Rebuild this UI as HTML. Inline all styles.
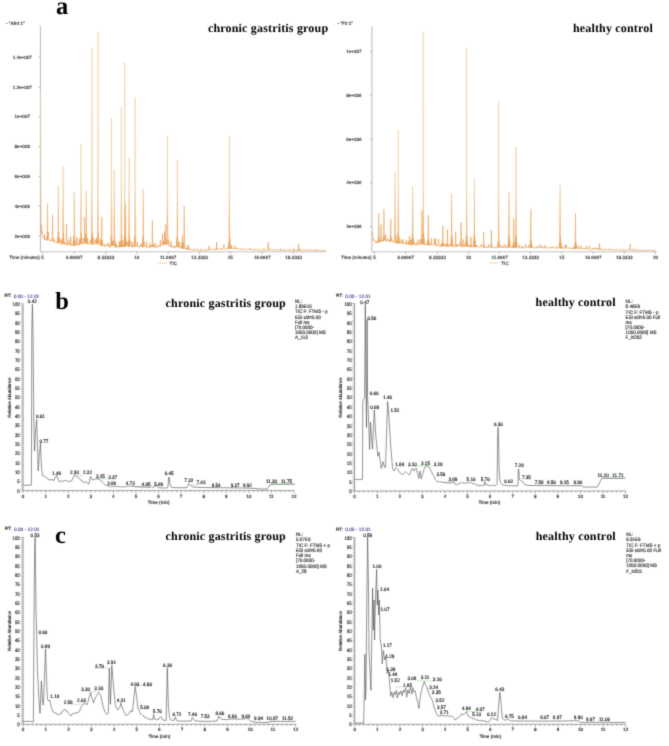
<!DOCTYPE html>
<html><head><meta charset="utf-8"><style>
html,body{margin:0;padding:0;background:#fff;}
svg{display:block;will-change:transform;} text{text-rendering:geometricPrecision;}
</style></head><body>
<svg width="669" height="746" viewBox="0 0 669 746">
<defs><linearGradient id="ga" gradientUnits="userSpaceOnUse" x1="0" y1="26" x2="0" y2="252"><stop offset="0" stop-color="#efd4ae"/><stop offset="0.72" stop-color="#efcfa2"/><stop offset="0.88" stop-color="#eca862"/><stop offset="1" stop-color="#e99c4e"/></linearGradient></defs>
<filter id="bl" filterUnits="userSpaceOnUse" x="-10" y="-10" width="689" height="766" color-interpolation-filters="sRGB"><feConvolveMatrix order="3" kernelMatrix="0.01917 0.10012 0.01917 0.10012 0.52283 0.10012 0.01917 0.10012 0.01917" preserveAlpha="true" edgeMode="duplicate"/></filter>
<rect width="669" height="746" fill="#fff"/>
<g filter="url(#bl)">
<rect x="-10" y="-10" width="689" height="766" fill="#fff"/>
<text x="56.00" y="13.80" font-size="24.5" text-anchor="start" fill="#000" font-family="&quot;Liberation Serif&quot;, serif" font-weight="bold" >a</text>
<text x="55.20" y="309.40" font-size="24.5" text-anchor="start" fill="#000" font-family="&quot;Liberation Serif&quot;, serif" font-weight="bold" >b</text>
<text x="54.90" y="542.90" font-size="24.5" text-anchor="start" fill="#000" font-family="&quot;Liberation Serif&quot;, serif" font-weight="bold" >c</text>
<text x="207.90" y="31.60" font-size="12.0" text-anchor="start" fill="#000" font-family="&quot;Liberation Serif&quot;, serif" font-weight="bold" letter-spacing="0.18">chronic gastritis group</text>
<text x="572.90" y="31.60" font-size="12.0" text-anchor="start" fill="#000" font-family="&quot;Liberation Serif&quot;, serif" font-weight="bold" letter-spacing="0.18">healthy control</text>
<text x="165.60" y="306.50" font-size="12.0" text-anchor="start" fill="#000" font-family="&quot;Liberation Serif&quot;, serif" font-weight="bold" letter-spacing="0.18">chronic gastritis group</text>
<text x="535.60" y="306.40" font-size="12.0" text-anchor="start" fill="#000" font-family="&quot;Liberation Serif&quot;, serif" font-weight="bold" letter-spacing="0.18">healthy control</text>
<text x="165.60" y="539.80" font-size="12.0" text-anchor="start" fill="#000" font-family="&quot;Liberation Serif&quot;, serif" font-weight="bold" letter-spacing="0.18">chronic gastritis group</text>
<text x="535.70" y="539.80" font-size="12.0" text-anchor="start" fill="#000" font-family="&quot;Liberation Serif&quot;, serif" font-weight="bold" letter-spacing="0.18">healthy control</text>
<line x1="40.40" y1="25.70" x2="40.40" y2="251.80" stroke="#999" stroke-width="0.7"/>
<line x1="40.40" y1="251.80" x2="326.50" y2="251.80" stroke="#aaa" stroke-width="0.7"/>
<line x1="38.40" y1="235.90" x2="40.40" y2="235.90" stroke="#888" stroke-width="0.6"/>
<text x="22.30" y="237.56" font-size="4.6" text-anchor="middle" fill="#444" font-family="&quot;Liberation Sans&quot;, sans-serif" font-weight="normal" stroke="#444" stroke-width="0.18" >2e+006</text>
<line x1="38.40" y1="206.10" x2="40.40" y2="206.10" stroke="#888" stroke-width="0.6"/>
<text x="22.30" y="207.76" font-size="4.6" text-anchor="middle" fill="#444" font-family="&quot;Liberation Sans&quot;, sans-serif" font-weight="normal" stroke="#444" stroke-width="0.18" >4e+006</text>
<line x1="38.40" y1="176.40" x2="40.40" y2="176.40" stroke="#888" stroke-width="0.6"/>
<text x="22.30" y="178.06" font-size="4.6" text-anchor="middle" fill="#444" font-family="&quot;Liberation Sans&quot;, sans-serif" font-weight="normal" stroke="#444" stroke-width="0.18" >6e+006</text>
<line x1="38.40" y1="146.60" x2="40.40" y2="146.60" stroke="#888" stroke-width="0.6"/>
<text x="22.30" y="148.26" font-size="4.6" text-anchor="middle" fill="#444" font-family="&quot;Liberation Sans&quot;, sans-serif" font-weight="normal" stroke="#444" stroke-width="0.18" >8e+006</text>
<line x1="38.40" y1="116.80" x2="40.40" y2="116.80" stroke="#888" stroke-width="0.6"/>
<text x="22.30" y="118.46" font-size="4.6" text-anchor="middle" fill="#444" font-family="&quot;Liberation Sans&quot;, sans-serif" font-weight="normal" stroke="#444" stroke-width="0.18" >1e+007</text>
<line x1="38.40" y1="87.10" x2="40.40" y2="87.10" stroke="#888" stroke-width="0.6"/>
<text x="22.30" y="88.76" font-size="4.6" text-anchor="middle" fill="#444" font-family="&quot;Liberation Sans&quot;, sans-serif" font-weight="normal" stroke="#444" stroke-width="0.18" >1.2e+007</text>
<line x1="38.40" y1="57.30" x2="40.40" y2="57.30" stroke="#888" stroke-width="0.6"/>
<text x="22.30" y="58.96" font-size="4.6" text-anchor="middle" fill="#444" font-family="&quot;Liberation Sans&quot;, sans-serif" font-weight="normal" stroke="#444" stroke-width="0.18" >1.4e+007</text>
<text x="6.00" y="24.66" font-size="4.6" text-anchor="start" fill="#444" font-family="&quot;Liberation Sans&quot;, sans-serif" font-weight="normal" stroke="#444" stroke-width="0.18" >- "AB4:1"</text>
<line x1="42.60" y1="251.80" x2="42.60" y2="253.80" stroke="#888" stroke-width="0.6"/>
<text x="42.60" y="259.36" font-size="4.6" text-anchor="middle" fill="#444" font-family="&quot;Liberation Sans&quot;, sans-serif" font-weight="normal" stroke="#444" stroke-width="0.18" ></text>
<line x1="74.30" y1="251.80" x2="74.30" y2="253.80" stroke="#888" stroke-width="0.6"/>
<text x="74.30" y="259.36" font-size="4.6" text-anchor="middle" fill="#444" font-family="&quot;Liberation Sans&quot;, sans-serif" font-weight="normal" stroke="#444" stroke-width="0.18" >6.66667</text>
<line x1="105.90" y1="251.80" x2="105.90" y2="253.80" stroke="#888" stroke-width="0.6"/>
<text x="105.90" y="259.36" font-size="4.6" text-anchor="middle" fill="#444" font-family="&quot;Liberation Sans&quot;, sans-serif" font-weight="normal" stroke="#444" stroke-width="0.18" >8.33333</text>
<line x1="136.80" y1="251.80" x2="136.80" y2="253.80" stroke="#888" stroke-width="0.6"/>
<text x="136.80" y="259.36" font-size="4.6" text-anchor="middle" fill="#444" font-family="&quot;Liberation Sans&quot;, sans-serif" font-weight="normal" stroke="#444" stroke-width="0.18" >10</text>
<line x1="168.20" y1="251.80" x2="168.20" y2="253.80" stroke="#888" stroke-width="0.6"/>
<text x="168.20" y="259.36" font-size="4.6" text-anchor="middle" fill="#444" font-family="&quot;Liberation Sans&quot;, sans-serif" font-weight="normal" stroke="#444" stroke-width="0.18" >11.6667</text>
<line x1="199.60" y1="251.80" x2="199.60" y2="253.80" stroke="#888" stroke-width="0.6"/>
<text x="199.60" y="259.36" font-size="4.6" text-anchor="middle" fill="#444" font-family="&quot;Liberation Sans&quot;, sans-serif" font-weight="normal" stroke="#444" stroke-width="0.18" >13.3333</text>
<line x1="230.20" y1="251.80" x2="230.20" y2="253.80" stroke="#888" stroke-width="0.6"/>
<text x="230.20" y="259.36" font-size="4.6" text-anchor="middle" fill="#444" font-family="&quot;Liberation Sans&quot;, sans-serif" font-weight="normal" stroke="#444" stroke-width="0.18" >15</text>
<line x1="262.20" y1="251.80" x2="262.20" y2="253.80" stroke="#888" stroke-width="0.6"/>
<text x="262.20" y="259.36" font-size="4.6" text-anchor="middle" fill="#444" font-family="&quot;Liberation Sans&quot;, sans-serif" font-weight="normal" stroke="#444" stroke-width="0.18" >16.6667</text>
<line x1="293.50" y1="251.80" x2="293.50" y2="253.80" stroke="#888" stroke-width="0.6"/>
<text x="293.50" y="259.36" font-size="4.6" text-anchor="middle" fill="#444" font-family="&quot;Liberation Sans&quot;, sans-serif" font-weight="normal" stroke="#444" stroke-width="0.18" >18.3333</text>
<text x="9.30" y="259.26" font-size="4.6" text-anchor="start" fill="#444" font-family="&quot;Liberation Sans&quot;, sans-serif" font-weight="normal" stroke="#444" stroke-width="0.18" >Time (minutes)</text>
<line x1="158.30" y1="263.00" x2="167.30" y2="263.00" stroke="#f0c08a" stroke-width="0.7"/>
<text x="169.60" y="264.66" font-size="4.6" text-anchor="start" fill="#444" font-family="&quot;Liberation Sans&quot;, sans-serif" font-weight="normal" stroke="#444" stroke-width="0.18" >TIC</text>
<path d="M40.60,93.00 L41.10,229.42 L41.16,231.35 L41.56,224.82 L41.70,234.17 L41.96,230.92 L42.30,235.50 L42.90,237.63 L43.50,237.25 L44.09,238.31 L44.10,238.39 L44.49,234.03 L44.70,239.86 L44.89,238.02 L45.30,238.92 L45.90,240.19 L46.40,239.34 L46.50,239.38 L46.89,238.56 L47.00,236.65 L47.10,240.40 L47.29,232.41 L47.35,233.50 L47.60,203.30 L47.69,238.15 L47.70,240.49 L47.90,233.06 L47.96,238.71 L48.30,236.20 L48.36,232.26 L48.76,238.28 L48.90,239.11 L49.50,240.83 L50.10,240.73 L50.70,239.91 L51.14,241.23 L51.30,240.94 L51.54,240.10 L51.90,238.98 L51.94,241.16 L52.25,236.68 L52.50,214.60 L52.80,236.35 L53.10,239.78 L53.20,238.65 L53.41,241.50 L53.70,242.21 L53.80,240.78 L53.81,238.91 L54.21,241.33 L54.30,240.46 L54.90,242.02 L55.50,242.57 L56.10,242.83 L56.67,242.99 L56.70,242.57 L57.07,241.67 L57.20,241.75 L57.30,241.55 L57.47,242.90 L57.80,237.55 L57.90,243.27 L57.95,241.46 L58.15,232.66 L58.35,234.35 L58.40,185.60 L58.50,242.47 L58.70,231.96 L58.75,240.99 L59.10,236.86 L59.70,241.40 L59.79,242.97 L60.19,239.16 L60.30,242.96 L60.59,242.72 L60.90,244.25 L61.50,244.40 L61.52,243.33 L61.92,239.41 L62.00,242.82 L62.10,244.18 L62.32,243.07 L62.60,238.62 L62.70,243.17 L62.95,233.72 L63.20,166.40 L63.30,243.92 L63.50,233.02 L63.90,237.92 L63.93,244.31 L64.33,241.71 L64.50,242.47 L64.73,244.13 L65.10,244.24 L65.40,244.76 L65.70,244.69 L66.00,243.22 L66.20,244.54 L66.30,243.58 L66.35,241.43 L66.60,224.20 L66.90,241.18 L67.00,244.34 L67.30,242.97 L67.50,245.06 L67.90,244.63 L68.10,244.35 L68.36,244.26 L68.70,244.55 L68.76,239.59 L69.16,243.95 L69.30,243.79 L69.90,244.22 L70.18,243.58 L70.50,245.36 L70.58,236.13 L70.98,243.08 L71.10,243.78 L71.70,245.92 L72.30,245.22 L72.90,244.42 L73.00,244.32 L73.02,245.17 L73.42,241.93 L73.50,245.89 L73.60,240.41 L73.82,244.96 L73.95,235.86 L74.10,245.10 L74.20,192.00 L74.50,235.20 L74.70,246.20 L74.90,239.76 L75.30,244.71 L75.50,244.00 L75.90,244.49 L76.45,243.99 L76.50,244.97 L76.85,236.89 L77.10,244.26 L77.25,243.52 L77.70,245.63 L78.30,244.73 L78.88,244.19 L78.90,244.74 L79.28,238.80 L79.50,244.50 L79.68,243.83 L79.90,243.08 L80.10,244.52 L80.50,238.88 L80.70,243.32 L80.71,242.93 L80.85,233.98 L81.10,144.30 L81.11,236.18 L81.30,242.88 L81.40,233.28 L81.51,242.48 L81.80,238.18 L81.90,243.90 L82.40,242.73 L82.50,243.34 L83.10,244.69 L83.40,243.58 L83.51,243.06 L83.70,243.04 L83.91,238.18 L84.00,241.59 L84.30,243.07 L84.31,242.74 L84.35,239.28 L84.60,217.00 L84.90,238.95 L84.92,242.43 L85.00,242.56 L85.30,241.26 L85.32,236.22 L85.50,242.53 L85.60,238.67 L85.72,242.02 L85.90,243.41 L85.95,234.13 L86.10,243.82 L86.20,190.50 L86.50,233.48 L86.70,243.57 L86.90,238.02 L87.11,242.96 L87.30,242.90 L87.50,242.23 L87.51,238.34 L87.90,244.45 L87.91,242.65 L88.50,243.39 L89.10,244.11 L89.70,244.28 L90.30,244.48 L90.41,243.49 L90.70,242.66 L90.81,239.98 L90.90,242.83 L91.21,243.26 L91.30,238.46 L91.50,244.42 L91.65,233.56 L91.90,48.10 L92.10,244.19 L92.20,232.86 L92.52,242.83 L92.60,237.76 L92.70,243.90 L92.92,236.74 L93.20,242.31 L93.30,242.80 L93.32,242.42 L93.90,244.75 L94.50,243.92 L94.81,243.67 L95.10,243.75 L95.21,239.42 L95.61,243.39 L95.70,243.03 L96.12,243.38 L96.30,243.25 L96.52,237.77 L96.80,243.33 L96.90,243.22 L96.92,243.00 L97.40,239.13 L97.50,244.70 L97.75,234.23 L98.00,31.30 L98.10,244.44 L98.30,233.53 L98.70,238.43 L99.30,242.98 L99.90,243.49 L100.15,244.26 L100.50,245.62 L100.55,239.25 L100.60,245.16 L100.95,243.93 L101.01,244.63 L101.10,245.71 L101.20,243.06 L101.41,240.12 L101.55,240.61 L101.70,245.73 L101.80,217.00 L101.81,244.33 L102.10,240.26 L102.30,245.86 L102.50,242.71 L102.90,245.49 L103.10,244.99 L103.50,245.42 L104.10,246.21 L104.68,246.24 L104.70,246.86 L105.08,244.10 L105.30,246.16 L105.48,246.10 L105.90,246.32 L106.50,245.99 L107.10,245.28 L107.37,246.14 L107.70,245.87 L107.77,242.77 L108.17,245.91 L108.30,246.28 L108.90,246.14 L109.23,246.61 L109.50,246.09 L109.63,244.09 L110.03,246.44 L110.10,247.39 L110.30,245.55 L110.70,245.77 L110.90,241.35 L111.25,236.45 L111.30,246.07 L111.50,118.00 L111.80,235.75 L111.90,245.94 L112.20,240.65 L112.50,246.07 L112.80,245.20 L112.85,245.95 L113.10,245.46 L113.25,240.93 L113.65,245.62 L113.70,241.26 L114.05,236.36 L114.30,169.60 L114.60,235.66 L114.86,246.86 L114.90,246.26 L115.00,240.56 L115.26,244.90 L115.50,247.37 L115.60,245.11 L115.66,246.73 L116.10,247.32 L116.23,246.48 L116.63,243.64 L116.70,247.01 L117.03,246.29 L117.30,247.06 L117.90,246.67 L118.50,247.21 L118.97,245.69 L119.10,247.29 L119.37,240.92 L119.70,246.96 L119.77,245.37 L120.20,245.08 L120.30,247.03 L120.80,240.88 L120.90,246.48 L121.15,235.98 L121.40,106.80 L121.50,247.13 L121.70,235.28 L121.83,246.54 L122.10,240.18 L122.23,244.73 L122.63,246.42 L122.70,244.73 L123.30,246.80 L123.41,246.62 L123.50,244.94 L123.81,245.26 L123.90,246.57 L124.10,240.74 L124.21,246.53 L124.40,245.46 L124.45,235.84 L124.50,246.35 L124.70,62.30 L125.00,242.36 L125.10,246.29 L125.35,238.75 L125.40,240.04 L125.60,204.00 L125.70,246.76 L125.90,238.23 L126.00,244.59 L126.30,241.84 L126.83,245.82 L126.90,245.20 L127.23,242.04 L127.50,246.16 L127.63,245.57 L128.00,245.08 L128.10,246.16 L128.60,240.88 L128.70,246.98 L128.81,245.73 L128.95,235.98 L129.20,157.50 L129.21,241.40 L129.30,246.98 L129.50,235.28 L129.61,245.44 L129.90,240.18 L130.50,244.73 L131.10,245.61 L131.70,246.98 L131.79,245.93 L132.19,241.75 L132.30,247.28 L132.59,245.65 L132.90,245.46 L133.50,246.33 L133.80,245.36 L134.10,247.12 L134.18,245.72 L134.40,241.16 L134.58,240.55 L134.70,246.36 L134.75,236.26 L134.98,245.37 L135.00,97.20 L135.30,235.56 L135.70,240.46 L135.90,246.45 L136.30,245.01 L136.50,245.57 L137.10,245.83 L137.27,246.21 L137.67,242.06 L137.70,246.20 L138.07,245.93 L138.30,247.10 L138.90,246.91 L139.50,247.34 L140.10,246.16 L140.56,246.67 L140.70,246.65 L140.96,243.54 L141.30,246.17 L141.36,246.46 L141.90,247.08 L142.00,245.66 L142.50,247.30 L142.60,241.46 L142.95,236.56 L143.10,246.14 L143.20,188.90 L143.50,235.86 L143.70,246.78 L143.90,240.76 L144.10,243.78 L144.30,246.08 L144.50,245.31 L144.90,246.19 L145.50,246.17 L146.10,246.34 L146.14,246.26 L146.54,241.53 L146.70,247.38 L146.94,245.94 L147.30,246.81 L147.90,247.15 L148.50,247.81 L149.10,247.83 L149.49,246.80 L149.70,247.34 L149.89,243.49 L150.29,246.58 L150.30,247.39 L150.90,246.53 L151.20,246.96 L151.50,246.02 L151.80,244.99 L152.10,247.05 L152.15,242.70 L152.40,220.60 L152.70,242.37 L153.06,246.99 L153.10,244.67 L153.30,245.99 L153.46,244.05 L153.70,246.80 L153.86,246.79 L153.90,246.07 L154.50,247.26 L154.75,246.68 L155.10,247.54 L155.15,242.78 L155.55,246.42 L155.70,247.43 L156.30,247.40 L156.90,247.29 L157.50,246.35 L157.52,246.88 L157.92,244.92 L158.10,245.70 L158.32,246.75 L158.70,245.73 L159.30,246.35 L159.90,245.91 L160.05,245.26 L160.45,240.20 L160.50,245.32 L160.85,244.92 L161.10,246.41 L161.30,245.36 L161.70,244.92 L161.90,244.50 L162.25,243.50 L162.30,244.08 L162.50,233.90 L162.80,243.36 L162.90,243.99 L163.20,244.36 L163.30,244.66 L163.50,243.88 L163.60,241.25 L163.80,245.28 L163.90,243.68 L164.00,244.13 L164.10,244.29 L164.25,242.53 L164.50,231.50 L164.60,244.10 L164.70,244.75 L164.80,242.37 L165.20,242.62 L165.30,243.39 L165.55,240.88 L165.80,224.20 L165.90,244.16 L166.10,240.63 L166.14,244.41 L166.20,243.54 L166.50,242.37 L166.54,242.25 L166.80,239.34 L166.94,244.26 L167.10,243.98 L167.15,234.44 L167.40,136.20 L167.70,233.74 L168.10,238.64 L168.19,244.62 L168.30,245.33 L168.59,239.66 L168.70,243.19 L168.90,244.51 L168.99,244.29 L169.50,245.23 L170.10,246.60 L170.46,245.81 L170.70,246.96 L170.86,241.37 L171.26,245.51 L171.30,247.18 L171.90,245.95 L172.50,246.24 L173.10,247.63 L173.70,246.34 L174.30,246.10 L174.41,247.58 L174.81,245.97 L174.90,246.81 L175.21,247.47 L175.50,247.49 L176.10,246.30 L176.38,247.11 L176.70,242.10 L176.78,243.42 L177.05,237.20 L177.18,246.86 L177.30,160.00 L177.60,236.50 L177.90,246.52 L178.00,241.40 L178.50,247.23 L178.60,245.95 L178.82,247.05 L179.10,247.55 L179.22,242.36 L179.62,246.74 L179.70,246.80 L180.30,247.87 L180.90,247.07 L181.16,247.37 L181.30,248.53 L181.50,247.24 L181.56,242.78 L181.90,247.56 L181.96,247.06 L182.10,248.55 L182.25,246.43 L182.50,235.50 L182.70,248.54 L182.80,246.26 L182.99,247.57 L183.00,247.67 L183.20,247.40 L183.30,248.54 L183.39,242.85 L183.60,244.54 L183.79,247.25 L183.80,248.45 L183.90,248.72 L183.95,240.88 L184.20,205.70 L184.50,240.36 L184.90,244.02 L185.10,248.84 L185.50,247.41 L185.70,248.59 L186.08,249.24 L186.30,249.25 L186.48,248.34 L186.88,249.18 L186.90,247.77 L187.40,249.64 L187.50,248.94 L187.81,248.46 L188.00,249.41 L188.10,248.79 L188.21,244.68 L188.35,249.13 L188.60,246.50 L188.61,248.21 L188.70,248.60 L188.90,249.09 L189.29,249.59 L189.30,249.37 L189.69,248.75 L189.90,249.62 L190.09,249.53 L190.50,249.12 L191.10,249.56 L191.70,249.59 L192.30,249.66 L192.90,250.17 L193.50,249.85 L193.87,250.02 L194.10,250.15 L194.27,249.09 L194.67,249.96 L194.70,250.37 L195.30,249.69 L195.90,250.26 L196.49,250.05 L196.50,250.00 L196.89,248.88 L197.10,249.79 L197.29,249.97 L197.70,249.95 L198.30,250.17 L198.90,250.01 L199.50,249.99 L200.10,249.80 L200.61,250.07 L200.70,250.42 L201.01,248.73 L201.30,250.02 L201.41,249.98 L201.90,250.31 L202.50,250.30 L203.10,249.87 L203.70,250.12 L204.30,250.08 L204.90,249.91 L205.50,249.74 L205.75,250.25 L206.10,250.11 L206.15,249.49 L206.55,250.20 L206.70,249.91 L207.30,249.96 L207.80,250.13 L207.90,249.91 L208.40,249.82 L208.50,249.70 L208.75,249.46 L209.00,246.00 L209.10,249.86 L209.30,249.41 L209.70,249.77 L209.80,249.87 L210.20,248.93 L210.30,250.10 L210.60,249.81 L210.90,249.29 L211.50,249.46 L212.10,249.25 L212.70,249.15 L213.30,249.72 L213.90,249.40 L214.50,249.01 L215.10,249.06 L215.40,249.43 L215.70,249.65 L215.74,249.39 L216.00,248.87 L216.14,248.33 L216.30,249.62 L216.35,248.23 L216.54,249.32 L216.60,242.00 L216.90,248.13 L217.30,248.78 L217.50,249.57 L217.90,249.38 L218.10,249.38 L218.70,249.51 L219.30,248.96 L219.90,248.84 L220.15,249.16 L220.50,248.72 L220.55,248.09 L220.95,249.09 L221.10,249.37 L221.70,248.84 L222.30,248.88 L222.80,249.24 L222.90,249.32 L223.40,248.87 L223.50,248.64 L223.75,248.44 L224.00,244.30 L224.10,248.55 L224.30,248.38 L224.70,248.81 L225.19,249.29 L225.30,249.20 L225.59,249.03 L225.90,249.00 L225.99,249.27 L226.50,248.91 L227.10,248.44 L227.70,248.56 L228.20,247.03 L228.30,249.12 L228.80,242.82 L228.90,248.80 L229.15,237.93 L229.40,136.30 L229.50,248.65 L229.70,237.22 L230.10,242.12 L230.30,248.72 L230.70,246.68 L230.88,248.55 L230.90,248.45 L231.25,248.12 L231.28,247.51 L231.30,248.60 L231.50,245.00 L231.68,248.48 L231.80,248.07 L231.90,248.16 L232.20,248.40 L232.50,248.83 L232.80,248.70 L233.10,248.40 L233.50,248.91 L233.70,248.55 L234.10,248.65 L234.30,248.98 L234.45,248.36 L234.70,245.50 L234.90,248.76 L235.00,248.31 L235.40,248.61 L235.50,248.54 L236.00,248.89 L236.10,248.70 L236.69,248.83 L236.70,249.15 L237.09,247.56 L237.30,248.38 L237.49,248.74 L237.90,248.61 L238.50,248.49 L239.10,249.33 L239.70,249.23 L240.30,249.47 L240.90,248.83 L241.01,249.31 L241.41,248.58 L241.50,249.31 L241.81,249.26 L242.10,249.46 L242.70,249.21 L243.30,248.80 L243.90,248.90 L244.50,249.42 L245.10,249.54 L245.70,248.87 L246.30,249.21 L246.78,249.64 L246.90,249.11 L247.18,249.31 L247.50,249.68 L247.58,249.62 L248.10,249.73 L248.70,249.19 L249.30,249.44 L249.50,249.41 L249.90,248.10 L250.30,249.32 L250.50,249.02 L251.10,249.32 L251.70,249.19 L252.30,249.86 L252.90,249.18 L253.50,249.91 L254.10,249.22 L254.32,249.83 L254.70,249.61 L254.72,249.26 L255.12,249.79 L255.30,249.73 L255.90,249.56 L256.50,249.24 L257.10,249.86 L257.70,250.00 L258.30,249.67 L258.55,249.96 L258.90,249.95 L258.95,249.34 L259.35,249.92 L259.50,250.08 L260.10,250.06 L260.70,250.16 L261.30,250.03 L261.90,249.94 L262.50,249.95 L263.10,249.55 L263.52,249.83 L263.70,249.98 L263.92,248.58 L264.30,249.79 L264.32,249.74 L264.90,250.09 L265.50,249.94 L266.10,250.24 L266.70,250.04 L267.00,249.98 L267.30,250.26 L267.60,249.39 L267.90,249.62 L267.95,248.69 L268.20,242.00 L268.50,248.59 L268.90,249.29 L268.93,249.90 L269.10,250.12 L269.33,248.71 L269.50,249.93 L269.70,249.87 L269.73,249.82 L270.30,249.46 L270.90,250.21 L271.50,249.58 L272.10,249.93 L272.70,249.88 L273.30,249.58 L273.90,249.99 L274.44,250.21 L274.50,249.89 L274.84,249.80 L275.10,249.73 L275.24,250.19 L275.70,249.47 L276.30,250.05 L276.90,249.62 L277.50,249.74 L278.10,249.81 L278.70,250.02 L279.30,250.08 L279.90,250.35 L280.27,249.99 L280.50,250.29 L280.67,248.75 L281.07,249.91 L281.10,250.34 L281.70,249.74 L282.30,250.18 L282.90,250.27 L283.50,250.34 L284.10,249.66 L284.65,250.27 L284.70,249.64 L285.05,249.81 L285.30,249.82 L285.45,250.24 L285.90,250.18 L286.50,250.21 L287.10,250.17 L287.70,250.02 L288.30,250.30 L288.90,250.04 L289.50,250.21 L289.88,250.27 L290.10,249.58 L290.28,249.72 L290.68,250.23 L290.70,249.58 L291.30,249.96 L291.90,250.24 L292.50,249.59 L293.10,250.19 L293.54,250.02 L293.70,250.15 L293.94,248.68 L294.30,250.47 L294.34,249.93 L294.90,250.13 L295.50,250.05 L296.10,250.03 L296.70,250.30 L296.86,250.26 L297.26,249.57 L297.30,250.03 L297.40,250.25 L297.66,250.21 L297.90,250.49 L298.00,249.77 L298.35,249.21 L298.50,250.25 L298.60,243.80 L298.90,249.13 L299.10,250.41 L299.30,249.69 L299.70,250.14 L299.81,250.14 L299.90,250.21 L300.21,249.05 L300.30,250.47 L300.61,250.07 L300.90,250.49 L301.50,250.25 L302.10,250.32 L302.70,250.01 L303.30,250.07 L303.90,249.88 L304.50,249.98 L305.02,250.28 L305.10,249.93 L305.42,249.36 L305.70,249.80 L305.82,250.22 L306.30,250.25 L306.90,250.31 L307.50,249.73 L308.10,250.49 L308.70,249.98 L309.10,250.45 L309.30,250.06 L309.50,249.85 L309.90,250.41 L310.50,249.91 L311.10,249.87 L311.70,250.12 L312.30,250.03 L312.90,249.97 L313.50,250.58 L314.10,250.25 L314.70,250.27 L314.94,250.47 L315.30,249.98 L315.34,249.68 L315.74,250.42 L315.90,250.02 L316.50,250.01 L317.10,250.24 L317.70,249.97 L318.30,250.17 L318.90,250.17 L319.50,250.59 L319.98,250.71 L320.10,250.78 L320.38,250.40 L320.70,250.70 L320.78,250.69 L321.30,250.50 L321.90,250.74 L322.50,250.09 L323.10,250.35 L323.70,250.30 L324.30,250.31 L324.42,250.73 L324.82,250.29 L324.90,250.27 L325.22,250.70 L325.50,250.45" fill="none" stroke="url(#ga)" stroke-width="0.7" stroke-linejoin="round" />
<text x="42.60" y="259.36" font-size="4.6" text-anchor="middle" fill="#444" font-family="&quot;Liberation Sans&quot;, sans-serif" font-weight="normal" stroke="#444" stroke-width="0.18" >5</text>
<line x1="371.90" y1="26.00" x2="371.90" y2="251.80" stroke="#999" stroke-width="0.7"/>
<line x1="371.90" y1="251.80" x2="656.50" y2="251.80" stroke="#aaa" stroke-width="0.7"/>
<line x1="369.90" y1="226.60" x2="371.90" y2="226.60" stroke="#888" stroke-width="0.6"/>
<text x="353.90" y="228.26" font-size="4.6" text-anchor="middle" fill="#444" font-family="&quot;Liberation Sans&quot;, sans-serif" font-weight="normal" stroke="#444" stroke-width="0.18" >2e+006</text>
<line x1="369.90" y1="182.80" x2="371.90" y2="182.80" stroke="#888" stroke-width="0.6"/>
<text x="353.90" y="184.46" font-size="4.6" text-anchor="middle" fill="#444" font-family="&quot;Liberation Sans&quot;, sans-serif" font-weight="normal" stroke="#444" stroke-width="0.18" >4e+006</text>
<line x1="369.90" y1="139.00" x2="371.90" y2="139.00" stroke="#888" stroke-width="0.6"/>
<text x="353.90" y="140.66" font-size="4.6" text-anchor="middle" fill="#444" font-family="&quot;Liberation Sans&quot;, sans-serif" font-weight="normal" stroke="#444" stroke-width="0.18" >6e+006</text>
<line x1="369.90" y1="95.10" x2="371.90" y2="95.10" stroke="#888" stroke-width="0.6"/>
<text x="353.90" y="96.76" font-size="4.6" text-anchor="middle" fill="#444" font-family="&quot;Liberation Sans&quot;, sans-serif" font-weight="normal" stroke="#444" stroke-width="0.18" >8e+006</text>
<line x1="369.90" y1="51.30" x2="371.90" y2="51.30" stroke="#888" stroke-width="0.6"/>
<text x="353.90" y="52.96" font-size="4.6" text-anchor="middle" fill="#444" font-family="&quot;Liberation Sans&quot;, sans-serif" font-weight="normal" stroke="#444" stroke-width="0.18" >1e+007</text>
<text x="337.60" y="25.26" font-size="4.6" text-anchor="start" fill="#444" font-family="&quot;Liberation Sans&quot;, sans-serif" font-weight="normal" stroke="#444" stroke-width="0.18" >- "F2:1"</text>
<line x1="374.60" y1="251.80" x2="374.60" y2="253.80" stroke="#888" stroke-width="0.6"/>
<text x="374.60" y="259.36" font-size="4.6" text-anchor="middle" fill="#444" font-family="&quot;Liberation Sans&quot;, sans-serif" font-weight="normal" stroke="#444" stroke-width="0.18" ></text>
<line x1="405.70" y1="251.80" x2="405.70" y2="253.80" stroke="#888" stroke-width="0.6"/>
<text x="405.70" y="259.36" font-size="4.6" text-anchor="middle" fill="#444" font-family="&quot;Liberation Sans&quot;, sans-serif" font-weight="normal" stroke="#444" stroke-width="0.18" >6.66667</text>
<line x1="437.40" y1="251.80" x2="437.40" y2="253.80" stroke="#888" stroke-width="0.6"/>
<text x="437.40" y="259.36" font-size="4.6" text-anchor="middle" fill="#444" font-family="&quot;Liberation Sans&quot;, sans-serif" font-weight="normal" stroke="#444" stroke-width="0.18" >8.33333</text>
<line x1="468.50" y1="251.80" x2="468.50" y2="253.80" stroke="#888" stroke-width="0.6"/>
<text x="468.50" y="259.36" font-size="4.6" text-anchor="middle" fill="#444" font-family="&quot;Liberation Sans&quot;, sans-serif" font-weight="normal" stroke="#444" stroke-width="0.18" >10</text>
<line x1="499.60" y1="251.80" x2="499.60" y2="253.80" stroke="#888" stroke-width="0.6"/>
<text x="499.60" y="259.36" font-size="4.6" text-anchor="middle" fill="#444" font-family="&quot;Liberation Sans&quot;, sans-serif" font-weight="normal" stroke="#444" stroke-width="0.18" >11.6667</text>
<line x1="530.60" y1="251.80" x2="530.60" y2="253.80" stroke="#888" stroke-width="0.6"/>
<text x="530.60" y="259.36" font-size="4.6" text-anchor="middle" fill="#444" font-family="&quot;Liberation Sans&quot;, sans-serif" font-weight="normal" stroke="#444" stroke-width="0.18" >13.3333</text>
<line x1="561.90" y1="251.80" x2="561.90" y2="253.80" stroke="#888" stroke-width="0.6"/>
<text x="561.90" y="259.36" font-size="4.6" text-anchor="middle" fill="#444" font-family="&quot;Liberation Sans&quot;, sans-serif" font-weight="normal" stroke="#444" stroke-width="0.18" >15</text>
<line x1="593.30" y1="251.80" x2="593.30" y2="253.80" stroke="#888" stroke-width="0.6"/>
<text x="593.30" y="259.36" font-size="4.6" text-anchor="middle" fill="#444" font-family="&quot;Liberation Sans&quot;, sans-serif" font-weight="normal" stroke="#444" stroke-width="0.18" >16.6667</text>
<line x1="624.20" y1="251.80" x2="624.20" y2="253.80" stroke="#888" stroke-width="0.6"/>
<text x="624.20" y="259.36" font-size="4.6" text-anchor="middle" fill="#444" font-family="&quot;Liberation Sans&quot;, sans-serif" font-weight="normal" stroke="#444" stroke-width="0.18" >18.3333</text>
<line x1="655.50" y1="251.80" x2="655.50" y2="253.80" stroke="#888" stroke-width="0.6"/>
<text x="655.50" y="259.36" font-size="4.6" text-anchor="middle" fill="#444" font-family="&quot;Liberation Sans&quot;, sans-serif" font-weight="normal" stroke="#444" stroke-width="0.18" >20</text>
<text x="341.00" y="259.26" font-size="4.6" text-anchor="start" fill="#444" font-family="&quot;Liberation Sans&quot;, sans-serif" font-weight="normal" stroke="#444" stroke-width="0.18" >Time (minutes)</text>
<line x1="489.30" y1="262.90" x2="499.00" y2="262.90" stroke="#f0c08a" stroke-width="0.7"/>
<text x="501.30" y="264.56" font-size="4.6" text-anchor="start" fill="#444" font-family="&quot;Liberation Sans&quot;, sans-serif" font-weight="normal" stroke="#444" stroke-width="0.18" >TIC</text>
<path d="M372.40,232.00 L372.90,237.73 L373.28,240.65 L373.50,238.58 L373.68,239.23 L374.08,240.56 L374.10,240.87 L374.70,241.52 L375.30,241.55 L375.44,242.41 L375.84,241.17 L375.90,241.38 L376.24,242.33 L376.50,242.79 L377.10,241.42 L377.50,241.93 L377.70,242.59 L378.10,239.77 L378.30,242.95 L378.45,237.26 L378.61,241.26 L378.70,213.10 L378.90,242.36 L379.00,236.90 L379.01,236.27 L379.40,239.42 L379.41,240.92 L379.50,241.18 L379.80,241.72 L380.00,241.75 L380.10,242.16 L380.40,240.44 L380.56,241.16 L380.70,240.82 L380.75,238.95 L380.96,237.52 L381.00,224.60 L381.30,238.74 L381.36,240.92 L381.70,240.23 L381.90,241.02 L382.30,241.61 L382.50,241.10 L382.58,241.33 L382.70,240.53 L382.98,239.88 L383.10,240.74 L383.30,238.18 L383.38,241.23 L383.65,235.43 L383.70,240.23 L383.90,209.00 L384.20,235.04 L384.30,239.98 L384.60,237.78 L384.90,240.25 L385.20,240.34 L385.47,239.80 L385.50,240.14 L385.87,234.68 L386.10,241.32 L386.27,239.46 L386.70,241.11 L387.30,240.81 L387.90,239.67 L388.16,240.81 L388.50,240.76 L388.56,238.92 L388.96,240.69 L389.10,240.33 L389.60,241.19 L389.70,241.70 L390.08,240.38 L390.20,239.56 L390.30,241.74 L390.48,235.74 L390.55,237.66 L390.80,219.40 L390.88,240.07 L390.90,241.43 L391.10,237.39 L391.50,239.29 L392.10,241.05 L392.70,241.02 L393.29,242.36 L393.30,242.05 L393.69,241.02 L393.90,241.13 L394.09,242.27 L394.50,236.93 L394.85,232.03 L395.10,171.80 L395.40,231.33 L395.59,242.34 L395.70,243.15 L395.80,236.23 L395.99,238.86 L396.30,241.62 L396.39,242.11 L396.40,240.78 L396.90,243.33 L397.10,241.83 L397.29,243.42 L397.50,241.70 L397.69,242.06 L397.70,237.63 L398.05,232.73 L398.09,243.33 L398.10,241.85 L398.30,130.60 L398.60,232.03 L398.70,243.93 L399.00,236.93 L399.30,243.02 L399.60,241.48 L399.90,242.29 L400.50,242.02 L400.79,242.99 L401.10,243.22 L401.19,239.29 L401.59,242.74 L401.70,243.68 L402.30,243.87 L402.90,242.32 L402.95,243.18 L403.35,239.36 L403.50,244.01 L403.75,242.92 L404.10,243.26 L404.70,244.29 L405.30,243.52 L405.83,243.61 L405.90,242.64 L406.23,240.12 L406.50,244.51 L406.63,243.38 L407.10,243.07 L407.70,243.82 L407.81,243.97 L408.20,244.80 L408.21,240.87 L408.30,243.06 L408.61,243.76 L408.80,244.15 L408.90,243.53 L409.15,243.38 L409.37,243.49 L409.40,236.00 L409.50,244.63 L409.70,243.27 L409.77,238.45 L410.10,244.04 L410.17,243.16 L410.70,244.75 L410.80,243.84 L411.20,239.74 L411.30,245.15 L411.40,243.10 L411.60,243.56 L411.90,245.19 L412.00,238.90 L412.35,234.00 L412.50,244.12 L412.60,186.40 L412.90,233.30 L413.10,244.21 L413.30,238.20 L413.47,244.10 L413.70,244.54 L413.87,240.80 L413.90,242.75 L414.27,243.88 L414.30,244.89 L414.90,244.44 L415.50,244.50 L416.10,243.35 L416.20,244.57 L416.60,242.67 L416.70,245.20 L417.00,244.44 L417.30,243.55 L417.52,243.82 L417.90,243.35 L417.92,239.70 L418.32,243.55 L418.50,244.94 L419.10,243.16 L419.70,243.63 L419.78,243.64 L420.18,238.93 L420.30,243.23 L420.58,243.33 L420.70,244.04 L420.90,244.62 L421.30,241.50 L421.50,244.47 L421.65,238.53 L421.90,210.00 L422.10,243.30 L422.17,243.52 L422.20,238.11 L422.57,238.00 L422.60,241.08 L422.70,239.10 L422.97,243.15 L423.05,234.20 L423.20,243.83 L423.30,31.70 L423.39,244.74 L423.60,233.50 L423.79,242.67 L423.90,244.64 L424.00,238.40 L424.19,244.60 L424.50,244.53 L424.60,242.95 L425.10,244.90 L425.70,245.44 L426.30,245.35 L426.84,244.93 L426.90,243.78 L427.10,244.60 L427.24,242.82 L427.50,245.02 L427.64,244.79 L427.70,242.40 L428.05,239.84 L428.10,243.63 L428.30,215.20 L428.47,244.65 L428.60,239.48 L428.70,245.17 L428.87,241.41 L429.00,242.04 L429.27,244.44 L429.30,245.17 L429.60,244.42 L429.90,244.67 L430.50,245.43 L430.84,244.10 L431.10,245.09 L431.24,238.63 L431.64,243.74 L431.70,243.87 L432.30,244.08 L432.90,244.30 L433.50,244.76 L433.94,244.30 L434.10,244.20 L434.34,238.51 L434.70,244.20 L434.74,243.92 L435.11,244.41 L435.30,245.12 L435.51,238.58 L435.90,244.81 L435.91,244.02 L436.50,246.34 L437.10,244.90 L437.70,245.58 L438.05,244.74 L438.30,244.97 L438.45,239.03 L438.85,244.36 L438.90,245.27 L439.50,246.12 L440.10,246.69 L440.70,244.78 L441.11,246.03 L441.30,246.55 L441.51,243.64 L441.60,246.09 L441.90,245.80 L441.91,245.87 L442.20,244.56 L442.50,246.09 L442.55,242.77 L442.62,246.33 L442.80,225.60 L443.02,244.73 L443.10,242.52 L443.42,246.22 L443.50,244.31 L443.70,245.25 L444.10,245.96 L444.30,244.74 L444.90,246.33 L445.47,246.05 L445.50,245.47 L445.87,243.46 L446.06,246.34 L446.10,246.26 L446.20,246.33 L446.27,245.88 L446.46,244.58 L446.70,245.71 L446.80,245.09 L446.86,246.22 L447.15,243.64 L447.30,246.08 L447.40,229.70 L447.70,243.43 L447.90,246.59 L448.10,244.88 L448.50,246.61 L448.70,246.22 L449.10,246.52 L449.25,246.20 L449.65,243.82 L449.70,245.00 L450.05,246.04 L450.30,245.91 L450.40,245.10 L450.90,246.53 L451.00,241.24 L451.35,236.73 L451.50,245.04 L451.60,193.40 L451.82,246.02 L451.90,236.09 L452.10,244.85 L452.22,242.96 L452.30,240.60 L452.62,245.82 L452.69,246.67 L452.70,246.06 L452.90,244.78 L453.09,245.49 L453.30,246.76 L453.49,246.59 L453.90,246.65 L454.50,246.56 L455.10,245.46 L455.35,246.56 L455.45,244.17 L455.70,231.80 L455.75,244.90 L456.00,243.99 L456.15,246.45 L456.30,246.60 L456.40,245.28 L456.87,246.42 L456.90,246.57 L457.00,246.47 L457.27,244.25 L457.50,245.90 L457.67,246.28 L458.10,245.21 L458.70,245.52 L459.30,246.28 L459.54,246.00 L459.90,246.33 L459.94,242.40 L460.34,245.76 L460.50,244.55 L460.85,242.48 L461.10,222.50 L461.40,242.18 L461.70,246.49 L461.80,244.26 L462.30,247.11 L462.40,246.18 L462.68,245.28 L462.90,246.65 L463.08,239.35 L463.48,244.89 L463.50,245.14 L464.10,247.01 L464.70,246.19 L464.85,246.31 L465.25,243.31 L465.30,245.92 L465.40,245.23 L465.65,246.11 L465.90,245.42 L466.00,241.03 L466.35,236.13 L466.50,246.85 L466.60,48.40 L466.80,246.62 L466.90,235.43 L467.10,246.75 L467.20,244.45 L467.30,240.33 L467.60,246.48 L467.70,246.81 L467.90,244.88 L468.30,246.49 L468.90,246.40 L469.50,245.29 L469.70,247.04 L469.75,246.62 L470.10,246.21 L470.15,244.28 L470.30,246.29 L470.55,246.47 L470.65,245.42 L470.70,246.19 L470.90,237.00 L471.20,245.29 L471.30,247.40 L471.60,246.17 L471.90,247.39 L472.20,246.98 L472.50,246.46 L473.10,246.21 L473.20,245.39 L473.66,246.70 L473.70,246.81 L473.80,241.19 L474.06,244.37 L474.15,236.29 L474.30,246.66 L474.40,178.80 L474.46,246.55 L474.70,235.59 L474.90,247.50 L475.10,240.49 L475.50,246.96 L475.70,245.04 L476.10,246.22 L476.33,246.99 L476.70,246.38 L476.73,245.35 L477.13,246.88 L477.30,246.35 L477.90,246.20 L478.50,247.22 L479.10,247.43 L479.70,247.38 L480.30,246.88 L480.87,246.73 L480.90,246.68 L481.27,243.99 L481.50,246.34 L481.67,246.55 L482.10,246.67 L482.50,247.19 L482.70,246.80 L482.96,247.37 L483.10,246.08 L483.30,246.66 L483.36,246.30 L483.45,244.78 L483.70,232.30 L483.76,247.30 L483.90,247.12 L484.00,244.60 L484.40,245.89 L484.50,247.01 L485.00,247.10 L485.10,247.75 L485.70,246.73 L486.16,247.70 L486.30,247.53 L486.56,247.22 L486.90,246.59 L486.96,247.67 L487.50,247.00 L488.10,247.50 L488.30,247.02 L488.70,244.23 L489.10,246.83 L489.30,247.62 L489.90,247.11 L490.20,247.35 L490.50,247.02 L490.80,246.06 L491.10,247.84 L491.15,244.54 L491.40,230.00 L491.63,247.17 L491.70,244.33 L492.03,244.69 L492.10,245.84 L492.30,247.27 L492.43,247.01 L492.70,247.24 L492.90,247.18 L493.50,247.46 L494.10,247.69 L494.53,247.74 L494.70,247.16 L494.93,246.97 L495.30,247.99 L495.33,247.69 L495.90,247.58 L496.50,247.36 L496.94,247.67 L497.10,246.66 L497.34,246.69 L497.40,245.90 L497.70,247.10 L497.74,247.61 L498.00,241.70 L498.30,246.76 L498.35,236.80 L498.60,101.10 L498.90,236.10 L499.30,241.00 L499.50,247.67 L499.56,247.11 L499.90,245.55 L499.96,244.43 L500.10,247.66 L500.36,246.93 L500.70,246.66 L501.30,247.03 L501.90,247.59 L502.16,247.42 L502.50,247.99 L502.56,245.59 L502.96,247.30 L503.10,247.33 L503.70,247.09 L504.30,247.45 L504.57,247.10 L504.90,247.69 L504.97,244.25 L505.37,246.91 L505.50,247.12 L506.10,246.77 L506.70,247.75 L507.30,248.03 L507.80,246.07 L507.90,247.61 L508.40,242.03 L508.50,247.50 L508.75,237.32 L508.83,247.18 L509.00,192.00 L509.10,247.14 L509.23,244.45 L509.30,236.65 L509.63,247.00 L509.70,241.36 L510.30,245.73 L510.74,247.83 L510.90,247.08 L511.14,246.96 L511.50,247.42 L511.54,247.77 L512.10,247.85 L512.50,247.10 L512.70,246.80 L512.74,247.76 L513.10,244.95 L513.14,246.54 L513.30,247.73 L513.45,242.44 L513.54,247.68 L513.70,218.30 L513.90,247.03 L514.00,242.08 L514.40,244.59 L514.50,247.87 L514.80,246.12 L515.00,246.92 L515.10,247.89 L515.40,241.92 L515.70,247.15 L515.75,237.02 L515.86,247.50 L516.00,146.90 L516.26,245.32 L516.30,236.32 L516.66,247.35 L516.70,241.22 L516.90,246.91 L517.30,245.77 L517.50,247.56 L518.10,248.00 L518.70,247.96 L518.93,247.44 L519.30,247.70 L519.33,244.90 L519.73,247.27 L519.90,247.37 L520.50,246.96 L521.10,248.07 L521.70,247.72 L521.90,247.69 L522.30,246.02 L522.70,247.58 L522.90,246.88 L523.50,248.03 L524.10,248.15 L524.70,248.12 L524.96,247.21 L525.30,247.64 L525.36,244.28 L525.76,247.02 L525.90,246.92 L526.50,246.93 L527.10,247.13 L527.70,246.75 L527.93,247.27 L528.30,246.83 L528.33,244.66 L528.73,247.09 L528.90,247.66 L529.50,247.85 L529.70,246.69 L530.10,246.79 L530.11,247.64 L530.30,243.86 L530.51,246.25 L530.65,240.55 L530.70,247.06 L530.90,208.80 L530.91,247.55 L531.20,240.08 L531.30,248.06 L531.60,243.38 L531.90,247.17 L532.20,246.45 L532.32,247.91 L532.50,247.57 L532.72,247.34 L533.10,247.58 L533.12,247.87 L533.70,247.64 L534.30,247.86 L534.90,248.10 L535.50,247.71 L535.88,247.78 L536.10,247.61 L536.28,246.83 L536.68,247.72 L536.70,246.76 L537.30,247.93 L537.90,246.75 L538.50,247.81 L539.10,247.60 L539.31,247.15 L539.70,246.95 L539.71,244.30 L540.11,246.96 L540.30,246.96 L540.90,247.52 L541.34,247.56 L541.50,248.08 L541.74,245.77 L542.10,247.50 L542.14,247.44 L542.70,247.66 L543.30,246.91 L543.90,247.95 L544.50,247.73 L544.54,247.46 L544.94,245.10 L545.10,247.00 L545.34,247.30 L545.70,248.23 L546.30,247.71 L546.90,247.17 L547.50,247.25 L548.10,248.29 L548.70,248.31 L548.98,248.20 L549.30,248.29 L549.38,247.66 L549.78,248.16 L549.90,247.11 L550.50,248.05 L551.10,247.38 L551.70,247.18 L551.86,248.01 L552.26,246.69 L552.30,247.97 L552.66,247.92 L552.90,248.08 L553.50,247.13 L554.10,247.62 L554.70,248.13 L555.30,247.50 L555.90,248.07 L556.05,248.09 L556.45,246.77 L556.50,248.14 L556.85,248.00 L557.10,248.54 L557.70,247.50 L558.30,247.28 L558.90,246.50 L559.36,248.18 L559.50,242.30 L559.76,246.93 L559.85,237.40 L560.10,185.10 L560.16,248.10 L560.40,236.70 L560.70,248.30 L560.80,241.60 L561.30,247.99 L561.40,246.15 L561.59,248.46 L561.90,247.34 L561.99,247.81 L562.39,248.42 L562.50,247.36 L563.10,248.18 L563.70,248.40 L564.30,248.17 L564.58,247.80 L564.90,248.11 L564.98,244.81 L565.38,247.60 L565.50,247.52 L566.10,248.59 L566.20,247.88 L566.60,244.91 L566.70,247.74 L567.00,247.68 L567.30,247.86 L567.90,247.76 L568.50,247.86 L569.10,248.11 L569.69,248.65 L569.70,248.53 L570.09,247.60 L570.30,248.56 L570.49,248.58 L570.90,248.52 L571.50,247.95 L572.10,248.95 L572.70,248.80 L573.30,248.04 L573.36,248.58 L573.76,246.96 L573.90,248.77 L574.16,248.47 L574.30,247.87 L574.50,249.04 L574.90,245.28 L575.10,249.11 L575.25,242.26 L575.29,248.24 L575.50,213.20 L575.69,245.46 L575.70,248.40 L575.80,241.83 L576.09,248.06 L576.20,244.85 L576.30,248.73 L576.80,247.65 L576.90,247.83 L577.50,247.99 L577.98,248.39 L578.10,247.86 L578.38,245.80 L578.70,248.89 L578.78,248.22 L579.30,249.16 L579.90,249.16 L580.50,248.62 L580.60,248.38 L581.00,245.51 L581.10,248.35 L581.40,248.19 L581.70,248.74 L582.30,249.06 L582.90,248.83 L583.50,248.57 L583.90,249.23 L584.10,248.52 L584.30,248.51 L584.70,249.18 L585.30,248.33 L585.90,248.61 L586.02,248.69 L586.42,246.08 L586.50,249.39 L586.82,248.52 L587.10,248.41 L587.70,249.20 L588.30,248.84 L588.90,249.13 L589.01,248.68 L589.41,245.68 L589.50,248.65 L589.81,248.48 L590.10,249.42 L590.70,249.36 L591.30,249.37 L591.90,249.50 L592.50,248.49 L593.10,248.92 L593.27,249.20 L593.67,247.59 L593.70,249.28 L594.07,249.09 L594.30,249.19 L594.90,248.36 L595.50,249.04 L595.96,249.21 L596.10,249.44 L596.36,247.53 L596.70,248.64 L596.76,249.09 L597.30,248.86 L597.90,248.39 L598.19,249.51 L598.20,249.57 L598.50,249.64 L598.59,248.69 L598.80,249.11 L598.99,249.46 L599.10,249.13 L599.15,248.59 L599.40,243.50 L599.70,248.51 L599.95,249.49 L600.10,249.04 L600.30,249.13 L600.35,248.52 L600.70,249.53 L600.75,249.42 L600.90,249.09 L601.50,249.80 L602.10,249.61 L602.70,249.76 L603.30,249.71 L603.77,249.81 L603.90,249.10 L604.17,249.58 L604.50,249.42 L604.57,249.79 L605.10,249.16 L605.70,249.62 L606.30,249.23 L606.90,249.58 L607.50,249.74 L608.10,249.34 L608.70,249.22 L608.96,249.68 L609.30,249.90 L609.36,248.78 L609.76,249.62 L609.90,249.52 L610.50,249.51 L611.10,249.85 L611.70,249.74 L612.30,249.93 L612.90,249.89 L613.48,249.92 L613.50,249.87 L613.88,249.45 L614.10,249.60 L614.28,249.89 L614.70,249.57 L615.30,249.94 L615.90,250.11 L616.50,249.87 L617.10,249.60 L617.70,250.01 L618.30,249.92 L618.75,249.98 L618.90,250.02 L619.15,249.39 L619.50,249.55 L619.55,249.94 L620.10,249.76 L620.70,250.16 L621.30,250.14 L621.90,249.91 L622.50,249.80 L623.10,249.74 L623.29,250.12 L623.69,249.72 L623.70,250.18 L624.09,250.10 L624.30,250.13 L624.90,249.72 L625.50,249.95 L626.10,250.06 L626.70,250.05 L627.30,249.55 L627.90,250.07 L628.09,250.17 L628.49,249.71 L628.50,249.87 L628.89,250.14 L629.00,250.14 L629.10,250.05 L629.60,249.70 L629.70,250.01 L629.95,249.19 L630.20,244.30 L630.30,249.66 L630.50,249.12 L630.90,249.63 L631.50,250.10 L632.10,250.22 L632.70,249.81 L633.26,250.08 L633.30,250.24 L633.66,249.09 L633.90,250.40 L634.06,250.01 L634.50,249.70 L635.10,250.09 L635.70,249.78 L636.30,250.12 L636.61,250.14 L636.90,249.75 L637.01,249.19 L637.41,250.08 L637.50,250.09 L638.10,250.34 L638.70,250.47 L639.30,250.05 L639.90,249.99 L640.50,249.79 L641.10,250.46 L641.70,250.06 L642.30,250.28 L642.35,250.48 L642.75,250.17 L642.90,250.19 L643.15,250.46 L643.50,250.49 L644.10,250.40 L644.70,250.23 L645.30,249.93 L645.90,250.60 L646.26,250.55 L646.50,250.31 L646.66,250.06 L647.06,250.51 L647.10,250.08 L647.70,249.97 L648.30,250.60 L648.90,250.68 L649.50,250.04 L650.10,250.04 L650.70,250.45 L651.30,250.81 L651.90,250.13 L651.93,250.75 L652.33,250.34 L652.50,250.58 L652.73,250.72 L653.10,250.19 L653.70,250.43 L654.30,250.29 L654.90,250.84 L655.50,250.36" fill="none" stroke="url(#ga)" stroke-width="0.7" stroke-linejoin="round" />
<text x="374.60" y="259.36" font-size="4.6" text-anchor="middle" fill="#444" font-family="&quot;Liberation Sans&quot;, sans-serif" font-weight="normal" stroke="#444" stroke-width="0.18" >5</text>
<line x1="23.10" y1="303.30" x2="23.10" y2="490.60" stroke="#666" stroke-width="0.6"/>
<line x1="20.50" y1="490.60" x2="23.10" y2="490.60" stroke="#555" stroke-width="0.42"/>
<text transform="translate(19.80,492.79) scale(0.86,1)" font-size="5.1" text-anchor="end" fill="#333" font-family="&quot;Liberation Sans&quot;, sans-serif" font-weight="normal" stroke="#333" stroke-width="0.18">0</text>
<line x1="21.20" y1="488.73" x2="23.10" y2="488.73" stroke="#555" stroke-width="0.42"/>
<line x1="21.20" y1="486.86" x2="23.10" y2="486.86" stroke="#555" stroke-width="0.42"/>
<line x1="21.20" y1="485.00" x2="23.10" y2="485.00" stroke="#555" stroke-width="0.42"/>
<line x1="21.20" y1="483.13" x2="23.10" y2="483.13" stroke="#555" stroke-width="0.42"/>
<line x1="20.50" y1="481.26" x2="23.10" y2="481.26" stroke="#555" stroke-width="0.42"/>
<text transform="translate(19.80,483.45) scale(0.86,1)" font-size="5.1" text-anchor="end" fill="#333" font-family="&quot;Liberation Sans&quot;, sans-serif" font-weight="normal" stroke="#333" stroke-width="0.18">5</text>
<line x1="21.20" y1="479.39" x2="23.10" y2="479.39" stroke="#555" stroke-width="0.42"/>
<line x1="21.20" y1="477.52" x2="23.10" y2="477.52" stroke="#555" stroke-width="0.42"/>
<line x1="21.20" y1="475.66" x2="23.10" y2="475.66" stroke="#555" stroke-width="0.42"/>
<line x1="21.20" y1="473.79" x2="23.10" y2="473.79" stroke="#555" stroke-width="0.42"/>
<line x1="20.50" y1="471.92" x2="23.10" y2="471.92" stroke="#555" stroke-width="0.42"/>
<text transform="translate(19.80,474.11) scale(0.86,1)" font-size="5.1" text-anchor="end" fill="#333" font-family="&quot;Liberation Sans&quot;, sans-serif" font-weight="normal" stroke="#333" stroke-width="0.18">10</text>
<line x1="21.20" y1="470.05" x2="23.10" y2="470.05" stroke="#555" stroke-width="0.42"/>
<line x1="21.20" y1="468.18" x2="23.10" y2="468.18" stroke="#555" stroke-width="0.42"/>
<line x1="21.20" y1="466.32" x2="23.10" y2="466.32" stroke="#555" stroke-width="0.42"/>
<line x1="21.20" y1="464.45" x2="23.10" y2="464.45" stroke="#555" stroke-width="0.42"/>
<line x1="20.50" y1="462.58" x2="23.10" y2="462.58" stroke="#555" stroke-width="0.42"/>
<text transform="translate(19.80,464.77) scale(0.86,1)" font-size="5.1" text-anchor="end" fill="#333" font-family="&quot;Liberation Sans&quot;, sans-serif" font-weight="normal" stroke="#333" stroke-width="0.18">15</text>
<line x1="21.20" y1="460.71" x2="23.10" y2="460.71" stroke="#555" stroke-width="0.42"/>
<line x1="21.20" y1="458.84" x2="23.10" y2="458.84" stroke="#555" stroke-width="0.42"/>
<line x1="21.20" y1="456.98" x2="23.10" y2="456.98" stroke="#555" stroke-width="0.42"/>
<line x1="21.20" y1="455.11" x2="23.10" y2="455.11" stroke="#555" stroke-width="0.42"/>
<line x1="20.50" y1="453.24" x2="23.10" y2="453.24" stroke="#555" stroke-width="0.42"/>
<text transform="translate(19.80,455.43) scale(0.86,1)" font-size="5.1" text-anchor="end" fill="#333" font-family="&quot;Liberation Sans&quot;, sans-serif" font-weight="normal" stroke="#333" stroke-width="0.18">20</text>
<line x1="21.20" y1="451.37" x2="23.10" y2="451.37" stroke="#555" stroke-width="0.42"/>
<line x1="21.20" y1="449.50" x2="23.10" y2="449.50" stroke="#555" stroke-width="0.42"/>
<line x1="21.20" y1="447.64" x2="23.10" y2="447.64" stroke="#555" stroke-width="0.42"/>
<line x1="21.20" y1="445.77" x2="23.10" y2="445.77" stroke="#555" stroke-width="0.42"/>
<line x1="20.50" y1="443.90" x2="23.10" y2="443.90" stroke="#555" stroke-width="0.42"/>
<text transform="translate(19.80,446.09) scale(0.86,1)" font-size="5.1" text-anchor="end" fill="#333" font-family="&quot;Liberation Sans&quot;, sans-serif" font-weight="normal" stroke="#333" stroke-width="0.18">25</text>
<line x1="21.20" y1="442.03" x2="23.10" y2="442.03" stroke="#555" stroke-width="0.42"/>
<line x1="21.20" y1="440.16" x2="23.10" y2="440.16" stroke="#555" stroke-width="0.42"/>
<line x1="21.20" y1="438.30" x2="23.10" y2="438.30" stroke="#555" stroke-width="0.42"/>
<line x1="21.20" y1="436.43" x2="23.10" y2="436.43" stroke="#555" stroke-width="0.42"/>
<line x1="20.50" y1="434.56" x2="23.10" y2="434.56" stroke="#555" stroke-width="0.42"/>
<text transform="translate(19.80,436.75) scale(0.86,1)" font-size="5.1" text-anchor="end" fill="#333" font-family="&quot;Liberation Sans&quot;, sans-serif" font-weight="normal" stroke="#333" stroke-width="0.18">30</text>
<line x1="21.20" y1="432.69" x2="23.10" y2="432.69" stroke="#555" stroke-width="0.42"/>
<line x1="21.20" y1="430.82" x2="23.10" y2="430.82" stroke="#555" stroke-width="0.42"/>
<line x1="21.20" y1="428.96" x2="23.10" y2="428.96" stroke="#555" stroke-width="0.42"/>
<line x1="21.20" y1="427.09" x2="23.10" y2="427.09" stroke="#555" stroke-width="0.42"/>
<line x1="20.50" y1="425.22" x2="23.10" y2="425.22" stroke="#555" stroke-width="0.42"/>
<text transform="translate(19.80,427.41) scale(0.86,1)" font-size="5.1" text-anchor="end" fill="#333" font-family="&quot;Liberation Sans&quot;, sans-serif" font-weight="normal" stroke="#333" stroke-width="0.18">35</text>
<line x1="21.20" y1="423.35" x2="23.10" y2="423.35" stroke="#555" stroke-width="0.42"/>
<line x1="21.20" y1="421.48" x2="23.10" y2="421.48" stroke="#555" stroke-width="0.42"/>
<line x1="21.20" y1="419.62" x2="23.10" y2="419.62" stroke="#555" stroke-width="0.42"/>
<line x1="21.20" y1="417.75" x2="23.10" y2="417.75" stroke="#555" stroke-width="0.42"/>
<line x1="20.50" y1="415.88" x2="23.10" y2="415.88" stroke="#555" stroke-width="0.42"/>
<text transform="translate(19.80,418.07) scale(0.86,1)" font-size="5.1" text-anchor="end" fill="#333" font-family="&quot;Liberation Sans&quot;, sans-serif" font-weight="normal" stroke="#333" stroke-width="0.18">40</text>
<line x1="21.20" y1="414.01" x2="23.10" y2="414.01" stroke="#555" stroke-width="0.42"/>
<line x1="21.20" y1="412.14" x2="23.10" y2="412.14" stroke="#555" stroke-width="0.42"/>
<line x1="21.20" y1="410.28" x2="23.10" y2="410.28" stroke="#555" stroke-width="0.42"/>
<line x1="21.20" y1="408.41" x2="23.10" y2="408.41" stroke="#555" stroke-width="0.42"/>
<line x1="20.50" y1="406.54" x2="23.10" y2="406.54" stroke="#555" stroke-width="0.42"/>
<text transform="translate(19.80,408.73) scale(0.86,1)" font-size="5.1" text-anchor="end" fill="#333" font-family="&quot;Liberation Sans&quot;, sans-serif" font-weight="normal" stroke="#333" stroke-width="0.18">45</text>
<line x1="21.20" y1="404.67" x2="23.10" y2="404.67" stroke="#555" stroke-width="0.42"/>
<line x1="21.20" y1="402.80" x2="23.10" y2="402.80" stroke="#555" stroke-width="0.42"/>
<line x1="21.20" y1="400.94" x2="23.10" y2="400.94" stroke="#555" stroke-width="0.42"/>
<line x1="21.20" y1="399.07" x2="23.10" y2="399.07" stroke="#555" stroke-width="0.42"/>
<line x1="20.50" y1="397.20" x2="23.10" y2="397.20" stroke="#555" stroke-width="0.42"/>
<text transform="translate(19.80,399.39) scale(0.86,1)" font-size="5.1" text-anchor="end" fill="#333" font-family="&quot;Liberation Sans&quot;, sans-serif" font-weight="normal" stroke="#333" stroke-width="0.18">50</text>
<line x1="21.20" y1="395.33" x2="23.10" y2="395.33" stroke="#555" stroke-width="0.42"/>
<line x1="21.20" y1="393.46" x2="23.10" y2="393.46" stroke="#555" stroke-width="0.42"/>
<line x1="21.20" y1="391.60" x2="23.10" y2="391.60" stroke="#555" stroke-width="0.42"/>
<line x1="21.20" y1="389.73" x2="23.10" y2="389.73" stroke="#555" stroke-width="0.42"/>
<line x1="20.50" y1="387.86" x2="23.10" y2="387.86" stroke="#555" stroke-width="0.42"/>
<text transform="translate(19.80,390.05) scale(0.86,1)" font-size="5.1" text-anchor="end" fill="#333" font-family="&quot;Liberation Sans&quot;, sans-serif" font-weight="normal" stroke="#333" stroke-width="0.18">55</text>
<line x1="21.20" y1="385.99" x2="23.10" y2="385.99" stroke="#555" stroke-width="0.42"/>
<line x1="21.20" y1="384.12" x2="23.10" y2="384.12" stroke="#555" stroke-width="0.42"/>
<line x1="21.20" y1="382.26" x2="23.10" y2="382.26" stroke="#555" stroke-width="0.42"/>
<line x1="21.20" y1="380.39" x2="23.10" y2="380.39" stroke="#555" stroke-width="0.42"/>
<line x1="20.50" y1="378.52" x2="23.10" y2="378.52" stroke="#555" stroke-width="0.42"/>
<text transform="translate(19.80,380.71) scale(0.86,1)" font-size="5.1" text-anchor="end" fill="#333" font-family="&quot;Liberation Sans&quot;, sans-serif" font-weight="normal" stroke="#333" stroke-width="0.18">60</text>
<line x1="21.20" y1="376.65" x2="23.10" y2="376.65" stroke="#555" stroke-width="0.42"/>
<line x1="21.20" y1="374.78" x2="23.10" y2="374.78" stroke="#555" stroke-width="0.42"/>
<line x1="21.20" y1="372.92" x2="23.10" y2="372.92" stroke="#555" stroke-width="0.42"/>
<line x1="21.20" y1="371.05" x2="23.10" y2="371.05" stroke="#555" stroke-width="0.42"/>
<line x1="20.50" y1="369.18" x2="23.10" y2="369.18" stroke="#555" stroke-width="0.42"/>
<text transform="translate(19.80,371.37) scale(0.86,1)" font-size="5.1" text-anchor="end" fill="#333" font-family="&quot;Liberation Sans&quot;, sans-serif" font-weight="normal" stroke="#333" stroke-width="0.18">65</text>
<line x1="21.20" y1="367.31" x2="23.10" y2="367.31" stroke="#555" stroke-width="0.42"/>
<line x1="21.20" y1="365.44" x2="23.10" y2="365.44" stroke="#555" stroke-width="0.42"/>
<line x1="21.20" y1="363.58" x2="23.10" y2="363.58" stroke="#555" stroke-width="0.42"/>
<line x1="21.20" y1="361.71" x2="23.10" y2="361.71" stroke="#555" stroke-width="0.42"/>
<line x1="20.50" y1="359.84" x2="23.10" y2="359.84" stroke="#555" stroke-width="0.42"/>
<text transform="translate(19.80,362.03) scale(0.86,1)" font-size="5.1" text-anchor="end" fill="#333" font-family="&quot;Liberation Sans&quot;, sans-serif" font-weight="normal" stroke="#333" stroke-width="0.18">70</text>
<line x1="21.20" y1="357.97" x2="23.10" y2="357.97" stroke="#555" stroke-width="0.42"/>
<line x1="21.20" y1="356.10" x2="23.10" y2="356.10" stroke="#555" stroke-width="0.42"/>
<line x1="21.20" y1="354.24" x2="23.10" y2="354.24" stroke="#555" stroke-width="0.42"/>
<line x1="21.20" y1="352.37" x2="23.10" y2="352.37" stroke="#555" stroke-width="0.42"/>
<line x1="20.50" y1="350.50" x2="23.10" y2="350.50" stroke="#555" stroke-width="0.42"/>
<text transform="translate(19.80,352.69) scale(0.86,1)" font-size="5.1" text-anchor="end" fill="#333" font-family="&quot;Liberation Sans&quot;, sans-serif" font-weight="normal" stroke="#333" stroke-width="0.18">75</text>
<line x1="21.20" y1="348.63" x2="23.10" y2="348.63" stroke="#555" stroke-width="0.42"/>
<line x1="21.20" y1="346.76" x2="23.10" y2="346.76" stroke="#555" stroke-width="0.42"/>
<line x1="21.20" y1="344.90" x2="23.10" y2="344.90" stroke="#555" stroke-width="0.42"/>
<line x1="21.20" y1="343.03" x2="23.10" y2="343.03" stroke="#555" stroke-width="0.42"/>
<line x1="20.50" y1="341.16" x2="23.10" y2="341.16" stroke="#555" stroke-width="0.42"/>
<text transform="translate(19.80,343.35) scale(0.86,1)" font-size="5.1" text-anchor="end" fill="#333" font-family="&quot;Liberation Sans&quot;, sans-serif" font-weight="normal" stroke="#333" stroke-width="0.18">80</text>
<line x1="21.20" y1="339.29" x2="23.10" y2="339.29" stroke="#555" stroke-width="0.42"/>
<line x1="21.20" y1="337.42" x2="23.10" y2="337.42" stroke="#555" stroke-width="0.42"/>
<line x1="21.20" y1="335.56" x2="23.10" y2="335.56" stroke="#555" stroke-width="0.42"/>
<line x1="21.20" y1="333.69" x2="23.10" y2="333.69" stroke="#555" stroke-width="0.42"/>
<line x1="20.50" y1="331.82" x2="23.10" y2="331.82" stroke="#555" stroke-width="0.42"/>
<text transform="translate(19.80,334.01) scale(0.86,1)" font-size="5.1" text-anchor="end" fill="#333" font-family="&quot;Liberation Sans&quot;, sans-serif" font-weight="normal" stroke="#333" stroke-width="0.18">85</text>
<line x1="21.20" y1="329.95" x2="23.10" y2="329.95" stroke="#555" stroke-width="0.42"/>
<line x1="21.20" y1="328.08" x2="23.10" y2="328.08" stroke="#555" stroke-width="0.42"/>
<line x1="21.20" y1="326.22" x2="23.10" y2="326.22" stroke="#555" stroke-width="0.42"/>
<line x1="21.20" y1="324.35" x2="23.10" y2="324.35" stroke="#555" stroke-width="0.42"/>
<line x1="20.50" y1="322.48" x2="23.10" y2="322.48" stroke="#555" stroke-width="0.42"/>
<text transform="translate(19.80,324.67) scale(0.86,1)" font-size="5.1" text-anchor="end" fill="#333" font-family="&quot;Liberation Sans&quot;, sans-serif" font-weight="normal" stroke="#333" stroke-width="0.18">90</text>
<line x1="21.20" y1="320.61" x2="23.10" y2="320.61" stroke="#555" stroke-width="0.42"/>
<line x1="21.20" y1="318.74" x2="23.10" y2="318.74" stroke="#555" stroke-width="0.42"/>
<line x1="21.20" y1="316.88" x2="23.10" y2="316.88" stroke="#555" stroke-width="0.42"/>
<line x1="21.20" y1="315.01" x2="23.10" y2="315.01" stroke="#555" stroke-width="0.42"/>
<line x1="20.50" y1="313.14" x2="23.10" y2="313.14" stroke="#555" stroke-width="0.42"/>
<text transform="translate(19.80,315.33) scale(0.86,1)" font-size="5.1" text-anchor="end" fill="#333" font-family="&quot;Liberation Sans&quot;, sans-serif" font-weight="normal" stroke="#333" stroke-width="0.18">95</text>
<line x1="21.20" y1="311.27" x2="23.10" y2="311.27" stroke="#555" stroke-width="0.42"/>
<line x1="21.20" y1="309.40" x2="23.10" y2="309.40" stroke="#555" stroke-width="0.42"/>
<line x1="21.20" y1="307.54" x2="23.10" y2="307.54" stroke="#555" stroke-width="0.42"/>
<line x1="21.20" y1="305.67" x2="23.10" y2="305.67" stroke="#555" stroke-width="0.42"/>
<line x1="20.50" y1="303.80" x2="23.10" y2="303.80" stroke="#555" stroke-width="0.42"/>
<text transform="translate(19.80,305.99) scale(0.86,1)" font-size="5.1" text-anchor="end" fill="#333" font-family="&quot;Liberation Sans&quot;, sans-serif" font-weight="normal" stroke="#333" stroke-width="0.18">100</text>
<line x1="23.10" y1="490.60" x2="294.50" y2="490.60" stroke="#666" stroke-width="0.6"/>
<line x1="23.10" y1="490.60" x2="23.10" y2="493.20" stroke="#555" stroke-width="0.45"/>
<text x="23.10" y="497.66" font-size="4.6" text-anchor="middle" fill="#333" font-family="&quot;Liberation Sans&quot;, sans-serif" font-weight="normal" stroke="#333" stroke-width="0.18" >0</text>
<line x1="27.62" y1="490.60" x2="27.62" y2="492.20" stroke="#555" stroke-width="0.45"/>
<line x1="32.13" y1="490.60" x2="32.13" y2="492.20" stroke="#555" stroke-width="0.45"/>
<line x1="36.64" y1="490.60" x2="36.64" y2="492.20" stroke="#555" stroke-width="0.45"/>
<line x1="41.16" y1="490.60" x2="41.16" y2="492.20" stroke="#555" stroke-width="0.45"/>
<line x1="45.67" y1="490.60" x2="45.67" y2="493.20" stroke="#555" stroke-width="0.45"/>
<text x="45.67" y="497.66" font-size="4.6" text-anchor="middle" fill="#333" font-family="&quot;Liberation Sans&quot;, sans-serif" font-weight="normal" stroke="#333" stroke-width="0.18" >1</text>
<line x1="50.19" y1="490.60" x2="50.19" y2="492.20" stroke="#555" stroke-width="0.45"/>
<line x1="54.70" y1="490.60" x2="54.70" y2="492.20" stroke="#555" stroke-width="0.45"/>
<line x1="59.22" y1="490.60" x2="59.22" y2="492.20" stroke="#555" stroke-width="0.45"/>
<line x1="63.73" y1="490.60" x2="63.73" y2="492.20" stroke="#555" stroke-width="0.45"/>
<line x1="68.25" y1="490.60" x2="68.25" y2="493.20" stroke="#555" stroke-width="0.45"/>
<text x="68.25" y="497.66" font-size="4.6" text-anchor="middle" fill="#333" font-family="&quot;Liberation Sans&quot;, sans-serif" font-weight="normal" stroke="#333" stroke-width="0.18" >2</text>
<line x1="72.77" y1="490.60" x2="72.77" y2="492.20" stroke="#555" stroke-width="0.45"/>
<line x1="77.28" y1="490.60" x2="77.28" y2="492.20" stroke="#555" stroke-width="0.45"/>
<line x1="81.79" y1="490.60" x2="81.79" y2="492.20" stroke="#555" stroke-width="0.45"/>
<line x1="86.31" y1="490.60" x2="86.31" y2="492.20" stroke="#555" stroke-width="0.45"/>
<line x1="90.82" y1="490.60" x2="90.82" y2="493.20" stroke="#555" stroke-width="0.45"/>
<text x="90.82" y="497.66" font-size="4.6" text-anchor="middle" fill="#333" font-family="&quot;Liberation Sans&quot;, sans-serif" font-weight="normal" stroke="#333" stroke-width="0.18" >3</text>
<line x1="95.34" y1="490.60" x2="95.34" y2="492.20" stroke="#555" stroke-width="0.45"/>
<line x1="99.85" y1="490.60" x2="99.85" y2="492.20" stroke="#555" stroke-width="0.45"/>
<line x1="104.37" y1="490.60" x2="104.37" y2="492.20" stroke="#555" stroke-width="0.45"/>
<line x1="108.88" y1="490.60" x2="108.88" y2="492.20" stroke="#555" stroke-width="0.45"/>
<line x1="113.40" y1="490.60" x2="113.40" y2="493.20" stroke="#555" stroke-width="0.45"/>
<text x="113.40" y="497.66" font-size="4.6" text-anchor="middle" fill="#333" font-family="&quot;Liberation Sans&quot;, sans-serif" font-weight="normal" stroke="#333" stroke-width="0.18" >4</text>
<line x1="117.91" y1="490.60" x2="117.91" y2="492.20" stroke="#555" stroke-width="0.45"/>
<line x1="122.43" y1="490.60" x2="122.43" y2="492.20" stroke="#555" stroke-width="0.45"/>
<line x1="126.94" y1="490.60" x2="126.94" y2="492.20" stroke="#555" stroke-width="0.45"/>
<line x1="131.46" y1="490.60" x2="131.46" y2="492.20" stroke="#555" stroke-width="0.45"/>
<line x1="135.97" y1="490.60" x2="135.97" y2="493.20" stroke="#555" stroke-width="0.45"/>
<text x="135.97" y="497.66" font-size="4.6" text-anchor="middle" fill="#333" font-family="&quot;Liberation Sans&quot;, sans-serif" font-weight="normal" stroke="#333" stroke-width="0.18" >5</text>
<line x1="140.49" y1="490.60" x2="140.49" y2="492.20" stroke="#555" stroke-width="0.45"/>
<line x1="145.00" y1="490.60" x2="145.00" y2="492.20" stroke="#555" stroke-width="0.45"/>
<line x1="149.52" y1="490.60" x2="149.52" y2="492.20" stroke="#555" stroke-width="0.45"/>
<line x1="154.03" y1="490.60" x2="154.03" y2="492.20" stroke="#555" stroke-width="0.45"/>
<line x1="158.55" y1="490.60" x2="158.55" y2="493.20" stroke="#555" stroke-width="0.45"/>
<text x="158.55" y="497.66" font-size="4.6" text-anchor="middle" fill="#333" font-family="&quot;Liberation Sans&quot;, sans-serif" font-weight="normal" stroke="#333" stroke-width="0.18" >6</text>
<line x1="163.06" y1="490.60" x2="163.06" y2="492.20" stroke="#555" stroke-width="0.45"/>
<line x1="167.58" y1="490.60" x2="167.58" y2="492.20" stroke="#555" stroke-width="0.45"/>
<line x1="172.09" y1="490.60" x2="172.09" y2="492.20" stroke="#555" stroke-width="0.45"/>
<line x1="176.61" y1="490.60" x2="176.61" y2="492.20" stroke="#555" stroke-width="0.45"/>
<line x1="181.12" y1="490.60" x2="181.12" y2="493.20" stroke="#555" stroke-width="0.45"/>
<text x="181.12" y="497.66" font-size="4.6" text-anchor="middle" fill="#333" font-family="&quot;Liberation Sans&quot;, sans-serif" font-weight="normal" stroke="#333" stroke-width="0.18" >7</text>
<line x1="185.64" y1="490.60" x2="185.64" y2="492.20" stroke="#555" stroke-width="0.45"/>
<line x1="190.16" y1="490.60" x2="190.16" y2="492.20" stroke="#555" stroke-width="0.45"/>
<line x1="194.67" y1="490.60" x2="194.67" y2="492.20" stroke="#555" stroke-width="0.45"/>
<line x1="199.18" y1="490.60" x2="199.18" y2="492.20" stroke="#555" stroke-width="0.45"/>
<line x1="203.70" y1="490.60" x2="203.70" y2="493.20" stroke="#555" stroke-width="0.45"/>
<text x="203.70" y="497.66" font-size="4.6" text-anchor="middle" fill="#333" font-family="&quot;Liberation Sans&quot;, sans-serif" font-weight="normal" stroke="#333" stroke-width="0.18" >8</text>
<line x1="208.21" y1="490.60" x2="208.21" y2="492.20" stroke="#555" stroke-width="0.45"/>
<line x1="212.73" y1="490.60" x2="212.73" y2="492.20" stroke="#555" stroke-width="0.45"/>
<line x1="217.25" y1="490.60" x2="217.25" y2="492.20" stroke="#555" stroke-width="0.45"/>
<line x1="221.76" y1="490.60" x2="221.76" y2="492.20" stroke="#555" stroke-width="0.45"/>
<line x1="226.28" y1="490.60" x2="226.28" y2="493.20" stroke="#555" stroke-width="0.45"/>
<text x="226.28" y="497.66" font-size="4.6" text-anchor="middle" fill="#333" font-family="&quot;Liberation Sans&quot;, sans-serif" font-weight="normal" stroke="#333" stroke-width="0.18" >9</text>
<line x1="230.79" y1="490.60" x2="230.79" y2="492.20" stroke="#555" stroke-width="0.45"/>
<line x1="235.30" y1="490.60" x2="235.30" y2="492.20" stroke="#555" stroke-width="0.45"/>
<line x1="239.82" y1="490.60" x2="239.82" y2="492.20" stroke="#555" stroke-width="0.45"/>
<line x1="244.33" y1="490.60" x2="244.33" y2="492.20" stroke="#555" stroke-width="0.45"/>
<line x1="248.85" y1="490.60" x2="248.85" y2="493.20" stroke="#555" stroke-width="0.45"/>
<text x="248.85" y="497.66" font-size="4.6" text-anchor="middle" fill="#333" font-family="&quot;Liberation Sans&quot;, sans-serif" font-weight="normal" stroke="#333" stroke-width="0.18" >10</text>
<line x1="253.37" y1="490.60" x2="253.37" y2="492.20" stroke="#555" stroke-width="0.45"/>
<line x1="257.88" y1="490.60" x2="257.88" y2="492.20" stroke="#555" stroke-width="0.45"/>
<line x1="262.39" y1="490.60" x2="262.39" y2="492.20" stroke="#555" stroke-width="0.45"/>
<line x1="266.91" y1="490.60" x2="266.91" y2="492.20" stroke="#555" stroke-width="0.45"/>
<line x1="271.43" y1="490.60" x2="271.43" y2="493.20" stroke="#555" stroke-width="0.45"/>
<text x="271.43" y="497.66" font-size="4.6" text-anchor="middle" fill="#333" font-family="&quot;Liberation Sans&quot;, sans-serif" font-weight="normal" stroke="#333" stroke-width="0.18" >11</text>
<line x1="275.94" y1="490.60" x2="275.94" y2="492.20" stroke="#555" stroke-width="0.45"/>
<line x1="280.45" y1="490.60" x2="280.45" y2="492.20" stroke="#555" stroke-width="0.45"/>
<line x1="284.97" y1="490.60" x2="284.97" y2="492.20" stroke="#555" stroke-width="0.45"/>
<line x1="289.49" y1="490.60" x2="289.49" y2="492.20" stroke="#555" stroke-width="0.45"/>
<line x1="294.00" y1="490.60" x2="294.00" y2="493.20" stroke="#555" stroke-width="0.45"/>
<text x="294.00" y="497.66" font-size="4.6" text-anchor="middle" fill="#333" font-family="&quot;Liberation Sans&quot;, sans-serif" font-weight="normal" stroke="#333" stroke-width="0.18" >12</text>
<text x="147.80" y="503.96" font-size="4.6" text-anchor="start" fill="#333" font-family="&quot;Liberation Sans&quot;, sans-serif" font-weight="normal" stroke="#333" stroke-width="0.18" >Time (min)</text>
<text x="4.50" y="297.46" font-size="4.6" text-anchor="start" fill="#333" font-family="&quot;Liberation Sans&quot;, sans-serif" font-weight="normal" stroke="#333" stroke-width="0.18" >RT:</text>
<text x="13.70" y="297.53" font-size="4.8" text-anchor="start" fill="#5a5aa8" font-family="&quot;Liberation Sans&quot;, sans-serif" font-weight="normal" stroke="#5a5aa8" stroke-width="0.18" >0.00 - 12.01</text>
<text x="0.00" y="0.00" font-size="4.5" text-anchor="middle" fill="#333" font-family="&quot;Liberation Sans&quot;, sans-serif" font-weight="normal" stroke="#333" stroke-width="0.18" transform="translate(10.70,397.50) rotate(-90)">Relative Abundance</text>
<text transform="translate(294.90,302.96) scale(0.93,1)" font-size="4.9" text-anchor="start" fill="#383838" font-family="&quot;Liberation Sans&quot;, sans-serif" font-weight="normal" stroke="#383838" stroke-width="0.18">NL:</text>
<text transform="translate(294.90,308.16) scale(0.93,1)" font-size="4.9" text-anchor="start" fill="#383838" font-family="&quot;Liberation Sans&quot;, sans-serif" font-weight="normal" stroke="#383838" stroke-width="0.18">1.89E10</text>
<text transform="translate(294.90,313.36) scale(0.93,1)" font-size="4.9" text-anchor="start" fill="#383838" font-family="&quot;Liberation Sans&quot;, sans-serif" font-weight="normal" stroke="#383838" stroke-width="0.18">TIC F: FTMS - p</text>
<text transform="translate(294.90,318.56) scale(0.93,1)" font-size="4.9" text-anchor="start" fill="#383838" font-family="&quot;Liberation Sans&quot;, sans-serif" font-weight="normal" stroke="#383838" stroke-width="0.18">ESI sid=5.00</text>
<text transform="translate(294.90,323.76) scale(0.93,1)" font-size="4.9" text-anchor="start" fill="#383838" font-family="&quot;Liberation Sans&quot;, sans-serif" font-weight="normal" stroke="#383838" stroke-width="0.18">Full ms</text>
<text transform="translate(294.90,328.96) scale(0.93,1)" font-size="4.9" text-anchor="start" fill="#383838" font-family="&quot;Liberation Sans&quot;, sans-serif" font-weight="normal" stroke="#383838" stroke-width="0.18">[70.0000-</text>
<text transform="translate(294.90,334.16) scale(0.93,1)" font-size="4.9" text-anchor="start" fill="#383838" font-family="&quot;Liberation Sans&quot;, sans-serif" font-weight="normal" stroke="#383838" stroke-width="0.18">1050.0000]  MS</text>
<text transform="translate(294.90,339.36) scale(0.93,1)" font-size="4.9" text-anchor="start" fill="#383838" font-family="&quot;Liberation Sans&quot;, sans-serif" font-weight="normal" stroke="#383838" stroke-width="0.18">A_113</text>
<line x1="76.00" y1="475.30" x2="82.70" y2="475.30" stroke="#8fcf8f" stroke-width="0.5"/>
<line x1="97.00" y1="478.90" x2="107.80" y2="478.90" stroke="#8fcf8f" stroke-width="0.5"/>
<line x1="135.00" y1="486.50" x2="149.40" y2="486.50" stroke="#8fcf8f" stroke-width="0.5"/>
<line x1="191.20" y1="484.70" x2="202.00" y2="484.70" stroke="#8fcf8f" stroke-width="0.5"/>
<line x1="270.00" y1="484.00" x2="294.80" y2="484.00" stroke="#8fcf8f" stroke-width="0.5"/>
<path d="M23.50,485.20 L31.40,485.20 L31.80,330.00 L32.40,304.30 L33.00,330.00 L33.90,430.00 L34.60,451.00 L35.50,430.00 L36.70,419.50 L37.30,440.00 L38.20,471.00 L39.30,455.00 L40.50,443.50 L41.30,465.00 L42.40,475.60 L43.55,476.00 L44.70,476.50 L45.85,477.31 L47.00,478.00 L48.00,479.19 L49.00,479.50 L50.00,480.30 L51.00,479.66 L52.00,479.00 L53.50,481.00 L55.00,478.00 L55.80,476.74 L56.60,475.30 L58.00,479.00 L59.30,481.80 L60.20,481.22 L61.10,481.28 L62.00,481.00 L62.93,481.03 L63.87,481.09 L64.80,480.70 L65.60,480.44 L66.40,480.80 L67.20,480.74 L68.00,481.30 L68.85,481.61 L69.70,481.49 L70.55,480.84 L71.40,481.30 L72.37,479.65 L73.33,477.50 L74.30,474.90 L75.15,475.60 L76.00,476.00 L77.03,476.88 L78.07,477.19 L79.10,478.30 L80.05,478.92 L81.00,480.50 L81.97,481.20 L82.93,481.39 L83.90,482.50 L84.95,481.94 L86.00,482.00 L86.90,482.48 L87.80,483.00 L88.70,484.20 L90.50,476.50 L91.40,478.21 L92.30,480.00 L93.20,479.67 L94.10,479.79 L95.00,479.19 L95.90,478.90 L96.95,478.94 L98.00,478.70 L98.83,479.20 L99.65,479.86 L100.47,480.16 L101.30,480.70 L102.12,481.30 L102.94,482.84 L103.76,483.66 L104.58,484.32 L105.40,484.80 L106.30,485.46 L107.20,485.52 L108.10,485.88 L109.00,486.60 L109.83,486.36 L110.67,486.10 L111.50,486.77 L112.33,486.37 L113.17,486.78 L114.00,486.40 L114.83,486.36 L115.66,486.73 L116.49,486.69 L117.31,486.21 L118.14,486.37 L118.97,486.82 L119.80,486.60 L120.64,486.66 L121.48,487.05 L122.32,486.78 L123.16,486.66 L124.00,487.00 L124.90,486.91 L125.80,486.83 L126.70,486.36 L127.60,486.09 L128.50,486.07 L129.40,486.00 L130.33,486.41 L131.27,486.42 L132.20,486.17 L133.13,486.38 L134.07,486.43 L135.00,486.80 L135.83,486.57 L136.67,487.04 L137.50,486.71 L138.33,486.97 L139.17,486.94 L140.00,487.00 L140.83,486.85 L141.67,487.21 L142.50,486.88 L143.33,487.22 L144.17,486.94 L145.00,487.20 L145.88,487.21 L146.76,487.15 L147.64,487.24 L148.52,487.72 L149.40,487.50 L150.45,487.18 L151.50,486.50 L153.00,487.50 L153.88,486.83 L154.75,486.63 L155.62,485.68 L156.50,485.30 L158.00,487.50 L158.83,487.52 L159.67,487.88 L160.50,487.84 L161.33,487.59 L162.17,488.21 L163.00,488.00 L163.86,487.83 L164.72,487.85 L165.58,488.16 L166.44,487.90 L167.30,488.00 L168.10,486.00 L168.70,477.00 L169.20,477.30 L169.90,483.00 L170.80,486.50 L172.00,487.60 L180.00,487.70 L187.00,487.70 L188.80,483.50 L190.50,485.50 L193.00,487.00 L200.00,487.50 L210.00,487.60 L230.00,487.80 L250.00,488.20 L261.00,489.00 L267.20,489.00 L269.90,484.90 L272.00,484.20 L294.80,484.20" fill="none" stroke="#4a4a4a" stroke-width="0.6" stroke-linejoin="round" />
<text transform="translate(32.30,303.20) scale(0.92,1)" font-size="5.0" text-anchor="middle" fill="#222" font-family="&quot;Liberation Sans&quot;, sans-serif" font-weight="normal" stroke="#222" stroke-width="0.18">0.42</text>
<text transform="translate(40.45,418.00) scale(0.92,1)" font-size="5.0" text-anchor="middle" fill="#222" font-family="&quot;Liberation Sans&quot;, sans-serif" font-weight="normal" stroke="#222" stroke-width="0.18">0.61</text>
<text transform="translate(43.90,443.20) scale(0.92,1)" font-size="5.0" text-anchor="middle" fill="#222" font-family="&quot;Liberation Sans&quot;, sans-serif" font-weight="normal" stroke="#222" stroke-width="0.18">0.77</text>
<text transform="translate(56.65,474.80) scale(0.92,1)" font-size="5.0" text-anchor="middle" fill="#222" font-family="&quot;Liberation Sans&quot;, sans-serif" font-weight="normal" stroke="#222" stroke-width="0.18">1.48</text>
<text transform="translate(74.50,473.50) scale(0.92,1)" font-size="5.0" text-anchor="middle" fill="#222" font-family="&quot;Liberation Sans&quot;, sans-serif" font-weight="normal" stroke="#222" stroke-width="0.18">2.30</text>
<text transform="translate(87.50,474.40) scale(0.92,1)" font-size="5.0" text-anchor="middle" fill="#222" font-family="&quot;Liberation Sans&quot;, sans-serif" font-weight="normal" stroke="#222" stroke-width="0.18">2.32</text>
<text transform="translate(100.35,478.00) scale(0.92,1)" font-size="5.0" text-anchor="middle" fill="#222" font-family="&quot;Liberation Sans&quot;, sans-serif" font-weight="normal" stroke="#222" stroke-width="0.18">3.25</text>
<text transform="translate(112.60,479.10) scale(0.92,1)" font-size="5.0" text-anchor="middle" fill="#222" font-family="&quot;Liberation Sans&quot;, sans-serif" font-weight="normal" stroke="#222" stroke-width="0.18">3.37</text>
<text transform="translate(111.70,484.50) scale(0.92,1)" font-size="5.0" text-anchor="middle" fill="#222" font-family="&quot;Liberation Sans&quot;, sans-serif" font-weight="normal" stroke="#222" stroke-width="0.18">3.88</text>
<text transform="translate(130.25,484.50) scale(0.92,1)" font-size="5.0" text-anchor="middle" fill="#222" font-family="&quot;Liberation Sans&quot;, sans-serif" font-weight="normal" stroke="#222" stroke-width="0.18">4.73</text>
<text transform="translate(146.05,485.70) scale(0.92,1)" font-size="5.0" text-anchor="middle" fill="#222" font-family="&quot;Liberation Sans&quot;, sans-serif" font-weight="normal" stroke="#222" stroke-width="0.18">4.85</text>
<text transform="translate(158.60,485.70) scale(0.92,1)" font-size="5.0" text-anchor="middle" fill="#222" font-family="&quot;Liberation Sans&quot;, sans-serif" font-weight="normal" stroke="#222" stroke-width="0.18">5.89</text>
<text transform="translate(169.10,475.20) scale(0.92,1)" font-size="5.0" text-anchor="middle" fill="#222" font-family="&quot;Liberation Sans&quot;, sans-serif" font-weight="normal" stroke="#222" stroke-width="0.18">6.45</text>
<text transform="translate(188.80,481.90) scale(0.92,1)" font-size="5.0" text-anchor="middle" fill="#222" font-family="&quot;Liberation Sans&quot;, sans-serif" font-weight="normal" stroke="#222" stroke-width="0.18">7.32</text>
<text transform="translate(201.00,484.30) scale(0.92,1)" font-size="5.0" text-anchor="middle" fill="#222" font-family="&quot;Liberation Sans&quot;, sans-serif" font-weight="normal" stroke="#222" stroke-width="0.18">7.43</text>
<text transform="translate(216.10,486.80) scale(0.92,1)" font-size="5.0" text-anchor="middle" fill="#222" font-family="&quot;Liberation Sans&quot;, sans-serif" font-weight="normal" stroke="#222" stroke-width="0.18">8.54</text>
<text transform="translate(235.20,486.80) scale(0.92,1)" font-size="5.0" text-anchor="middle" fill="#222" font-family="&quot;Liberation Sans&quot;, sans-serif" font-weight="normal" stroke="#222" stroke-width="0.18">9.37</text>
<text transform="translate(247.45,486.80) scale(0.92,1)" font-size="5.0" text-anchor="middle" fill="#222" font-family="&quot;Liberation Sans&quot;, sans-serif" font-weight="normal" stroke="#222" stroke-width="0.18">9.92</text>
<text transform="translate(271.55,483.40) scale(0.92,1)" font-size="5.0" text-anchor="middle" fill="#222" font-family="&quot;Liberation Sans&quot;, sans-serif" font-weight="normal" stroke="#222" stroke-width="0.18">11.30</text>
<text transform="translate(286.55,483.40) scale(0.92,1)" font-size="5.0" text-anchor="middle" fill="#222" font-family="&quot;Liberation Sans&quot;, sans-serif" font-weight="normal" stroke="#222" stroke-width="0.18">11.75</text>
<line x1="354.60" y1="303.10" x2="354.60" y2="491.00" stroke="#666" stroke-width="0.6"/>
<line x1="352.00" y1="491.00" x2="354.60" y2="491.00" stroke="#555" stroke-width="0.42"/>
<text transform="translate(351.70,493.19) scale(0.86,1)" font-size="5.1" text-anchor="end" fill="#333" font-family="&quot;Liberation Sans&quot;, sans-serif" font-weight="normal" stroke="#333" stroke-width="0.18">0</text>
<line x1="352.70" y1="489.13" x2="354.60" y2="489.13" stroke="#555" stroke-width="0.42"/>
<line x1="352.70" y1="487.25" x2="354.60" y2="487.25" stroke="#555" stroke-width="0.42"/>
<line x1="352.70" y1="485.38" x2="354.60" y2="485.38" stroke="#555" stroke-width="0.42"/>
<line x1="352.70" y1="483.50" x2="354.60" y2="483.50" stroke="#555" stroke-width="0.42"/>
<line x1="352.00" y1="481.63" x2="354.60" y2="481.63" stroke="#555" stroke-width="0.42"/>
<text transform="translate(351.70,483.82) scale(0.86,1)" font-size="5.1" text-anchor="end" fill="#333" font-family="&quot;Liberation Sans&quot;, sans-serif" font-weight="normal" stroke="#333" stroke-width="0.18">5</text>
<line x1="352.70" y1="479.76" x2="354.60" y2="479.76" stroke="#555" stroke-width="0.42"/>
<line x1="352.70" y1="477.88" x2="354.60" y2="477.88" stroke="#555" stroke-width="0.42"/>
<line x1="352.70" y1="476.01" x2="354.60" y2="476.01" stroke="#555" stroke-width="0.42"/>
<line x1="352.70" y1="474.13" x2="354.60" y2="474.13" stroke="#555" stroke-width="0.42"/>
<line x1="352.00" y1="472.26" x2="354.60" y2="472.26" stroke="#555" stroke-width="0.42"/>
<text transform="translate(351.70,474.45) scale(0.86,1)" font-size="5.1" text-anchor="end" fill="#333" font-family="&quot;Liberation Sans&quot;, sans-serif" font-weight="normal" stroke="#333" stroke-width="0.18">10</text>
<line x1="352.70" y1="470.39" x2="354.60" y2="470.39" stroke="#555" stroke-width="0.42"/>
<line x1="352.70" y1="468.51" x2="354.60" y2="468.51" stroke="#555" stroke-width="0.42"/>
<line x1="352.70" y1="466.64" x2="354.60" y2="466.64" stroke="#555" stroke-width="0.42"/>
<line x1="352.70" y1="464.76" x2="354.60" y2="464.76" stroke="#555" stroke-width="0.42"/>
<line x1="352.00" y1="462.89" x2="354.60" y2="462.89" stroke="#555" stroke-width="0.42"/>
<text transform="translate(351.70,465.08) scale(0.86,1)" font-size="5.1" text-anchor="end" fill="#333" font-family="&quot;Liberation Sans&quot;, sans-serif" font-weight="normal" stroke="#333" stroke-width="0.18">15</text>
<line x1="352.70" y1="461.02" x2="354.60" y2="461.02" stroke="#555" stroke-width="0.42"/>
<line x1="352.70" y1="459.14" x2="354.60" y2="459.14" stroke="#555" stroke-width="0.42"/>
<line x1="352.70" y1="457.27" x2="354.60" y2="457.27" stroke="#555" stroke-width="0.42"/>
<line x1="352.70" y1="455.39" x2="354.60" y2="455.39" stroke="#555" stroke-width="0.42"/>
<line x1="352.00" y1="453.52" x2="354.60" y2="453.52" stroke="#555" stroke-width="0.42"/>
<text transform="translate(351.70,455.71) scale(0.86,1)" font-size="5.1" text-anchor="end" fill="#333" font-family="&quot;Liberation Sans&quot;, sans-serif" font-weight="normal" stroke="#333" stroke-width="0.18">20</text>
<line x1="352.70" y1="451.65" x2="354.60" y2="451.65" stroke="#555" stroke-width="0.42"/>
<line x1="352.70" y1="449.77" x2="354.60" y2="449.77" stroke="#555" stroke-width="0.42"/>
<line x1="352.70" y1="447.90" x2="354.60" y2="447.90" stroke="#555" stroke-width="0.42"/>
<line x1="352.70" y1="446.02" x2="354.60" y2="446.02" stroke="#555" stroke-width="0.42"/>
<line x1="352.00" y1="444.15" x2="354.60" y2="444.15" stroke="#555" stroke-width="0.42"/>
<text transform="translate(351.70,446.34) scale(0.86,1)" font-size="5.1" text-anchor="end" fill="#333" font-family="&quot;Liberation Sans&quot;, sans-serif" font-weight="normal" stroke="#333" stroke-width="0.18">25</text>
<line x1="352.70" y1="442.28" x2="354.60" y2="442.28" stroke="#555" stroke-width="0.42"/>
<line x1="352.70" y1="440.40" x2="354.60" y2="440.40" stroke="#555" stroke-width="0.42"/>
<line x1="352.70" y1="438.53" x2="354.60" y2="438.53" stroke="#555" stroke-width="0.42"/>
<line x1="352.70" y1="436.65" x2="354.60" y2="436.65" stroke="#555" stroke-width="0.42"/>
<line x1="352.00" y1="434.78" x2="354.60" y2="434.78" stroke="#555" stroke-width="0.42"/>
<text transform="translate(351.70,436.97) scale(0.86,1)" font-size="5.1" text-anchor="end" fill="#333" font-family="&quot;Liberation Sans&quot;, sans-serif" font-weight="normal" stroke="#333" stroke-width="0.18">30</text>
<line x1="352.70" y1="432.91" x2="354.60" y2="432.91" stroke="#555" stroke-width="0.42"/>
<line x1="352.70" y1="431.03" x2="354.60" y2="431.03" stroke="#555" stroke-width="0.42"/>
<line x1="352.70" y1="429.16" x2="354.60" y2="429.16" stroke="#555" stroke-width="0.42"/>
<line x1="352.70" y1="427.28" x2="354.60" y2="427.28" stroke="#555" stroke-width="0.42"/>
<line x1="352.00" y1="425.41" x2="354.60" y2="425.41" stroke="#555" stroke-width="0.42"/>
<text transform="translate(351.70,427.60) scale(0.86,1)" font-size="5.1" text-anchor="end" fill="#333" font-family="&quot;Liberation Sans&quot;, sans-serif" font-weight="normal" stroke="#333" stroke-width="0.18">35</text>
<line x1="352.70" y1="423.54" x2="354.60" y2="423.54" stroke="#555" stroke-width="0.42"/>
<line x1="352.70" y1="421.66" x2="354.60" y2="421.66" stroke="#555" stroke-width="0.42"/>
<line x1="352.70" y1="419.79" x2="354.60" y2="419.79" stroke="#555" stroke-width="0.42"/>
<line x1="352.70" y1="417.91" x2="354.60" y2="417.91" stroke="#555" stroke-width="0.42"/>
<line x1="352.00" y1="416.04" x2="354.60" y2="416.04" stroke="#555" stroke-width="0.42"/>
<text transform="translate(351.70,418.23) scale(0.86,1)" font-size="5.1" text-anchor="end" fill="#333" font-family="&quot;Liberation Sans&quot;, sans-serif" font-weight="normal" stroke="#333" stroke-width="0.18">40</text>
<line x1="352.70" y1="414.17" x2="354.60" y2="414.17" stroke="#555" stroke-width="0.42"/>
<line x1="352.70" y1="412.29" x2="354.60" y2="412.29" stroke="#555" stroke-width="0.42"/>
<line x1="352.70" y1="410.42" x2="354.60" y2="410.42" stroke="#555" stroke-width="0.42"/>
<line x1="352.70" y1="408.54" x2="354.60" y2="408.54" stroke="#555" stroke-width="0.42"/>
<line x1="352.00" y1="406.67" x2="354.60" y2="406.67" stroke="#555" stroke-width="0.42"/>
<text transform="translate(351.70,408.86) scale(0.86,1)" font-size="5.1" text-anchor="end" fill="#333" font-family="&quot;Liberation Sans&quot;, sans-serif" font-weight="normal" stroke="#333" stroke-width="0.18">45</text>
<line x1="352.70" y1="404.80" x2="354.60" y2="404.80" stroke="#555" stroke-width="0.42"/>
<line x1="352.70" y1="402.92" x2="354.60" y2="402.92" stroke="#555" stroke-width="0.42"/>
<line x1="352.70" y1="401.05" x2="354.60" y2="401.05" stroke="#555" stroke-width="0.42"/>
<line x1="352.70" y1="399.17" x2="354.60" y2="399.17" stroke="#555" stroke-width="0.42"/>
<line x1="352.00" y1="397.30" x2="354.60" y2="397.30" stroke="#555" stroke-width="0.42"/>
<text transform="translate(351.70,399.49) scale(0.86,1)" font-size="5.1" text-anchor="end" fill="#333" font-family="&quot;Liberation Sans&quot;, sans-serif" font-weight="normal" stroke="#333" stroke-width="0.18">50</text>
<line x1="352.70" y1="395.43" x2="354.60" y2="395.43" stroke="#555" stroke-width="0.42"/>
<line x1="352.70" y1="393.55" x2="354.60" y2="393.55" stroke="#555" stroke-width="0.42"/>
<line x1="352.70" y1="391.68" x2="354.60" y2="391.68" stroke="#555" stroke-width="0.42"/>
<line x1="352.70" y1="389.80" x2="354.60" y2="389.80" stroke="#555" stroke-width="0.42"/>
<line x1="352.00" y1="387.93" x2="354.60" y2="387.93" stroke="#555" stroke-width="0.42"/>
<text transform="translate(351.70,390.12) scale(0.86,1)" font-size="5.1" text-anchor="end" fill="#333" font-family="&quot;Liberation Sans&quot;, sans-serif" font-weight="normal" stroke="#333" stroke-width="0.18">55</text>
<line x1="352.70" y1="386.06" x2="354.60" y2="386.06" stroke="#555" stroke-width="0.42"/>
<line x1="352.70" y1="384.18" x2="354.60" y2="384.18" stroke="#555" stroke-width="0.42"/>
<line x1="352.70" y1="382.31" x2="354.60" y2="382.31" stroke="#555" stroke-width="0.42"/>
<line x1="352.70" y1="380.43" x2="354.60" y2="380.43" stroke="#555" stroke-width="0.42"/>
<line x1="352.00" y1="378.56" x2="354.60" y2="378.56" stroke="#555" stroke-width="0.42"/>
<text transform="translate(351.70,380.75) scale(0.86,1)" font-size="5.1" text-anchor="end" fill="#333" font-family="&quot;Liberation Sans&quot;, sans-serif" font-weight="normal" stroke="#333" stroke-width="0.18">60</text>
<line x1="352.70" y1="376.69" x2="354.60" y2="376.69" stroke="#555" stroke-width="0.42"/>
<line x1="352.70" y1="374.81" x2="354.60" y2="374.81" stroke="#555" stroke-width="0.42"/>
<line x1="352.70" y1="372.94" x2="354.60" y2="372.94" stroke="#555" stroke-width="0.42"/>
<line x1="352.70" y1="371.06" x2="354.60" y2="371.06" stroke="#555" stroke-width="0.42"/>
<line x1="352.00" y1="369.19" x2="354.60" y2="369.19" stroke="#555" stroke-width="0.42"/>
<text transform="translate(351.70,371.38) scale(0.86,1)" font-size="5.1" text-anchor="end" fill="#333" font-family="&quot;Liberation Sans&quot;, sans-serif" font-weight="normal" stroke="#333" stroke-width="0.18">65</text>
<line x1="352.70" y1="367.32" x2="354.60" y2="367.32" stroke="#555" stroke-width="0.42"/>
<line x1="352.70" y1="365.44" x2="354.60" y2="365.44" stroke="#555" stroke-width="0.42"/>
<line x1="352.70" y1="363.57" x2="354.60" y2="363.57" stroke="#555" stroke-width="0.42"/>
<line x1="352.70" y1="361.69" x2="354.60" y2="361.69" stroke="#555" stroke-width="0.42"/>
<line x1="352.00" y1="359.82" x2="354.60" y2="359.82" stroke="#555" stroke-width="0.42"/>
<text transform="translate(351.70,362.01) scale(0.86,1)" font-size="5.1" text-anchor="end" fill="#333" font-family="&quot;Liberation Sans&quot;, sans-serif" font-weight="normal" stroke="#333" stroke-width="0.18">70</text>
<line x1="352.70" y1="357.95" x2="354.60" y2="357.95" stroke="#555" stroke-width="0.42"/>
<line x1="352.70" y1="356.07" x2="354.60" y2="356.07" stroke="#555" stroke-width="0.42"/>
<line x1="352.70" y1="354.20" x2="354.60" y2="354.20" stroke="#555" stroke-width="0.42"/>
<line x1="352.70" y1="352.32" x2="354.60" y2="352.32" stroke="#555" stroke-width="0.42"/>
<line x1="352.00" y1="350.45" x2="354.60" y2="350.45" stroke="#555" stroke-width="0.42"/>
<text transform="translate(351.70,352.64) scale(0.86,1)" font-size="5.1" text-anchor="end" fill="#333" font-family="&quot;Liberation Sans&quot;, sans-serif" font-weight="normal" stroke="#333" stroke-width="0.18">75</text>
<line x1="352.70" y1="348.58" x2="354.60" y2="348.58" stroke="#555" stroke-width="0.42"/>
<line x1="352.70" y1="346.70" x2="354.60" y2="346.70" stroke="#555" stroke-width="0.42"/>
<line x1="352.70" y1="344.83" x2="354.60" y2="344.83" stroke="#555" stroke-width="0.42"/>
<line x1="352.70" y1="342.95" x2="354.60" y2="342.95" stroke="#555" stroke-width="0.42"/>
<line x1="352.00" y1="341.08" x2="354.60" y2="341.08" stroke="#555" stroke-width="0.42"/>
<text transform="translate(351.70,343.27) scale(0.86,1)" font-size="5.1" text-anchor="end" fill="#333" font-family="&quot;Liberation Sans&quot;, sans-serif" font-weight="normal" stroke="#333" stroke-width="0.18">80</text>
<line x1="352.70" y1="339.21" x2="354.60" y2="339.21" stroke="#555" stroke-width="0.42"/>
<line x1="352.70" y1="337.33" x2="354.60" y2="337.33" stroke="#555" stroke-width="0.42"/>
<line x1="352.70" y1="335.46" x2="354.60" y2="335.46" stroke="#555" stroke-width="0.42"/>
<line x1="352.70" y1="333.58" x2="354.60" y2="333.58" stroke="#555" stroke-width="0.42"/>
<line x1="352.00" y1="331.71" x2="354.60" y2="331.71" stroke="#555" stroke-width="0.42"/>
<text transform="translate(351.70,333.90) scale(0.86,1)" font-size="5.1" text-anchor="end" fill="#333" font-family="&quot;Liberation Sans&quot;, sans-serif" font-weight="normal" stroke="#333" stroke-width="0.18">85</text>
<line x1="352.70" y1="329.84" x2="354.60" y2="329.84" stroke="#555" stroke-width="0.42"/>
<line x1="352.70" y1="327.96" x2="354.60" y2="327.96" stroke="#555" stroke-width="0.42"/>
<line x1="352.70" y1="326.09" x2="354.60" y2="326.09" stroke="#555" stroke-width="0.42"/>
<line x1="352.70" y1="324.21" x2="354.60" y2="324.21" stroke="#555" stroke-width="0.42"/>
<line x1="352.00" y1="322.34" x2="354.60" y2="322.34" stroke="#555" stroke-width="0.42"/>
<text transform="translate(351.70,324.53) scale(0.86,1)" font-size="5.1" text-anchor="end" fill="#333" font-family="&quot;Liberation Sans&quot;, sans-serif" font-weight="normal" stroke="#333" stroke-width="0.18">90</text>
<line x1="352.70" y1="320.47" x2="354.60" y2="320.47" stroke="#555" stroke-width="0.42"/>
<line x1="352.70" y1="318.59" x2="354.60" y2="318.59" stroke="#555" stroke-width="0.42"/>
<line x1="352.70" y1="316.72" x2="354.60" y2="316.72" stroke="#555" stroke-width="0.42"/>
<line x1="352.70" y1="314.84" x2="354.60" y2="314.84" stroke="#555" stroke-width="0.42"/>
<line x1="352.00" y1="312.97" x2="354.60" y2="312.97" stroke="#555" stroke-width="0.42"/>
<text transform="translate(351.70,315.16) scale(0.86,1)" font-size="5.1" text-anchor="end" fill="#333" font-family="&quot;Liberation Sans&quot;, sans-serif" font-weight="normal" stroke="#333" stroke-width="0.18">95</text>
<line x1="352.70" y1="311.10" x2="354.60" y2="311.10" stroke="#555" stroke-width="0.42"/>
<line x1="352.70" y1="309.22" x2="354.60" y2="309.22" stroke="#555" stroke-width="0.42"/>
<line x1="352.70" y1="307.35" x2="354.60" y2="307.35" stroke="#555" stroke-width="0.42"/>
<line x1="352.70" y1="305.47" x2="354.60" y2="305.47" stroke="#555" stroke-width="0.42"/>
<line x1="352.00" y1="303.60" x2="354.60" y2="303.60" stroke="#555" stroke-width="0.42"/>
<text transform="translate(351.70,305.79) scale(0.86,1)" font-size="5.1" text-anchor="end" fill="#333" font-family="&quot;Liberation Sans&quot;, sans-serif" font-weight="normal" stroke="#333" stroke-width="0.18">100</text>
<line x1="354.60" y1="491.00" x2="626.10" y2="491.00" stroke="#666" stroke-width="0.6"/>
<line x1="354.60" y1="491.00" x2="354.60" y2="493.60" stroke="#555" stroke-width="0.45"/>
<text x="354.60" y="498.06" font-size="4.6" text-anchor="middle" fill="#333" font-family="&quot;Liberation Sans&quot;, sans-serif" font-weight="normal" stroke="#333" stroke-width="0.18" >0</text>
<line x1="359.12" y1="491.00" x2="359.12" y2="492.60" stroke="#555" stroke-width="0.45"/>
<line x1="363.63" y1="491.00" x2="363.63" y2="492.60" stroke="#555" stroke-width="0.45"/>
<line x1="368.15" y1="491.00" x2="368.15" y2="492.60" stroke="#555" stroke-width="0.45"/>
<line x1="372.67" y1="491.00" x2="372.67" y2="492.60" stroke="#555" stroke-width="0.45"/>
<line x1="377.18" y1="491.00" x2="377.18" y2="493.60" stroke="#555" stroke-width="0.45"/>
<text x="377.18" y="498.06" font-size="4.6" text-anchor="middle" fill="#333" font-family="&quot;Liberation Sans&quot;, sans-serif" font-weight="normal" stroke="#333" stroke-width="0.18" >1</text>
<line x1="381.70" y1="491.00" x2="381.70" y2="492.60" stroke="#555" stroke-width="0.45"/>
<line x1="386.22" y1="491.00" x2="386.22" y2="492.60" stroke="#555" stroke-width="0.45"/>
<line x1="390.73" y1="491.00" x2="390.73" y2="492.60" stroke="#555" stroke-width="0.45"/>
<line x1="395.25" y1="491.00" x2="395.25" y2="492.60" stroke="#555" stroke-width="0.45"/>
<line x1="399.77" y1="491.00" x2="399.77" y2="493.60" stroke="#555" stroke-width="0.45"/>
<text x="399.77" y="498.06" font-size="4.6" text-anchor="middle" fill="#333" font-family="&quot;Liberation Sans&quot;, sans-serif" font-weight="normal" stroke="#333" stroke-width="0.18" >2</text>
<line x1="404.28" y1="491.00" x2="404.28" y2="492.60" stroke="#555" stroke-width="0.45"/>
<line x1="408.80" y1="491.00" x2="408.80" y2="492.60" stroke="#555" stroke-width="0.45"/>
<line x1="413.32" y1="491.00" x2="413.32" y2="492.60" stroke="#555" stroke-width="0.45"/>
<line x1="417.83" y1="491.00" x2="417.83" y2="492.60" stroke="#555" stroke-width="0.45"/>
<line x1="422.35" y1="491.00" x2="422.35" y2="493.60" stroke="#555" stroke-width="0.45"/>
<text x="422.35" y="498.06" font-size="4.6" text-anchor="middle" fill="#333" font-family="&quot;Liberation Sans&quot;, sans-serif" font-weight="normal" stroke="#333" stroke-width="0.18" >3</text>
<line x1="426.87" y1="491.00" x2="426.87" y2="492.60" stroke="#555" stroke-width="0.45"/>
<line x1="431.38" y1="491.00" x2="431.38" y2="492.60" stroke="#555" stroke-width="0.45"/>
<line x1="435.90" y1="491.00" x2="435.90" y2="492.60" stroke="#555" stroke-width="0.45"/>
<line x1="440.42" y1="491.00" x2="440.42" y2="492.60" stroke="#555" stroke-width="0.45"/>
<line x1="444.93" y1="491.00" x2="444.93" y2="493.60" stroke="#555" stroke-width="0.45"/>
<text x="444.93" y="498.06" font-size="4.6" text-anchor="middle" fill="#333" font-family="&quot;Liberation Sans&quot;, sans-serif" font-weight="normal" stroke="#333" stroke-width="0.18" >4</text>
<line x1="449.45" y1="491.00" x2="449.45" y2="492.60" stroke="#555" stroke-width="0.45"/>
<line x1="453.97" y1="491.00" x2="453.97" y2="492.60" stroke="#555" stroke-width="0.45"/>
<line x1="458.48" y1="491.00" x2="458.48" y2="492.60" stroke="#555" stroke-width="0.45"/>
<line x1="463.00" y1="491.00" x2="463.00" y2="492.60" stroke="#555" stroke-width="0.45"/>
<line x1="467.52" y1="491.00" x2="467.52" y2="493.60" stroke="#555" stroke-width="0.45"/>
<text x="467.52" y="498.06" font-size="4.6" text-anchor="middle" fill="#333" font-family="&quot;Liberation Sans&quot;, sans-serif" font-weight="normal" stroke="#333" stroke-width="0.18" >5</text>
<line x1="472.03" y1="491.00" x2="472.03" y2="492.60" stroke="#555" stroke-width="0.45"/>
<line x1="476.55" y1="491.00" x2="476.55" y2="492.60" stroke="#555" stroke-width="0.45"/>
<line x1="481.07" y1="491.00" x2="481.07" y2="492.60" stroke="#555" stroke-width="0.45"/>
<line x1="485.58" y1="491.00" x2="485.58" y2="492.60" stroke="#555" stroke-width="0.45"/>
<line x1="490.10" y1="491.00" x2="490.10" y2="493.60" stroke="#555" stroke-width="0.45"/>
<text x="490.10" y="498.06" font-size="4.6" text-anchor="middle" fill="#333" font-family="&quot;Liberation Sans&quot;, sans-serif" font-weight="normal" stroke="#333" stroke-width="0.18" >6</text>
<line x1="494.62" y1="491.00" x2="494.62" y2="492.60" stroke="#555" stroke-width="0.45"/>
<line x1="499.13" y1="491.00" x2="499.13" y2="492.60" stroke="#555" stroke-width="0.45"/>
<line x1="503.65" y1="491.00" x2="503.65" y2="492.60" stroke="#555" stroke-width="0.45"/>
<line x1="508.17" y1="491.00" x2="508.17" y2="492.60" stroke="#555" stroke-width="0.45"/>
<line x1="512.68" y1="491.00" x2="512.68" y2="493.60" stroke="#555" stroke-width="0.45"/>
<text x="512.68" y="498.06" font-size="4.6" text-anchor="middle" fill="#333" font-family="&quot;Liberation Sans&quot;, sans-serif" font-weight="normal" stroke="#333" stroke-width="0.18" >7</text>
<line x1="517.20" y1="491.00" x2="517.20" y2="492.60" stroke="#555" stroke-width="0.45"/>
<line x1="521.72" y1="491.00" x2="521.72" y2="492.60" stroke="#555" stroke-width="0.45"/>
<line x1="526.23" y1="491.00" x2="526.23" y2="492.60" stroke="#555" stroke-width="0.45"/>
<line x1="530.75" y1="491.00" x2="530.75" y2="492.60" stroke="#555" stroke-width="0.45"/>
<line x1="535.27" y1="491.00" x2="535.27" y2="493.60" stroke="#555" stroke-width="0.45"/>
<text x="535.27" y="498.06" font-size="4.6" text-anchor="middle" fill="#333" font-family="&quot;Liberation Sans&quot;, sans-serif" font-weight="normal" stroke="#333" stroke-width="0.18" >8</text>
<line x1="539.78" y1="491.00" x2="539.78" y2="492.60" stroke="#555" stroke-width="0.45"/>
<line x1="544.30" y1="491.00" x2="544.30" y2="492.60" stroke="#555" stroke-width="0.45"/>
<line x1="548.82" y1="491.00" x2="548.82" y2="492.60" stroke="#555" stroke-width="0.45"/>
<line x1="553.33" y1="491.00" x2="553.33" y2="492.60" stroke="#555" stroke-width="0.45"/>
<line x1="557.85" y1="491.00" x2="557.85" y2="493.60" stroke="#555" stroke-width="0.45"/>
<text x="557.85" y="498.06" font-size="4.6" text-anchor="middle" fill="#333" font-family="&quot;Liberation Sans&quot;, sans-serif" font-weight="normal" stroke="#333" stroke-width="0.18" >9</text>
<line x1="562.37" y1="491.00" x2="562.37" y2="492.60" stroke="#555" stroke-width="0.45"/>
<line x1="566.88" y1="491.00" x2="566.88" y2="492.60" stroke="#555" stroke-width="0.45"/>
<line x1="571.40" y1="491.00" x2="571.40" y2="492.60" stroke="#555" stroke-width="0.45"/>
<line x1="575.92" y1="491.00" x2="575.92" y2="492.60" stroke="#555" stroke-width="0.45"/>
<line x1="580.43" y1="491.00" x2="580.43" y2="493.60" stroke="#555" stroke-width="0.45"/>
<text x="580.43" y="498.06" font-size="4.6" text-anchor="middle" fill="#333" font-family="&quot;Liberation Sans&quot;, sans-serif" font-weight="normal" stroke="#333" stroke-width="0.18" >10</text>
<line x1="584.95" y1="491.00" x2="584.95" y2="492.60" stroke="#555" stroke-width="0.45"/>
<line x1="589.47" y1="491.00" x2="589.47" y2="492.60" stroke="#555" stroke-width="0.45"/>
<line x1="593.98" y1="491.00" x2="593.98" y2="492.60" stroke="#555" stroke-width="0.45"/>
<line x1="598.50" y1="491.00" x2="598.50" y2="492.60" stroke="#555" stroke-width="0.45"/>
<line x1="603.02" y1="491.00" x2="603.02" y2="493.60" stroke="#555" stroke-width="0.45"/>
<text x="603.02" y="498.06" font-size="4.6" text-anchor="middle" fill="#333" font-family="&quot;Liberation Sans&quot;, sans-serif" font-weight="normal" stroke="#333" stroke-width="0.18" >11</text>
<line x1="607.53" y1="491.00" x2="607.53" y2="492.60" stroke="#555" stroke-width="0.45"/>
<line x1="612.05" y1="491.00" x2="612.05" y2="492.60" stroke="#555" stroke-width="0.45"/>
<line x1="616.57" y1="491.00" x2="616.57" y2="492.60" stroke="#555" stroke-width="0.45"/>
<line x1="621.08" y1="491.00" x2="621.08" y2="492.60" stroke="#555" stroke-width="0.45"/>
<line x1="625.60" y1="491.00" x2="625.60" y2="493.60" stroke="#555" stroke-width="0.45"/>
<text x="625.60" y="498.06" font-size="4.6" text-anchor="middle" fill="#333" font-family="&quot;Liberation Sans&quot;, sans-serif" font-weight="normal" stroke="#333" stroke-width="0.18" >12</text>
<text x="478.50" y="503.96" font-size="4.6" text-anchor="start" fill="#333" font-family="&quot;Liberation Sans&quot;, sans-serif" font-weight="normal" stroke="#333" stroke-width="0.18" >Time (min)</text>
<text x="336.00" y="297.46" font-size="4.6" text-anchor="start" fill="#333" font-family="&quot;Liberation Sans&quot;, sans-serif" font-weight="normal" stroke="#333" stroke-width="0.18" >RT:</text>
<text x="345.20" y="297.53" font-size="4.8" text-anchor="start" fill="#5a5aa8" font-family="&quot;Liberation Sans&quot;, sans-serif" font-weight="normal" stroke="#5a5aa8" stroke-width="0.18" >0.00 - 12.01</text>
<text x="0.00" y="0.00" font-size="4.5" text-anchor="middle" fill="#333" font-family="&quot;Liberation Sans&quot;, sans-serif" font-weight="normal" stroke="#333" stroke-width="0.18" transform="translate(342.10,397.50) rotate(-90)">Relative Abundance</text>
<text transform="translate(625.60,303.16) scale(0.93,1)" font-size="4.9" text-anchor="start" fill="#383838" font-family="&quot;Liberation Sans&quot;, sans-serif" font-weight="normal" stroke="#383838" stroke-width="0.18">NL:</text>
<text transform="translate(625.60,308.34) scale(0.93,1)" font-size="4.9" text-anchor="start" fill="#383838" font-family="&quot;Liberation Sans&quot;, sans-serif" font-weight="normal" stroke="#383838" stroke-width="0.18">8.46E9</text>
<text transform="translate(625.60,313.52) scale(0.93,1)" font-size="4.9" text-anchor="start" fill="#383838" font-family="&quot;Liberation Sans&quot;, sans-serif" font-weight="normal" stroke="#383838" stroke-width="0.18">TIC F: FTMS - p</text>
<text transform="translate(625.60,318.70) scale(0.93,1)" font-size="4.9" text-anchor="start" fill="#383838" font-family="&quot;Liberation Sans&quot;, sans-serif" font-weight="normal" stroke="#383838" stroke-width="0.18">ESI sid=5.00  Full</text>
<text transform="translate(625.60,323.88) scale(0.93,1)" font-size="4.9" text-anchor="start" fill="#383838" font-family="&quot;Liberation Sans&quot;, sans-serif" font-weight="normal" stroke="#383838" stroke-width="0.18">ms</text>
<text transform="translate(625.60,329.06) scale(0.93,1)" font-size="4.9" text-anchor="start" fill="#383838" font-family="&quot;Liberation Sans&quot;, sans-serif" font-weight="normal" stroke="#383838" stroke-width="0.18">[70.0000-</text>
<text transform="translate(625.60,334.24) scale(0.93,1)" font-size="4.9" text-anchor="start" fill="#383838" font-family="&quot;Liberation Sans&quot;, sans-serif" font-weight="normal" stroke="#383838" stroke-width="0.18">1050.0000]  MS</text>
<text transform="translate(625.60,339.42) scale(0.93,1)" font-size="4.9" text-anchor="start" fill="#383838" font-family="&quot;Liberation Sans&quot;, sans-serif" font-weight="normal" stroke="#383838" stroke-width="0.18">F_N202</text>
<line x1="396.70" y1="465.90" x2="404.80" y2="465.90" stroke="#8fcf8f" stroke-width="0.5"/>
<line x1="408.00" y1="466.10" x2="433.70" y2="466.10" stroke="#8fcf8f" stroke-width="0.5"/>
<line x1="443.00" y1="482.00" x2="453.00" y2="482.00" stroke="#8fcf8f" stroke-width="0.5"/>
<line x1="602.00" y1="478.00" x2="625.00" y2="478.00" stroke="#8fcf8f" stroke-width="0.5"/>
<path d="M354.80,479.40 L362.50,479.40 L362.80,402.00 L363.70,399.00 L364.60,398.00 L365.30,304.20 L366.00,390.00 L366.50,427.50 L367.10,319.30 L367.60,398.00 L368.20,408.00 L369.60,449.60 L370.50,422.00 L372.50,449.00 L374.30,410.00 L375.90,437.50 L377.90,456.30 L379.00,452.30 L381.30,468.40 L383.00,461.70 L384.60,467.70 L385.50,467.00 L387.60,401.30 L388.60,412.00 L390.60,444.20 L392.60,468.40 L394.00,470.90 L395.00,469.15 L396.00,467.50 L397.50,469.00 L398.37,470.36 L399.23,472.02 L400.10,472.90 L401.00,473.53 L401.90,474.24 L402.80,474.90 L403.70,473.85 L404.60,472.32 L405.50,471.50 L406.50,472.51 L407.50,473.50 L408.50,474.33 L409.50,474.90 L410.50,472.49 L411.50,469.50 L412.90,468.80 L414.00,471.00 L415.00,469.00 L416.20,468.20 L417.60,473.50 L418.90,478.30 L420.00,471.00 L421.20,478.90 L422.10,475.54 L423.00,473.00 L424.30,468.80 L425.15,466.95 L426.00,465.50 L427.15,465.74 L428.30,466.80 L429.70,468.00 L430.70,470.41 L431.70,472.20 L432.60,474.19 L433.50,475.34 L434.40,477.60 L435.30,479.42 L436.20,480.73 L437.10,481.60 L437.90,481.89 L438.70,482.00 L439.50,481.68 L440.30,481.68 L441.10,482.30 L442.00,482.44 L442.90,482.18 L443.80,482.40 L444.70,482.56 L445.60,482.51 L446.50,483.00 L447.38,482.97 L448.25,482.95 L449.12,483.27 L450.00,483.00 L450.98,482.77 L451.95,482.61 L452.92,482.25 L453.90,482.00 L454.90,483.63 L455.90,485.00 L456.95,484.47 L458.00,484.00 L458.82,483.40 L459.65,483.55 L460.48,483.12 L461.30,482.30 L462.23,482.87 L463.15,483.07 L464.07,483.05 L465.00,483.50 L465.81,483.11 L466.63,482.99 L467.44,482.64 L468.26,483.03 L469.07,482.56 L469.89,482.75 L470.70,482.30 L471.60,482.61 L472.50,483.47 L473.40,483.78 L474.30,483.50 L475.20,484.07 L476.10,484.70 L477.08,485.25 L478.05,485.13 L479.02,485.76 L480.00,485.60 L480.80,485.48 L481.60,485.18 L482.40,485.58 L483.20,485.66 L484.00,485.40 L484.80,481.60 L486.00,485.00 L486.80,484.92 L487.60,484.87 L488.40,485.17 L489.20,485.77 L490.00,485.50 L490.86,485.72 L491.71,485.22 L492.57,485.34 L493.43,485.24 L494.29,485.22 L495.14,485.82 L496.00,485.60 L497.10,484.50 L497.60,440.00 L498.10,427.40 L498.60,440.00 L499.10,470.00 L499.80,478.50 L500.50,482.50 L502.00,484.50 L504.50,485.40 L510.00,485.80 L516.00,485.90 L517.90,485.80 L518.30,469.20 L518.80,469.20 L519.30,479.80 L520.50,480.20 L522.40,481.30 L524.80,484.60 L529.00,485.50 L540.00,485.40 L550.00,485.60 L560.00,485.70 L581.00,485.70 L583.60,487.10 L597.10,487.10 L598.40,485.00 L601.80,478.30 L625.30,478.30" fill="none" stroke="#4a4a4a" stroke-width="0.6" stroke-linejoin="round" />
<text transform="translate(364.80,303.50) scale(0.92,1)" font-size="5.0" text-anchor="middle" fill="#222" font-family="&quot;Liberation Sans&quot;, sans-serif" font-weight="normal" stroke="#222" stroke-width="0.18">0.47</text>
<text transform="translate(371.90,320.10) scale(0.92,1)" font-size="5.0" text-anchor="middle" fill="#222" font-family="&quot;Liberation Sans&quot;, sans-serif" font-weight="normal" stroke="#222" stroke-width="0.18">0.56</text>
<text transform="translate(374.10,395.30) scale(0.92,1)" font-size="5.0" text-anchor="middle" fill="#222" font-family="&quot;Liberation Sans&quot;, sans-serif" font-weight="normal" stroke="#222" stroke-width="0.18">0.60</text>
<text transform="translate(374.65,408.80) scale(0.92,1)" font-size="5.0" text-anchor="middle" fill="#222" font-family="&quot;Liberation Sans&quot;, sans-serif" font-weight="normal" stroke="#222" stroke-width="0.18">0.69</text>
<text transform="translate(387.70,399.40) scale(0.92,1)" font-size="5.0" text-anchor="middle" fill="#222" font-family="&quot;Liberation Sans&quot;, sans-serif" font-weight="normal" stroke="#222" stroke-width="0.18">1.46</text>
<text transform="translate(394.95,412.40) scale(0.92,1)" font-size="5.0" text-anchor="middle" fill="#222" font-family="&quot;Liberation Sans&quot;, sans-serif" font-weight="normal" stroke="#222" stroke-width="0.18">1.52</text>
<text transform="translate(399.75,465.70) scale(0.92,1)" font-size="5.0" text-anchor="middle" fill="#222" font-family="&quot;Liberation Sans&quot;, sans-serif" font-weight="normal" stroke="#222" stroke-width="0.18">1.84</text>
<text transform="translate(412.40,465.70) scale(0.92,1)" font-size="5.0" text-anchor="middle" fill="#222" font-family="&quot;Liberation Sans&quot;, sans-serif" font-weight="normal" stroke="#222" stroke-width="0.18">3.10</text>
<text transform="translate(425.50,464.80) scale(0.92,1)" font-size="5.0" text-anchor="middle" fill="#222" font-family="&quot;Liberation Sans&quot;, sans-serif" font-weight="normal" stroke="#222" stroke-width="0.18">3.15</text>
<text transform="translate(438.20,465.70) scale(0.92,1)" font-size="5.0" text-anchor="middle" fill="#222" font-family="&quot;Liberation Sans&quot;, sans-serif" font-weight="normal" stroke="#222" stroke-width="0.18">3.28</text>
<text transform="translate(440.90,476.00) scale(0.92,1)" font-size="5.0" text-anchor="middle" fill="#222" font-family="&quot;Liberation Sans&quot;, sans-serif" font-weight="normal" stroke="#222" stroke-width="0.18">3.56</text>
<text transform="translate(452.90,480.70) scale(0.92,1)" font-size="5.0" text-anchor="middle" fill="#222" font-family="&quot;Liberation Sans&quot;, sans-serif" font-weight="normal" stroke="#222" stroke-width="0.18">3.89</text>
<text transform="translate(471.05,480.70) scale(0.92,1)" font-size="5.0" text-anchor="middle" fill="#222" font-family="&quot;Liberation Sans&quot;, sans-serif" font-weight="normal" stroke="#222" stroke-width="0.18">5.16</text>
<text transform="translate(485.25,481.00) scale(0.92,1)" font-size="5.0" text-anchor="middle" fill="#222" font-family="&quot;Liberation Sans&quot;, sans-serif" font-weight="normal" stroke="#222" stroke-width="0.18">5.76</text>
<text transform="translate(498.40,425.70) scale(0.92,1)" font-size="5.0" text-anchor="middle" fill="#222" font-family="&quot;Liberation Sans&quot;, sans-serif" font-weight="normal" stroke="#222" stroke-width="0.18">6.36</text>
<text transform="translate(508.70,482.80) scale(0.92,1)" font-size="5.0" text-anchor="middle" fill="#222" font-family="&quot;Liberation Sans&quot;, sans-serif" font-weight="normal" stroke="#222" stroke-width="0.18">6.62</text>
<text transform="translate(519.25,467.30) scale(0.92,1)" font-size="5.0" text-anchor="middle" fill="#222" font-family="&quot;Liberation Sans&quot;, sans-serif" font-weight="normal" stroke="#222" stroke-width="0.18">7.28</text>
<text transform="translate(526.45,478.70) scale(0.92,1)" font-size="5.0" text-anchor="middle" fill="#222" font-family="&quot;Liberation Sans&quot;, sans-serif" font-weight="normal" stroke="#222" stroke-width="0.18">7.35</text>
<text transform="translate(539.10,483.50) scale(0.92,1)" font-size="5.0" text-anchor="middle" fill="#222" font-family="&quot;Liberation Sans&quot;, sans-serif" font-weight="normal" stroke="#222" stroke-width="0.18">7.58</text>
<text transform="translate(551.40,483.50) scale(0.92,1)" font-size="5.0" text-anchor="middle" fill="#222" font-family="&quot;Liberation Sans&quot;, sans-serif" font-weight="normal" stroke="#222" stroke-width="0.18">8.56</text>
<text transform="translate(564.45,484.40) scale(0.92,1)" font-size="5.0" text-anchor="middle" fill="#222" font-family="&quot;Liberation Sans&quot;, sans-serif" font-weight="normal" stroke="#222" stroke-width="0.18">9.15</text>
<text transform="translate(577.85,484.40) scale(0.92,1)" font-size="5.0" text-anchor="middle" fill="#222" font-family="&quot;Liberation Sans&quot;, sans-serif" font-weight="normal" stroke="#222" stroke-width="0.18">9.90</text>
<text transform="translate(603.15,476.50) scale(0.92,1)" font-size="5.0" text-anchor="middle" fill="#222" font-family="&quot;Liberation Sans&quot;, sans-serif" font-weight="normal" stroke="#222" stroke-width="0.18">11.20</text>
<text transform="translate(617.95,476.50) scale(0.92,1)" font-size="5.0" text-anchor="middle" fill="#222" font-family="&quot;Liberation Sans&quot;, sans-serif" font-weight="normal" stroke="#222" stroke-width="0.18">11.71</text>
<line x1="23.10" y1="536.90" x2="23.10" y2="724.30" stroke="#666" stroke-width="0.6"/>
<line x1="20.50" y1="724.30" x2="23.10" y2="724.30" stroke="#555" stroke-width="0.42"/>
<text transform="translate(19.80,726.49) scale(0.86,1)" font-size="5.1" text-anchor="end" fill="#333" font-family="&quot;Liberation Sans&quot;, sans-serif" font-weight="normal" stroke="#333" stroke-width="0.18">0</text>
<line x1="21.20" y1="722.43" x2="23.10" y2="722.43" stroke="#555" stroke-width="0.42"/>
<line x1="21.20" y1="720.56" x2="23.10" y2="720.56" stroke="#555" stroke-width="0.42"/>
<line x1="21.20" y1="718.69" x2="23.10" y2="718.69" stroke="#555" stroke-width="0.42"/>
<line x1="21.20" y1="716.82" x2="23.10" y2="716.82" stroke="#555" stroke-width="0.42"/>
<line x1="20.50" y1="714.95" x2="23.10" y2="714.95" stroke="#555" stroke-width="0.42"/>
<text transform="translate(19.80,717.14) scale(0.86,1)" font-size="5.1" text-anchor="end" fill="#333" font-family="&quot;Liberation Sans&quot;, sans-serif" font-weight="normal" stroke="#333" stroke-width="0.18">5</text>
<line x1="21.20" y1="713.09" x2="23.10" y2="713.09" stroke="#555" stroke-width="0.42"/>
<line x1="21.20" y1="711.22" x2="23.10" y2="711.22" stroke="#555" stroke-width="0.42"/>
<line x1="21.20" y1="709.35" x2="23.10" y2="709.35" stroke="#555" stroke-width="0.42"/>
<line x1="21.20" y1="707.48" x2="23.10" y2="707.48" stroke="#555" stroke-width="0.42"/>
<line x1="20.50" y1="705.61" x2="23.10" y2="705.61" stroke="#555" stroke-width="0.42"/>
<text transform="translate(19.80,707.80) scale(0.86,1)" font-size="5.1" text-anchor="end" fill="#333" font-family="&quot;Liberation Sans&quot;, sans-serif" font-weight="normal" stroke="#333" stroke-width="0.18">10</text>
<line x1="21.20" y1="703.74" x2="23.10" y2="703.74" stroke="#555" stroke-width="0.42"/>
<line x1="21.20" y1="701.87" x2="23.10" y2="701.87" stroke="#555" stroke-width="0.42"/>
<line x1="21.20" y1="700.00" x2="23.10" y2="700.00" stroke="#555" stroke-width="0.42"/>
<line x1="21.20" y1="698.13" x2="23.10" y2="698.13" stroke="#555" stroke-width="0.42"/>
<line x1="20.50" y1="696.26" x2="23.10" y2="696.26" stroke="#555" stroke-width="0.42"/>
<text transform="translate(19.80,698.45) scale(0.86,1)" font-size="5.1" text-anchor="end" fill="#333" font-family="&quot;Liberation Sans&quot;, sans-serif" font-weight="normal" stroke="#333" stroke-width="0.18">15</text>
<line x1="21.20" y1="694.40" x2="23.10" y2="694.40" stroke="#555" stroke-width="0.42"/>
<line x1="21.20" y1="692.53" x2="23.10" y2="692.53" stroke="#555" stroke-width="0.42"/>
<line x1="21.20" y1="690.66" x2="23.10" y2="690.66" stroke="#555" stroke-width="0.42"/>
<line x1="21.20" y1="688.79" x2="23.10" y2="688.79" stroke="#555" stroke-width="0.42"/>
<line x1="20.50" y1="686.92" x2="23.10" y2="686.92" stroke="#555" stroke-width="0.42"/>
<text transform="translate(19.80,689.11) scale(0.86,1)" font-size="5.1" text-anchor="end" fill="#333" font-family="&quot;Liberation Sans&quot;, sans-serif" font-weight="normal" stroke="#333" stroke-width="0.18">20</text>
<line x1="21.20" y1="685.05" x2="23.10" y2="685.05" stroke="#555" stroke-width="0.42"/>
<line x1="21.20" y1="683.18" x2="23.10" y2="683.18" stroke="#555" stroke-width="0.42"/>
<line x1="21.20" y1="681.31" x2="23.10" y2="681.31" stroke="#555" stroke-width="0.42"/>
<line x1="21.20" y1="679.44" x2="23.10" y2="679.44" stroke="#555" stroke-width="0.42"/>
<line x1="20.50" y1="677.57" x2="23.10" y2="677.57" stroke="#555" stroke-width="0.42"/>
<text transform="translate(19.80,679.76) scale(0.86,1)" font-size="5.1" text-anchor="end" fill="#333" font-family="&quot;Liberation Sans&quot;, sans-serif" font-weight="normal" stroke="#333" stroke-width="0.18">25</text>
<line x1="21.20" y1="675.71" x2="23.10" y2="675.71" stroke="#555" stroke-width="0.42"/>
<line x1="21.20" y1="673.84" x2="23.10" y2="673.84" stroke="#555" stroke-width="0.42"/>
<line x1="21.20" y1="671.97" x2="23.10" y2="671.97" stroke="#555" stroke-width="0.42"/>
<line x1="21.20" y1="670.10" x2="23.10" y2="670.10" stroke="#555" stroke-width="0.42"/>
<line x1="20.50" y1="668.23" x2="23.10" y2="668.23" stroke="#555" stroke-width="0.42"/>
<text transform="translate(19.80,670.42) scale(0.86,1)" font-size="5.1" text-anchor="end" fill="#333" font-family="&quot;Liberation Sans&quot;, sans-serif" font-weight="normal" stroke="#333" stroke-width="0.18">30</text>
<line x1="21.20" y1="666.36" x2="23.10" y2="666.36" stroke="#555" stroke-width="0.42"/>
<line x1="21.20" y1="664.49" x2="23.10" y2="664.49" stroke="#555" stroke-width="0.42"/>
<line x1="21.20" y1="662.62" x2="23.10" y2="662.62" stroke="#555" stroke-width="0.42"/>
<line x1="21.20" y1="660.75" x2="23.10" y2="660.75" stroke="#555" stroke-width="0.42"/>
<line x1="20.50" y1="658.88" x2="23.10" y2="658.88" stroke="#555" stroke-width="0.42"/>
<text transform="translate(19.80,661.07) scale(0.86,1)" font-size="5.1" text-anchor="end" fill="#333" font-family="&quot;Liberation Sans&quot;, sans-serif" font-weight="normal" stroke="#333" stroke-width="0.18">35</text>
<line x1="21.20" y1="657.02" x2="23.10" y2="657.02" stroke="#555" stroke-width="0.42"/>
<line x1="21.20" y1="655.15" x2="23.10" y2="655.15" stroke="#555" stroke-width="0.42"/>
<line x1="21.20" y1="653.28" x2="23.10" y2="653.28" stroke="#555" stroke-width="0.42"/>
<line x1="21.20" y1="651.41" x2="23.10" y2="651.41" stroke="#555" stroke-width="0.42"/>
<line x1="20.50" y1="649.54" x2="23.10" y2="649.54" stroke="#555" stroke-width="0.42"/>
<text transform="translate(19.80,651.73) scale(0.86,1)" font-size="5.1" text-anchor="end" fill="#333" font-family="&quot;Liberation Sans&quot;, sans-serif" font-weight="normal" stroke="#333" stroke-width="0.18">40</text>
<line x1="21.20" y1="647.67" x2="23.10" y2="647.67" stroke="#555" stroke-width="0.42"/>
<line x1="21.20" y1="645.80" x2="23.10" y2="645.80" stroke="#555" stroke-width="0.42"/>
<line x1="21.20" y1="643.93" x2="23.10" y2="643.93" stroke="#555" stroke-width="0.42"/>
<line x1="21.20" y1="642.06" x2="23.10" y2="642.06" stroke="#555" stroke-width="0.42"/>
<line x1="20.50" y1="640.19" x2="23.10" y2="640.19" stroke="#555" stroke-width="0.42"/>
<text transform="translate(19.80,642.38) scale(0.86,1)" font-size="5.1" text-anchor="end" fill="#333" font-family="&quot;Liberation Sans&quot;, sans-serif" font-weight="normal" stroke="#333" stroke-width="0.18">45</text>
<line x1="21.20" y1="638.33" x2="23.10" y2="638.33" stroke="#555" stroke-width="0.42"/>
<line x1="21.20" y1="636.46" x2="23.10" y2="636.46" stroke="#555" stroke-width="0.42"/>
<line x1="21.20" y1="634.59" x2="23.10" y2="634.59" stroke="#555" stroke-width="0.42"/>
<line x1="21.20" y1="632.72" x2="23.10" y2="632.72" stroke="#555" stroke-width="0.42"/>
<line x1="20.50" y1="630.85" x2="23.10" y2="630.85" stroke="#555" stroke-width="0.42"/>
<text transform="translate(19.80,633.04) scale(0.86,1)" font-size="5.1" text-anchor="end" fill="#333" font-family="&quot;Liberation Sans&quot;, sans-serif" font-weight="normal" stroke="#333" stroke-width="0.18">50</text>
<line x1="21.20" y1="628.98" x2="23.10" y2="628.98" stroke="#555" stroke-width="0.42"/>
<line x1="21.20" y1="627.11" x2="23.10" y2="627.11" stroke="#555" stroke-width="0.42"/>
<line x1="21.20" y1="625.24" x2="23.10" y2="625.24" stroke="#555" stroke-width="0.42"/>
<line x1="21.20" y1="623.37" x2="23.10" y2="623.37" stroke="#555" stroke-width="0.42"/>
<line x1="20.50" y1="621.50" x2="23.10" y2="621.50" stroke="#555" stroke-width="0.42"/>
<text transform="translate(19.80,623.69) scale(0.86,1)" font-size="5.1" text-anchor="end" fill="#333" font-family="&quot;Liberation Sans&quot;, sans-serif" font-weight="normal" stroke="#333" stroke-width="0.18">55</text>
<line x1="21.20" y1="619.64" x2="23.10" y2="619.64" stroke="#555" stroke-width="0.42"/>
<line x1="21.20" y1="617.77" x2="23.10" y2="617.77" stroke="#555" stroke-width="0.42"/>
<line x1="21.20" y1="615.90" x2="23.10" y2="615.90" stroke="#555" stroke-width="0.42"/>
<line x1="21.20" y1="614.03" x2="23.10" y2="614.03" stroke="#555" stroke-width="0.42"/>
<line x1="20.50" y1="612.16" x2="23.10" y2="612.16" stroke="#555" stroke-width="0.42"/>
<text transform="translate(19.80,614.35) scale(0.86,1)" font-size="5.1" text-anchor="end" fill="#333" font-family="&quot;Liberation Sans&quot;, sans-serif" font-weight="normal" stroke="#333" stroke-width="0.18">60</text>
<line x1="21.20" y1="610.29" x2="23.10" y2="610.29" stroke="#555" stroke-width="0.42"/>
<line x1="21.20" y1="608.42" x2="23.10" y2="608.42" stroke="#555" stroke-width="0.42"/>
<line x1="21.20" y1="606.55" x2="23.10" y2="606.55" stroke="#555" stroke-width="0.42"/>
<line x1="21.20" y1="604.68" x2="23.10" y2="604.68" stroke="#555" stroke-width="0.42"/>
<line x1="20.50" y1="602.81" x2="23.10" y2="602.81" stroke="#555" stroke-width="0.42"/>
<text transform="translate(19.80,605.00) scale(0.86,1)" font-size="5.1" text-anchor="end" fill="#333" font-family="&quot;Liberation Sans&quot;, sans-serif" font-weight="normal" stroke="#333" stroke-width="0.18">65</text>
<line x1="21.20" y1="600.95" x2="23.10" y2="600.95" stroke="#555" stroke-width="0.42"/>
<line x1="21.20" y1="599.08" x2="23.10" y2="599.08" stroke="#555" stroke-width="0.42"/>
<line x1="21.20" y1="597.21" x2="23.10" y2="597.21" stroke="#555" stroke-width="0.42"/>
<line x1="21.20" y1="595.34" x2="23.10" y2="595.34" stroke="#555" stroke-width="0.42"/>
<line x1="20.50" y1="593.47" x2="23.10" y2="593.47" stroke="#555" stroke-width="0.42"/>
<text transform="translate(19.80,595.66) scale(0.86,1)" font-size="5.1" text-anchor="end" fill="#333" font-family="&quot;Liberation Sans&quot;, sans-serif" font-weight="normal" stroke="#333" stroke-width="0.18">70</text>
<line x1="21.20" y1="591.60" x2="23.10" y2="591.60" stroke="#555" stroke-width="0.42"/>
<line x1="21.20" y1="589.73" x2="23.10" y2="589.73" stroke="#555" stroke-width="0.42"/>
<line x1="21.20" y1="587.86" x2="23.10" y2="587.86" stroke="#555" stroke-width="0.42"/>
<line x1="21.20" y1="585.99" x2="23.10" y2="585.99" stroke="#555" stroke-width="0.42"/>
<line x1="20.50" y1="584.12" x2="23.10" y2="584.12" stroke="#555" stroke-width="0.42"/>
<text transform="translate(19.80,586.31) scale(0.86,1)" font-size="5.1" text-anchor="end" fill="#333" font-family="&quot;Liberation Sans&quot;, sans-serif" font-weight="normal" stroke="#333" stroke-width="0.18">75</text>
<line x1="21.20" y1="582.26" x2="23.10" y2="582.26" stroke="#555" stroke-width="0.42"/>
<line x1="21.20" y1="580.39" x2="23.10" y2="580.39" stroke="#555" stroke-width="0.42"/>
<line x1="21.20" y1="578.52" x2="23.10" y2="578.52" stroke="#555" stroke-width="0.42"/>
<line x1="21.20" y1="576.65" x2="23.10" y2="576.65" stroke="#555" stroke-width="0.42"/>
<line x1="20.50" y1="574.78" x2="23.10" y2="574.78" stroke="#555" stroke-width="0.42"/>
<text transform="translate(19.80,576.97) scale(0.86,1)" font-size="5.1" text-anchor="end" fill="#333" font-family="&quot;Liberation Sans&quot;, sans-serif" font-weight="normal" stroke="#333" stroke-width="0.18">80</text>
<line x1="21.20" y1="572.91" x2="23.10" y2="572.91" stroke="#555" stroke-width="0.42"/>
<line x1="21.20" y1="571.04" x2="23.10" y2="571.04" stroke="#555" stroke-width="0.42"/>
<line x1="21.20" y1="569.17" x2="23.10" y2="569.17" stroke="#555" stroke-width="0.42"/>
<line x1="21.20" y1="567.30" x2="23.10" y2="567.30" stroke="#555" stroke-width="0.42"/>
<line x1="20.50" y1="565.43" x2="23.10" y2="565.43" stroke="#555" stroke-width="0.42"/>
<text transform="translate(19.80,567.62) scale(0.86,1)" font-size="5.1" text-anchor="end" fill="#333" font-family="&quot;Liberation Sans&quot;, sans-serif" font-weight="normal" stroke="#333" stroke-width="0.18">85</text>
<line x1="21.20" y1="563.57" x2="23.10" y2="563.57" stroke="#555" stroke-width="0.42"/>
<line x1="21.20" y1="561.70" x2="23.10" y2="561.70" stroke="#555" stroke-width="0.42"/>
<line x1="21.20" y1="559.83" x2="23.10" y2="559.83" stroke="#555" stroke-width="0.42"/>
<line x1="21.20" y1="557.96" x2="23.10" y2="557.96" stroke="#555" stroke-width="0.42"/>
<line x1="20.50" y1="556.09" x2="23.10" y2="556.09" stroke="#555" stroke-width="0.42"/>
<text transform="translate(19.80,558.28) scale(0.86,1)" font-size="5.1" text-anchor="end" fill="#333" font-family="&quot;Liberation Sans&quot;, sans-serif" font-weight="normal" stroke="#333" stroke-width="0.18">90</text>
<line x1="21.20" y1="554.22" x2="23.10" y2="554.22" stroke="#555" stroke-width="0.42"/>
<line x1="21.20" y1="552.35" x2="23.10" y2="552.35" stroke="#555" stroke-width="0.42"/>
<line x1="21.20" y1="550.48" x2="23.10" y2="550.48" stroke="#555" stroke-width="0.42"/>
<line x1="21.20" y1="548.61" x2="23.10" y2="548.61" stroke="#555" stroke-width="0.42"/>
<line x1="20.50" y1="546.75" x2="23.10" y2="546.75" stroke="#555" stroke-width="0.42"/>
<text transform="translate(19.80,548.93) scale(0.86,1)" font-size="5.1" text-anchor="end" fill="#333" font-family="&quot;Liberation Sans&quot;, sans-serif" font-weight="normal" stroke="#333" stroke-width="0.18">95</text>
<line x1="21.20" y1="544.88" x2="23.10" y2="544.88" stroke="#555" stroke-width="0.42"/>
<line x1="21.20" y1="543.01" x2="23.10" y2="543.01" stroke="#555" stroke-width="0.42"/>
<line x1="21.20" y1="541.14" x2="23.10" y2="541.14" stroke="#555" stroke-width="0.42"/>
<line x1="21.20" y1="539.27" x2="23.10" y2="539.27" stroke="#555" stroke-width="0.42"/>
<line x1="20.50" y1="537.40" x2="23.10" y2="537.40" stroke="#555" stroke-width="0.42"/>
<text transform="translate(19.80,539.59) scale(0.86,1)" font-size="5.1" text-anchor="end" fill="#333" font-family="&quot;Liberation Sans&quot;, sans-serif" font-weight="normal" stroke="#333" stroke-width="0.18">100</text>
<line x1="23.10" y1="724.30" x2="296.20" y2="724.30" stroke="#666" stroke-width="0.6"/>
<line x1="23.10" y1="724.30" x2="23.10" y2="726.90" stroke="#555" stroke-width="0.45"/>
<text x="23.10" y="731.36" font-size="4.6" text-anchor="middle" fill="#333" font-family="&quot;Liberation Sans&quot;, sans-serif" font-weight="normal" stroke="#333" stroke-width="0.18" >0</text>
<line x1="27.64" y1="724.30" x2="27.64" y2="725.90" stroke="#555" stroke-width="0.45"/>
<line x1="32.19" y1="724.30" x2="32.19" y2="725.90" stroke="#555" stroke-width="0.45"/>
<line x1="36.73" y1="724.30" x2="36.73" y2="725.90" stroke="#555" stroke-width="0.45"/>
<line x1="41.27" y1="724.30" x2="41.27" y2="725.90" stroke="#555" stroke-width="0.45"/>
<line x1="45.82" y1="724.30" x2="45.82" y2="726.90" stroke="#555" stroke-width="0.45"/>
<text x="45.82" y="731.36" font-size="4.6" text-anchor="middle" fill="#333" font-family="&quot;Liberation Sans&quot;, sans-serif" font-weight="normal" stroke="#333" stroke-width="0.18" >1</text>
<line x1="50.36" y1="724.30" x2="50.36" y2="725.90" stroke="#555" stroke-width="0.45"/>
<line x1="54.90" y1="724.30" x2="54.90" y2="725.90" stroke="#555" stroke-width="0.45"/>
<line x1="59.45" y1="724.30" x2="59.45" y2="725.90" stroke="#555" stroke-width="0.45"/>
<line x1="63.99" y1="724.30" x2="63.99" y2="725.90" stroke="#555" stroke-width="0.45"/>
<line x1="68.53" y1="724.30" x2="68.53" y2="726.90" stroke="#555" stroke-width="0.45"/>
<text x="68.53" y="731.36" font-size="4.6" text-anchor="middle" fill="#333" font-family="&quot;Liberation Sans&quot;, sans-serif" font-weight="normal" stroke="#333" stroke-width="0.18" >2</text>
<line x1="73.08" y1="724.30" x2="73.08" y2="725.90" stroke="#555" stroke-width="0.45"/>
<line x1="77.62" y1="724.30" x2="77.62" y2="725.90" stroke="#555" stroke-width="0.45"/>
<line x1="82.16" y1="724.30" x2="82.16" y2="725.90" stroke="#555" stroke-width="0.45"/>
<line x1="86.71" y1="724.30" x2="86.71" y2="725.90" stroke="#555" stroke-width="0.45"/>
<line x1="91.25" y1="724.30" x2="91.25" y2="726.90" stroke="#555" stroke-width="0.45"/>
<text x="91.25" y="731.36" font-size="4.6" text-anchor="middle" fill="#333" font-family="&quot;Liberation Sans&quot;, sans-serif" font-weight="normal" stroke="#333" stroke-width="0.18" >3</text>
<line x1="95.79" y1="724.30" x2="95.79" y2="725.90" stroke="#555" stroke-width="0.45"/>
<line x1="100.34" y1="724.30" x2="100.34" y2="725.90" stroke="#555" stroke-width="0.45"/>
<line x1="104.88" y1="724.30" x2="104.88" y2="725.90" stroke="#555" stroke-width="0.45"/>
<line x1="109.42" y1="724.30" x2="109.42" y2="725.90" stroke="#555" stroke-width="0.45"/>
<line x1="113.97" y1="724.30" x2="113.97" y2="726.90" stroke="#555" stroke-width="0.45"/>
<text x="113.97" y="731.36" font-size="4.6" text-anchor="middle" fill="#333" font-family="&quot;Liberation Sans&quot;, sans-serif" font-weight="normal" stroke="#333" stroke-width="0.18" >4</text>
<line x1="118.51" y1="724.30" x2="118.51" y2="725.90" stroke="#555" stroke-width="0.45"/>
<line x1="123.05" y1="724.30" x2="123.05" y2="725.90" stroke="#555" stroke-width="0.45"/>
<line x1="127.60" y1="724.30" x2="127.60" y2="725.90" stroke="#555" stroke-width="0.45"/>
<line x1="132.14" y1="724.30" x2="132.14" y2="725.90" stroke="#555" stroke-width="0.45"/>
<line x1="136.68" y1="724.30" x2="136.68" y2="726.90" stroke="#555" stroke-width="0.45"/>
<text x="136.68" y="731.36" font-size="4.6" text-anchor="middle" fill="#333" font-family="&quot;Liberation Sans&quot;, sans-serif" font-weight="normal" stroke="#333" stroke-width="0.18" >5</text>
<line x1="141.23" y1="724.30" x2="141.23" y2="725.90" stroke="#555" stroke-width="0.45"/>
<line x1="145.77" y1="724.30" x2="145.77" y2="725.90" stroke="#555" stroke-width="0.45"/>
<line x1="150.31" y1="724.30" x2="150.31" y2="725.90" stroke="#555" stroke-width="0.45"/>
<line x1="154.86" y1="724.30" x2="154.86" y2="725.90" stroke="#555" stroke-width="0.45"/>
<line x1="159.40" y1="724.30" x2="159.40" y2="726.90" stroke="#555" stroke-width="0.45"/>
<text x="159.40" y="731.36" font-size="4.6" text-anchor="middle" fill="#333" font-family="&quot;Liberation Sans&quot;, sans-serif" font-weight="normal" stroke="#333" stroke-width="0.18" >6</text>
<line x1="163.94" y1="724.30" x2="163.94" y2="725.90" stroke="#555" stroke-width="0.45"/>
<line x1="168.49" y1="724.30" x2="168.49" y2="725.90" stroke="#555" stroke-width="0.45"/>
<line x1="173.03" y1="724.30" x2="173.03" y2="725.90" stroke="#555" stroke-width="0.45"/>
<line x1="177.57" y1="724.30" x2="177.57" y2="725.90" stroke="#555" stroke-width="0.45"/>
<line x1="182.12" y1="724.30" x2="182.12" y2="726.90" stroke="#555" stroke-width="0.45"/>
<text x="182.12" y="731.36" font-size="4.6" text-anchor="middle" fill="#333" font-family="&quot;Liberation Sans&quot;, sans-serif" font-weight="normal" stroke="#333" stroke-width="0.18" >7</text>
<line x1="186.66" y1="724.30" x2="186.66" y2="725.90" stroke="#555" stroke-width="0.45"/>
<line x1="191.20" y1="724.30" x2="191.20" y2="725.90" stroke="#555" stroke-width="0.45"/>
<line x1="195.75" y1="724.30" x2="195.75" y2="725.90" stroke="#555" stroke-width="0.45"/>
<line x1="200.29" y1="724.30" x2="200.29" y2="725.90" stroke="#555" stroke-width="0.45"/>
<line x1="204.83" y1="724.30" x2="204.83" y2="726.90" stroke="#555" stroke-width="0.45"/>
<text x="204.83" y="731.36" font-size="4.6" text-anchor="middle" fill="#333" font-family="&quot;Liberation Sans&quot;, sans-serif" font-weight="normal" stroke="#333" stroke-width="0.18" >8</text>
<line x1="209.38" y1="724.30" x2="209.38" y2="725.90" stroke="#555" stroke-width="0.45"/>
<line x1="213.92" y1="724.30" x2="213.92" y2="725.90" stroke="#555" stroke-width="0.45"/>
<line x1="218.46" y1="724.30" x2="218.46" y2="725.90" stroke="#555" stroke-width="0.45"/>
<line x1="223.01" y1="724.30" x2="223.01" y2="725.90" stroke="#555" stroke-width="0.45"/>
<line x1="227.55" y1="724.30" x2="227.55" y2="726.90" stroke="#555" stroke-width="0.45"/>
<text x="227.55" y="731.36" font-size="4.6" text-anchor="middle" fill="#333" font-family="&quot;Liberation Sans&quot;, sans-serif" font-weight="normal" stroke="#333" stroke-width="0.18" >9</text>
<line x1="232.09" y1="724.30" x2="232.09" y2="725.90" stroke="#555" stroke-width="0.45"/>
<line x1="236.64" y1="724.30" x2="236.64" y2="725.90" stroke="#555" stroke-width="0.45"/>
<line x1="241.18" y1="724.30" x2="241.18" y2="725.90" stroke="#555" stroke-width="0.45"/>
<line x1="245.72" y1="724.30" x2="245.72" y2="725.90" stroke="#555" stroke-width="0.45"/>
<line x1="250.27" y1="724.30" x2="250.27" y2="726.90" stroke="#555" stroke-width="0.45"/>
<text x="250.27" y="731.36" font-size="4.6" text-anchor="middle" fill="#333" font-family="&quot;Liberation Sans&quot;, sans-serif" font-weight="normal" stroke="#333" stroke-width="0.18" >10</text>
<line x1="254.81" y1="724.30" x2="254.81" y2="725.90" stroke="#555" stroke-width="0.45"/>
<line x1="259.35" y1="724.30" x2="259.35" y2="725.90" stroke="#555" stroke-width="0.45"/>
<line x1="263.90" y1="724.30" x2="263.90" y2="725.90" stroke="#555" stroke-width="0.45"/>
<line x1="268.44" y1="724.30" x2="268.44" y2="725.90" stroke="#555" stroke-width="0.45"/>
<line x1="272.98" y1="724.30" x2="272.98" y2="726.90" stroke="#555" stroke-width="0.45"/>
<text x="272.98" y="731.36" font-size="4.6" text-anchor="middle" fill="#333" font-family="&quot;Liberation Sans&quot;, sans-serif" font-weight="normal" stroke="#333" stroke-width="0.18" >11</text>
<line x1="277.53" y1="724.30" x2="277.53" y2="725.90" stroke="#555" stroke-width="0.45"/>
<line x1="282.07" y1="724.30" x2="282.07" y2="725.90" stroke="#555" stroke-width="0.45"/>
<line x1="286.61" y1="724.30" x2="286.61" y2="725.90" stroke="#555" stroke-width="0.45"/>
<line x1="291.16" y1="724.30" x2="291.16" y2="725.90" stroke="#555" stroke-width="0.45"/>
<line x1="295.70" y1="724.30" x2="295.70" y2="726.90" stroke="#555" stroke-width="0.45"/>
<text x="295.70" y="731.36" font-size="4.6" text-anchor="middle" fill="#333" font-family="&quot;Liberation Sans&quot;, sans-serif" font-weight="normal" stroke="#333" stroke-width="0.18" >12</text>
<text x="148.50" y="737.66" font-size="4.6" text-anchor="start" fill="#333" font-family="&quot;Liberation Sans&quot;, sans-serif" font-weight="normal" stroke="#333" stroke-width="0.18" >Time (min)</text>
<text x="4.70" y="530.46" font-size="4.6" text-anchor="start" fill="#333" font-family="&quot;Liberation Sans&quot;, sans-serif" font-weight="normal" stroke="#333" stroke-width="0.18" >RT:</text>
<text x="13.90" y="530.53" font-size="4.8" text-anchor="start" fill="#5a5aa8" font-family="&quot;Liberation Sans&quot;, sans-serif" font-weight="normal" stroke="#5a5aa8" stroke-width="0.18" >0.00 - 12.01</text>
<text x="0.00" y="0.00" font-size="4.5" text-anchor="middle" fill="#333" font-family="&quot;Liberation Sans&quot;, sans-serif" font-weight="normal" stroke="#333" stroke-width="0.18" transform="translate(10.70,631.00) rotate(-90)">Relative Abundance</text>
<text transform="translate(296.00,536.06) scale(0.93,1)" font-size="4.9" text-anchor="start" fill="#383838" font-family="&quot;Liberation Sans&quot;, sans-serif" font-weight="normal" stroke="#383838" stroke-width="0.18">NL:</text>
<text transform="translate(296.00,541.30) scale(0.93,1)" font-size="4.9" text-anchor="start" fill="#383838" font-family="&quot;Liberation Sans&quot;, sans-serif" font-weight="normal" stroke="#383838" stroke-width="0.18">5.07E9</text>
<text transform="translate(296.00,546.54) scale(0.93,1)" font-size="4.9" text-anchor="start" fill="#383838" font-family="&quot;Liberation Sans&quot;, sans-serif" font-weight="normal" stroke="#383838" stroke-width="0.18">TIC F: FTMS + p</text>
<text transform="translate(296.00,551.78) scale(0.93,1)" font-size="4.9" text-anchor="start" fill="#383838" font-family="&quot;Liberation Sans&quot;, sans-serif" font-weight="normal" stroke="#383838" stroke-width="0.18">ESI sid=5.00</text>
<text transform="translate(296.00,557.02) scale(0.93,1)" font-size="4.9" text-anchor="start" fill="#383838" font-family="&quot;Liberation Sans&quot;, sans-serif" font-weight="normal" stroke="#383838" stroke-width="0.18">Full ms</text>
<text transform="translate(296.00,562.26) scale(0.93,1)" font-size="4.9" text-anchor="start" fill="#383838" font-family="&quot;Liberation Sans&quot;, sans-serif" font-weight="normal" stroke="#383838" stroke-width="0.18">[70.0000-</text>
<text transform="translate(296.00,567.50) scale(0.93,1)" font-size="4.9" text-anchor="start" fill="#383838" font-family="&quot;Liberation Sans&quot;, sans-serif" font-weight="normal" stroke="#383838" stroke-width="0.18">1050.0000]  MS</text>
<text transform="translate(296.00,572.74) scale(0.93,1)" font-size="4.9" text-anchor="start" fill="#383838" font-family="&quot;Liberation Sans&quot;, sans-serif" font-weight="normal" stroke="#383838" stroke-width="0.18">A_28</text>
<line x1="71.30" y1="704.20" x2="82.00" y2="704.20" stroke="#8fcf8f" stroke-width="0.5"/>
<line x1="90.00" y1="691.60" x2="97.50" y2="691.60" stroke="#8fcf8f" stroke-width="0.5"/>
<line x1="97.50" y1="668.00" x2="108.90" y2="668.00" stroke="#8fcf8f" stroke-width="0.5"/>
<line x1="136.50" y1="685.60" x2="152.60" y2="685.60" stroke="#8fcf8f" stroke-width="0.5"/>
<path d="M23.10,721.40 L31.50,721.40 L32.50,722.20 L33.40,722.00 L33.80,650.00 L34.50,560.00 L35.10,537.40 L35.50,560.00 L36.00,610.00 L36.70,634.60 L37.40,669.60 L39.00,700.50 L40.00,713.30 L40.80,695.00 L41.40,681.00 L42.40,700.50 L43.30,705.20 L44.40,680.00 L45.50,649.10 L46.40,675.00 L47.40,699.20 L48.70,701.00 L49.80,699.90 L51.10,707.30 L52.10,709.58 L53.10,712.00 L54.15,712.38 L55.20,712.60 L56.07,713.89 L56.93,713.95 L57.80,714.70 L58.65,714.54 L59.50,714.47 L60.35,713.73 L61.20,714.00 L62.60,710.60 L63.47,710.18 L64.33,709.92 L65.20,709.30 L66.10,710.81 L67.00,710.93 L67.90,712.60 L68.95,713.52 L70.00,715.00 L71.30,716.00 L72.30,714.08 L73.30,713.30 L74.12,713.59 L74.94,713.29 L75.76,712.24 L76.58,713.42 L77.40,712.60 L78.40,712.45 L79.40,711.00 L80.40,709.02 L81.40,706.60 L82.70,704.60 L83.75,704.06 L84.80,703.20 L85.75,703.62 L86.70,705.00 L88.10,701.70 L88.90,697.89 L89.70,695.47 L90.50,692.30 L91.80,697.70 L92.65,699.73 L93.50,703.00 L94.80,699.00 L95.80,696.92 L96.80,695.70 L97.80,693.64 L98.80,692.30 L99.85,693.64 L100.90,696.30 L102.90,705.70 L103.90,708.70 L104.90,711.80 L105.90,713.07 L106.90,714.50 L108.30,713.00 L109.30,668.10 L110.40,704.40 L111.80,665.40 L113.60,687.00 L115.20,704.40 L116.03,706.61 L116.87,708.02 L117.70,709.80 L118.70,708.97 L119.70,707.80 L121.00,703.00 L122.00,706.40 L123.00,709.80 L123.90,711.79 L124.80,713.35 L125.70,715.20 L126.60,714.70 L127.50,715.33 L128.40,714.50 L129.40,713.09 L130.40,710.50 L131.40,711.56 L132.40,711.80 L135.20,686.90 L136.50,695.60 L137.90,708.40 L138.77,710.45 L139.63,711.78 L140.50,713.80 L141.33,714.14 L142.17,714.88 L143.00,715.80 L143.97,715.98 L144.93,717.52 L145.90,717.90 L146.72,718.04 L147.54,718.84 L148.36,718.54 L149.18,719.49 L150.00,719.20 L150.87,719.82 L151.73,719.00 L152.60,719.80 L153.70,714.50 L154.60,719.20 L155.45,719.00 L156.30,719.99 L157.15,719.61 L158.00,719.80 L158.90,719.28 L159.80,717.48 L160.70,716.50 L161.70,717.64 L162.70,719.80 L163.55,720.13 L164.40,720.48 L165.25,720.05 L166.10,720.50 L167.30,668.20 L168.40,706.00 L169.30,716.00 L170.40,719.70 L172.00,720.40 L174.20,720.20 L175.30,717.00 L176.70,720.60 L180.00,721.10 L186.00,721.10 L191.00,721.00 L192.40,717.50 L194.60,720.50 L200.00,721.30 L210.00,721.30 L217.00,721.00 L218.80,716.10 L220.50,718.50 L222.40,719.40 L226.00,719.60 L230.00,719.10 L240.00,719.10 L245.00,719.00 L246.30,718.20 L248.00,719.00 L250.80,721.00 L255.00,722.40 L268.80,722.40 L270.00,721.60 L274.70,721.40 L295.70,721.40" fill="none" stroke="#4a4a4a" stroke-width="0.6" stroke-linejoin="round" />
<text transform="translate(35.05,536.60) scale(0.92,1)" font-size="5.0" text-anchor="middle" fill="#222" font-family="&quot;Liberation Sans&quot;, sans-serif" font-weight="normal" stroke="#222" stroke-width="0.18">0.53</text>
<text transform="translate(42.90,634.00) scale(0.92,1)" font-size="5.0" text-anchor="middle" fill="#222" font-family="&quot;Liberation Sans&quot;, sans-serif" font-weight="normal" stroke="#222" stroke-width="0.18">0.60</text>
<text transform="translate(45.50,647.50) scale(0.92,1)" font-size="5.0" text-anchor="middle" fill="#222" font-family="&quot;Liberation Sans&quot;, sans-serif" font-weight="normal" stroke="#222" stroke-width="0.18">0.99</text>
<text transform="translate(54.80,698.30) scale(0.92,1)" font-size="5.0" text-anchor="middle" fill="#222" font-family="&quot;Liberation Sans&quot;, sans-serif" font-weight="normal" stroke="#222" stroke-width="0.18">1.18</text>
<text transform="translate(68.10,704.00) scale(0.92,1)" font-size="5.0" text-anchor="middle" fill="#222" font-family="&quot;Liberation Sans&quot;, sans-serif" font-weight="normal" stroke="#222" stroke-width="0.18">2.58</text>
<text transform="translate(81.55,701.90) scale(0.92,1)" font-size="5.0" text-anchor="middle" fill="#222" font-family="&quot;Liberation Sans&quot;, sans-serif" font-weight="normal" stroke="#222" stroke-width="0.18">2.63</text>
<text transform="translate(85.70,691.10) scale(0.92,1)" font-size="5.0" text-anchor="middle" fill="#222" font-family="&quot;Liberation Sans&quot;, sans-serif" font-weight="normal" stroke="#222" stroke-width="0.18">3.30</text>
<text transform="translate(98.80,689.80) scale(0.92,1)" font-size="5.0" text-anchor="middle" fill="#222" font-family="&quot;Liberation Sans&quot;, sans-serif" font-weight="normal" stroke="#222" stroke-width="0.18">3.33</text>
<text transform="translate(99.35,667.90) scale(0.92,1)" font-size="5.0" text-anchor="middle" fill="#222" font-family="&quot;Liberation Sans&quot;, sans-serif" font-weight="normal" stroke="#222" stroke-width="0.18">3.79</text>
<text transform="translate(111.50,663.80) scale(0.92,1)" font-size="5.0" text-anchor="middle" fill="#222" font-family="&quot;Liberation Sans&quot;, sans-serif" font-weight="normal" stroke="#222" stroke-width="0.18">3.91</text>
<text transform="translate(121.15,701.50) scale(0.92,1)" font-size="5.0" text-anchor="middle" fill="#222" font-family="&quot;Liberation Sans&quot;, sans-serif" font-weight="normal" stroke="#222" stroke-width="0.18">4.31</text>
<text transform="translate(134.85,686.00) scale(0.92,1)" font-size="5.0" text-anchor="middle" fill="#222" font-family="&quot;Liberation Sans&quot;, sans-serif" font-weight="normal" stroke="#222" stroke-width="0.18">4.93</text>
<text transform="translate(147.50,686.30) scale(0.92,1)" font-size="5.0" text-anchor="middle" fill="#222" font-family="&quot;Liberation Sans&quot;, sans-serif" font-weight="normal" stroke="#222" stroke-width="0.18">4.96</text>
<text transform="translate(144.60,708.90) scale(0.92,1)" font-size="5.0" text-anchor="middle" fill="#222" font-family="&quot;Liberation Sans&quot;, sans-serif" font-weight="normal" stroke="#222" stroke-width="0.18">5.08</text>
<text transform="translate(157.30,713.20) scale(0.92,1)" font-size="5.0" text-anchor="middle" fill="#222" font-family="&quot;Liberation Sans&quot;, sans-serif" font-weight="normal" stroke="#222" stroke-width="0.18">5.76</text>
<text transform="translate(167.55,666.60) scale(0.92,1)" font-size="5.0" text-anchor="middle" fill="#222" font-family="&quot;Liberation Sans&quot;, sans-serif" font-weight="normal" stroke="#222" stroke-width="0.18">6.36</text>
<text transform="translate(176.85,716.10) scale(0.92,1)" font-size="5.0" text-anchor="middle" fill="#222" font-family="&quot;Liberation Sans&quot;, sans-serif" font-weight="normal" stroke="#222" stroke-width="0.18">6.72</text>
<text transform="translate(192.50,716.10) scale(0.92,1)" font-size="5.0" text-anchor="middle" fill="#222" font-family="&quot;Liberation Sans&quot;, sans-serif" font-weight="normal" stroke="#222" stroke-width="0.18">7.46</text>
<text transform="translate(205.10,717.70) scale(0.92,1)" font-size="5.0" text-anchor="middle" fill="#222" font-family="&quot;Liberation Sans&quot;, sans-serif" font-weight="normal" stroke="#222" stroke-width="0.18">7.53</text>
<text transform="translate(219.85,715.00) scale(0.92,1)" font-size="5.0" text-anchor="middle" fill="#222" font-family="&quot;Liberation Sans&quot;, sans-serif" font-weight="normal" stroke="#222" stroke-width="0.18">8.66</text>
<text transform="translate(232.35,718.40) scale(0.92,1)" font-size="5.0" text-anchor="middle" fill="#222" font-family="&quot;Liberation Sans&quot;, sans-serif" font-weight="normal" stroke="#222" stroke-width="0.18">8.83</text>
<text transform="translate(245.95,718.00) scale(0.92,1)" font-size="5.0" text-anchor="middle" fill="#222" font-family="&quot;Liberation Sans&quot;, sans-serif" font-weight="normal" stroke="#222" stroke-width="0.18">9.83</text>
<text transform="translate(258.55,719.50) scale(0.92,1)" font-size="5.0" text-anchor="middle" fill="#222" font-family="&quot;Liberation Sans&quot;, sans-serif" font-weight="normal" stroke="#222" stroke-width="0.18">9.94</text>
<text transform="translate(272.35,720.10) scale(0.92,1)" font-size="5.0" text-anchor="middle" fill="#222" font-family="&quot;Liberation Sans&quot;, sans-serif" font-weight="normal" stroke="#222" stroke-width="0.18">10.97</text>
<text transform="translate(287.55,720.10) scale(0.92,1)" font-size="5.0" text-anchor="middle" fill="#222" font-family="&quot;Liberation Sans&quot;, sans-serif" font-weight="normal" stroke="#222" stroke-width="0.18">11.52</text>
<line x1="354.80" y1="537.00" x2="354.80" y2="724.30" stroke="#666" stroke-width="0.6"/>
<line x1="352.20" y1="724.30" x2="354.80" y2="724.30" stroke="#555" stroke-width="0.42"/>
<text transform="translate(351.70,726.49) scale(0.86,1)" font-size="5.1" text-anchor="end" fill="#333" font-family="&quot;Liberation Sans&quot;, sans-serif" font-weight="normal" stroke="#333" stroke-width="0.18">0</text>
<line x1="352.90" y1="722.43" x2="354.80" y2="722.43" stroke="#555" stroke-width="0.42"/>
<line x1="352.90" y1="720.56" x2="354.80" y2="720.56" stroke="#555" stroke-width="0.42"/>
<line x1="352.90" y1="718.70" x2="354.80" y2="718.70" stroke="#555" stroke-width="0.42"/>
<line x1="352.90" y1="716.83" x2="354.80" y2="716.83" stroke="#555" stroke-width="0.42"/>
<line x1="352.20" y1="714.96" x2="354.80" y2="714.96" stroke="#555" stroke-width="0.42"/>
<text transform="translate(351.70,717.15) scale(0.86,1)" font-size="5.1" text-anchor="end" fill="#333" font-family="&quot;Liberation Sans&quot;, sans-serif" font-weight="normal" stroke="#333" stroke-width="0.18">5</text>
<line x1="352.90" y1="713.09" x2="354.80" y2="713.09" stroke="#555" stroke-width="0.42"/>
<line x1="352.90" y1="711.22" x2="354.80" y2="711.22" stroke="#555" stroke-width="0.42"/>
<line x1="352.90" y1="709.36" x2="354.80" y2="709.36" stroke="#555" stroke-width="0.42"/>
<line x1="352.90" y1="707.49" x2="354.80" y2="707.49" stroke="#555" stroke-width="0.42"/>
<line x1="352.20" y1="705.62" x2="354.80" y2="705.62" stroke="#555" stroke-width="0.42"/>
<text transform="translate(351.70,707.81) scale(0.86,1)" font-size="5.1" text-anchor="end" fill="#333" font-family="&quot;Liberation Sans&quot;, sans-serif" font-weight="normal" stroke="#333" stroke-width="0.18">10</text>
<line x1="352.90" y1="703.75" x2="354.80" y2="703.75" stroke="#555" stroke-width="0.42"/>
<line x1="352.90" y1="701.88" x2="354.80" y2="701.88" stroke="#555" stroke-width="0.42"/>
<line x1="352.90" y1="700.02" x2="354.80" y2="700.02" stroke="#555" stroke-width="0.42"/>
<line x1="352.90" y1="698.15" x2="354.80" y2="698.15" stroke="#555" stroke-width="0.42"/>
<line x1="352.20" y1="696.28" x2="354.80" y2="696.28" stroke="#555" stroke-width="0.42"/>
<text transform="translate(351.70,698.47) scale(0.86,1)" font-size="5.1" text-anchor="end" fill="#333" font-family="&quot;Liberation Sans&quot;, sans-serif" font-weight="normal" stroke="#333" stroke-width="0.18">15</text>
<line x1="352.90" y1="694.41" x2="354.80" y2="694.41" stroke="#555" stroke-width="0.42"/>
<line x1="352.90" y1="692.54" x2="354.80" y2="692.54" stroke="#555" stroke-width="0.42"/>
<line x1="352.90" y1="690.68" x2="354.80" y2="690.68" stroke="#555" stroke-width="0.42"/>
<line x1="352.90" y1="688.81" x2="354.80" y2="688.81" stroke="#555" stroke-width="0.42"/>
<line x1="352.20" y1="686.94" x2="354.80" y2="686.94" stroke="#555" stroke-width="0.42"/>
<text transform="translate(351.70,689.13) scale(0.86,1)" font-size="5.1" text-anchor="end" fill="#333" font-family="&quot;Liberation Sans&quot;, sans-serif" font-weight="normal" stroke="#333" stroke-width="0.18">20</text>
<line x1="352.90" y1="685.07" x2="354.80" y2="685.07" stroke="#555" stroke-width="0.42"/>
<line x1="352.90" y1="683.20" x2="354.80" y2="683.20" stroke="#555" stroke-width="0.42"/>
<line x1="352.90" y1="681.34" x2="354.80" y2="681.34" stroke="#555" stroke-width="0.42"/>
<line x1="352.90" y1="679.47" x2="354.80" y2="679.47" stroke="#555" stroke-width="0.42"/>
<line x1="352.20" y1="677.60" x2="354.80" y2="677.60" stroke="#555" stroke-width="0.42"/>
<text transform="translate(351.70,679.79) scale(0.86,1)" font-size="5.1" text-anchor="end" fill="#333" font-family="&quot;Liberation Sans&quot;, sans-serif" font-weight="normal" stroke="#333" stroke-width="0.18">25</text>
<line x1="352.90" y1="675.73" x2="354.80" y2="675.73" stroke="#555" stroke-width="0.42"/>
<line x1="352.90" y1="673.86" x2="354.80" y2="673.86" stroke="#555" stroke-width="0.42"/>
<line x1="352.90" y1="672.00" x2="354.80" y2="672.00" stroke="#555" stroke-width="0.42"/>
<line x1="352.90" y1="670.13" x2="354.80" y2="670.13" stroke="#555" stroke-width="0.42"/>
<line x1="352.20" y1="668.26" x2="354.80" y2="668.26" stroke="#555" stroke-width="0.42"/>
<text transform="translate(351.70,670.45) scale(0.86,1)" font-size="5.1" text-anchor="end" fill="#333" font-family="&quot;Liberation Sans&quot;, sans-serif" font-weight="normal" stroke="#333" stroke-width="0.18">30</text>
<line x1="352.90" y1="666.39" x2="354.80" y2="666.39" stroke="#555" stroke-width="0.42"/>
<line x1="352.90" y1="664.52" x2="354.80" y2="664.52" stroke="#555" stroke-width="0.42"/>
<line x1="352.90" y1="662.66" x2="354.80" y2="662.66" stroke="#555" stroke-width="0.42"/>
<line x1="352.90" y1="660.79" x2="354.80" y2="660.79" stroke="#555" stroke-width="0.42"/>
<line x1="352.20" y1="658.92" x2="354.80" y2="658.92" stroke="#555" stroke-width="0.42"/>
<text transform="translate(351.70,661.11) scale(0.86,1)" font-size="5.1" text-anchor="end" fill="#333" font-family="&quot;Liberation Sans&quot;, sans-serif" font-weight="normal" stroke="#333" stroke-width="0.18">35</text>
<line x1="352.90" y1="657.05" x2="354.80" y2="657.05" stroke="#555" stroke-width="0.42"/>
<line x1="352.90" y1="655.18" x2="354.80" y2="655.18" stroke="#555" stroke-width="0.42"/>
<line x1="352.90" y1="653.32" x2="354.80" y2="653.32" stroke="#555" stroke-width="0.42"/>
<line x1="352.90" y1="651.45" x2="354.80" y2="651.45" stroke="#555" stroke-width="0.42"/>
<line x1="352.20" y1="649.58" x2="354.80" y2="649.58" stroke="#555" stroke-width="0.42"/>
<text transform="translate(351.70,651.77) scale(0.86,1)" font-size="5.1" text-anchor="end" fill="#333" font-family="&quot;Liberation Sans&quot;, sans-serif" font-weight="normal" stroke="#333" stroke-width="0.18">40</text>
<line x1="352.90" y1="647.71" x2="354.80" y2="647.71" stroke="#555" stroke-width="0.42"/>
<line x1="352.90" y1="645.84" x2="354.80" y2="645.84" stroke="#555" stroke-width="0.42"/>
<line x1="352.90" y1="643.98" x2="354.80" y2="643.98" stroke="#555" stroke-width="0.42"/>
<line x1="352.90" y1="642.11" x2="354.80" y2="642.11" stroke="#555" stroke-width="0.42"/>
<line x1="352.20" y1="640.24" x2="354.80" y2="640.24" stroke="#555" stroke-width="0.42"/>
<text transform="translate(351.70,642.43) scale(0.86,1)" font-size="5.1" text-anchor="end" fill="#333" font-family="&quot;Liberation Sans&quot;, sans-serif" font-weight="normal" stroke="#333" stroke-width="0.18">45</text>
<line x1="352.90" y1="638.37" x2="354.80" y2="638.37" stroke="#555" stroke-width="0.42"/>
<line x1="352.90" y1="636.50" x2="354.80" y2="636.50" stroke="#555" stroke-width="0.42"/>
<line x1="352.90" y1="634.64" x2="354.80" y2="634.64" stroke="#555" stroke-width="0.42"/>
<line x1="352.90" y1="632.77" x2="354.80" y2="632.77" stroke="#555" stroke-width="0.42"/>
<line x1="352.20" y1="630.90" x2="354.80" y2="630.90" stroke="#555" stroke-width="0.42"/>
<text transform="translate(351.70,633.09) scale(0.86,1)" font-size="5.1" text-anchor="end" fill="#333" font-family="&quot;Liberation Sans&quot;, sans-serif" font-weight="normal" stroke="#333" stroke-width="0.18">50</text>
<line x1="352.90" y1="629.03" x2="354.80" y2="629.03" stroke="#555" stroke-width="0.42"/>
<line x1="352.90" y1="627.16" x2="354.80" y2="627.16" stroke="#555" stroke-width="0.42"/>
<line x1="352.90" y1="625.30" x2="354.80" y2="625.30" stroke="#555" stroke-width="0.42"/>
<line x1="352.90" y1="623.43" x2="354.80" y2="623.43" stroke="#555" stroke-width="0.42"/>
<line x1="352.20" y1="621.56" x2="354.80" y2="621.56" stroke="#555" stroke-width="0.42"/>
<text transform="translate(351.70,623.75) scale(0.86,1)" font-size="5.1" text-anchor="end" fill="#333" font-family="&quot;Liberation Sans&quot;, sans-serif" font-weight="normal" stroke="#333" stroke-width="0.18">55</text>
<line x1="352.90" y1="619.69" x2="354.80" y2="619.69" stroke="#555" stroke-width="0.42"/>
<line x1="352.90" y1="617.82" x2="354.80" y2="617.82" stroke="#555" stroke-width="0.42"/>
<line x1="352.90" y1="615.96" x2="354.80" y2="615.96" stroke="#555" stroke-width="0.42"/>
<line x1="352.90" y1="614.09" x2="354.80" y2="614.09" stroke="#555" stroke-width="0.42"/>
<line x1="352.20" y1="612.22" x2="354.80" y2="612.22" stroke="#555" stroke-width="0.42"/>
<text transform="translate(351.70,614.41) scale(0.86,1)" font-size="5.1" text-anchor="end" fill="#333" font-family="&quot;Liberation Sans&quot;, sans-serif" font-weight="normal" stroke="#333" stroke-width="0.18">60</text>
<line x1="352.90" y1="610.35" x2="354.80" y2="610.35" stroke="#555" stroke-width="0.42"/>
<line x1="352.90" y1="608.48" x2="354.80" y2="608.48" stroke="#555" stroke-width="0.42"/>
<line x1="352.90" y1="606.62" x2="354.80" y2="606.62" stroke="#555" stroke-width="0.42"/>
<line x1="352.90" y1="604.75" x2="354.80" y2="604.75" stroke="#555" stroke-width="0.42"/>
<line x1="352.20" y1="602.88" x2="354.80" y2="602.88" stroke="#555" stroke-width="0.42"/>
<text transform="translate(351.70,605.07) scale(0.86,1)" font-size="5.1" text-anchor="end" fill="#333" font-family="&quot;Liberation Sans&quot;, sans-serif" font-weight="normal" stroke="#333" stroke-width="0.18">65</text>
<line x1="352.90" y1="601.01" x2="354.80" y2="601.01" stroke="#555" stroke-width="0.42"/>
<line x1="352.90" y1="599.14" x2="354.80" y2="599.14" stroke="#555" stroke-width="0.42"/>
<line x1="352.90" y1="597.28" x2="354.80" y2="597.28" stroke="#555" stroke-width="0.42"/>
<line x1="352.90" y1="595.41" x2="354.80" y2="595.41" stroke="#555" stroke-width="0.42"/>
<line x1="352.20" y1="593.54" x2="354.80" y2="593.54" stroke="#555" stroke-width="0.42"/>
<text transform="translate(351.70,595.73) scale(0.86,1)" font-size="5.1" text-anchor="end" fill="#333" font-family="&quot;Liberation Sans&quot;, sans-serif" font-weight="normal" stroke="#333" stroke-width="0.18">70</text>
<line x1="352.90" y1="591.67" x2="354.80" y2="591.67" stroke="#555" stroke-width="0.42"/>
<line x1="352.90" y1="589.80" x2="354.80" y2="589.80" stroke="#555" stroke-width="0.42"/>
<line x1="352.90" y1="587.94" x2="354.80" y2="587.94" stroke="#555" stroke-width="0.42"/>
<line x1="352.90" y1="586.07" x2="354.80" y2="586.07" stroke="#555" stroke-width="0.42"/>
<line x1="352.20" y1="584.20" x2="354.80" y2="584.20" stroke="#555" stroke-width="0.42"/>
<text transform="translate(351.70,586.39) scale(0.86,1)" font-size="5.1" text-anchor="end" fill="#333" font-family="&quot;Liberation Sans&quot;, sans-serif" font-weight="normal" stroke="#333" stroke-width="0.18">75</text>
<line x1="352.90" y1="582.33" x2="354.80" y2="582.33" stroke="#555" stroke-width="0.42"/>
<line x1="352.90" y1="580.46" x2="354.80" y2="580.46" stroke="#555" stroke-width="0.42"/>
<line x1="352.90" y1="578.60" x2="354.80" y2="578.60" stroke="#555" stroke-width="0.42"/>
<line x1="352.90" y1="576.73" x2="354.80" y2="576.73" stroke="#555" stroke-width="0.42"/>
<line x1="352.20" y1="574.86" x2="354.80" y2="574.86" stroke="#555" stroke-width="0.42"/>
<text transform="translate(351.70,577.05) scale(0.86,1)" font-size="5.1" text-anchor="end" fill="#333" font-family="&quot;Liberation Sans&quot;, sans-serif" font-weight="normal" stroke="#333" stroke-width="0.18">80</text>
<line x1="352.90" y1="572.99" x2="354.80" y2="572.99" stroke="#555" stroke-width="0.42"/>
<line x1="352.90" y1="571.12" x2="354.80" y2="571.12" stroke="#555" stroke-width="0.42"/>
<line x1="352.90" y1="569.26" x2="354.80" y2="569.26" stroke="#555" stroke-width="0.42"/>
<line x1="352.90" y1="567.39" x2="354.80" y2="567.39" stroke="#555" stroke-width="0.42"/>
<line x1="352.20" y1="565.52" x2="354.80" y2="565.52" stroke="#555" stroke-width="0.42"/>
<text transform="translate(351.70,567.71) scale(0.86,1)" font-size="5.1" text-anchor="end" fill="#333" font-family="&quot;Liberation Sans&quot;, sans-serif" font-weight="normal" stroke="#333" stroke-width="0.18">85</text>
<line x1="352.90" y1="563.65" x2="354.80" y2="563.65" stroke="#555" stroke-width="0.42"/>
<line x1="352.90" y1="561.78" x2="354.80" y2="561.78" stroke="#555" stroke-width="0.42"/>
<line x1="352.90" y1="559.92" x2="354.80" y2="559.92" stroke="#555" stroke-width="0.42"/>
<line x1="352.90" y1="558.05" x2="354.80" y2="558.05" stroke="#555" stroke-width="0.42"/>
<line x1="352.20" y1="556.18" x2="354.80" y2="556.18" stroke="#555" stroke-width="0.42"/>
<text transform="translate(351.70,558.37) scale(0.86,1)" font-size="5.1" text-anchor="end" fill="#333" font-family="&quot;Liberation Sans&quot;, sans-serif" font-weight="normal" stroke="#333" stroke-width="0.18">90</text>
<line x1="352.90" y1="554.31" x2="354.80" y2="554.31" stroke="#555" stroke-width="0.42"/>
<line x1="352.90" y1="552.44" x2="354.80" y2="552.44" stroke="#555" stroke-width="0.42"/>
<line x1="352.90" y1="550.58" x2="354.80" y2="550.58" stroke="#555" stroke-width="0.42"/>
<line x1="352.90" y1="548.71" x2="354.80" y2="548.71" stroke="#555" stroke-width="0.42"/>
<line x1="352.20" y1="546.84" x2="354.80" y2="546.84" stroke="#555" stroke-width="0.42"/>
<text transform="translate(351.70,549.03) scale(0.86,1)" font-size="5.1" text-anchor="end" fill="#333" font-family="&quot;Liberation Sans&quot;, sans-serif" font-weight="normal" stroke="#333" stroke-width="0.18">95</text>
<line x1="352.90" y1="544.97" x2="354.80" y2="544.97" stroke="#555" stroke-width="0.42"/>
<line x1="352.90" y1="543.10" x2="354.80" y2="543.10" stroke="#555" stroke-width="0.42"/>
<line x1="352.90" y1="541.24" x2="354.80" y2="541.24" stroke="#555" stroke-width="0.42"/>
<line x1="352.90" y1="539.37" x2="354.80" y2="539.37" stroke="#555" stroke-width="0.42"/>
<line x1="352.20" y1="537.50" x2="354.80" y2="537.50" stroke="#555" stroke-width="0.42"/>
<text transform="translate(351.70,539.69) scale(0.86,1)" font-size="5.1" text-anchor="end" fill="#333" font-family="&quot;Liberation Sans&quot;, sans-serif" font-weight="normal" stroke="#333" stroke-width="0.18">100</text>
<line x1="354.80" y1="724.30" x2="626.20" y2="724.30" stroke="#666" stroke-width="0.6"/>
<line x1="354.80" y1="724.30" x2="354.80" y2="726.90" stroke="#555" stroke-width="0.45"/>
<text x="354.80" y="731.36" font-size="4.6" text-anchor="middle" fill="#333" font-family="&quot;Liberation Sans&quot;, sans-serif" font-weight="normal" stroke="#333" stroke-width="0.18" >0</text>
<line x1="359.31" y1="724.30" x2="359.31" y2="725.90" stroke="#555" stroke-width="0.45"/>
<line x1="363.83" y1="724.30" x2="363.83" y2="725.90" stroke="#555" stroke-width="0.45"/>
<line x1="368.35" y1="724.30" x2="368.35" y2="725.90" stroke="#555" stroke-width="0.45"/>
<line x1="372.86" y1="724.30" x2="372.86" y2="725.90" stroke="#555" stroke-width="0.45"/>
<line x1="377.38" y1="724.30" x2="377.38" y2="726.90" stroke="#555" stroke-width="0.45"/>
<text x="377.38" y="731.36" font-size="4.6" text-anchor="middle" fill="#333" font-family="&quot;Liberation Sans&quot;, sans-serif" font-weight="normal" stroke="#333" stroke-width="0.18" >1</text>
<line x1="381.89" y1="724.30" x2="381.89" y2="725.90" stroke="#555" stroke-width="0.45"/>
<line x1="386.41" y1="724.30" x2="386.41" y2="725.90" stroke="#555" stroke-width="0.45"/>
<line x1="390.92" y1="724.30" x2="390.92" y2="725.90" stroke="#555" stroke-width="0.45"/>
<line x1="395.44" y1="724.30" x2="395.44" y2="725.90" stroke="#555" stroke-width="0.45"/>
<line x1="399.95" y1="724.30" x2="399.95" y2="726.90" stroke="#555" stroke-width="0.45"/>
<text x="399.95" y="731.36" font-size="4.6" text-anchor="middle" fill="#333" font-family="&quot;Liberation Sans&quot;, sans-serif" font-weight="normal" stroke="#333" stroke-width="0.18" >2</text>
<line x1="404.47" y1="724.30" x2="404.47" y2="725.90" stroke="#555" stroke-width="0.45"/>
<line x1="408.98" y1="724.30" x2="408.98" y2="725.90" stroke="#555" stroke-width="0.45"/>
<line x1="413.50" y1="724.30" x2="413.50" y2="725.90" stroke="#555" stroke-width="0.45"/>
<line x1="418.01" y1="724.30" x2="418.01" y2="725.90" stroke="#555" stroke-width="0.45"/>
<line x1="422.53" y1="724.30" x2="422.53" y2="726.90" stroke="#555" stroke-width="0.45"/>
<text x="422.53" y="731.36" font-size="4.6" text-anchor="middle" fill="#333" font-family="&quot;Liberation Sans&quot;, sans-serif" font-weight="normal" stroke="#333" stroke-width="0.18" >3</text>
<line x1="427.04" y1="724.30" x2="427.04" y2="725.90" stroke="#555" stroke-width="0.45"/>
<line x1="431.56" y1="724.30" x2="431.56" y2="725.90" stroke="#555" stroke-width="0.45"/>
<line x1="436.07" y1="724.30" x2="436.07" y2="725.90" stroke="#555" stroke-width="0.45"/>
<line x1="440.59" y1="724.30" x2="440.59" y2="725.90" stroke="#555" stroke-width="0.45"/>
<line x1="445.10" y1="724.30" x2="445.10" y2="726.90" stroke="#555" stroke-width="0.45"/>
<text x="445.10" y="731.36" font-size="4.6" text-anchor="middle" fill="#333" font-family="&quot;Liberation Sans&quot;, sans-serif" font-weight="normal" stroke="#333" stroke-width="0.18" >4</text>
<line x1="449.62" y1="724.30" x2="449.62" y2="725.90" stroke="#555" stroke-width="0.45"/>
<line x1="454.13" y1="724.30" x2="454.13" y2="725.90" stroke="#555" stroke-width="0.45"/>
<line x1="458.64" y1="724.30" x2="458.64" y2="725.90" stroke="#555" stroke-width="0.45"/>
<line x1="463.16" y1="724.30" x2="463.16" y2="725.90" stroke="#555" stroke-width="0.45"/>
<line x1="467.68" y1="724.30" x2="467.68" y2="726.90" stroke="#555" stroke-width="0.45"/>
<text x="467.68" y="731.36" font-size="4.6" text-anchor="middle" fill="#333" font-family="&quot;Liberation Sans&quot;, sans-serif" font-weight="normal" stroke="#333" stroke-width="0.18" >5</text>
<line x1="472.19" y1="724.30" x2="472.19" y2="725.90" stroke="#555" stroke-width="0.45"/>
<line x1="476.71" y1="724.30" x2="476.71" y2="725.90" stroke="#555" stroke-width="0.45"/>
<line x1="481.22" y1="724.30" x2="481.22" y2="725.90" stroke="#555" stroke-width="0.45"/>
<line x1="485.74" y1="724.30" x2="485.74" y2="725.90" stroke="#555" stroke-width="0.45"/>
<line x1="490.25" y1="724.30" x2="490.25" y2="726.90" stroke="#555" stroke-width="0.45"/>
<text x="490.25" y="731.36" font-size="4.6" text-anchor="middle" fill="#333" font-family="&quot;Liberation Sans&quot;, sans-serif" font-weight="normal" stroke="#333" stroke-width="0.18" >6</text>
<line x1="494.76" y1="724.30" x2="494.76" y2="725.90" stroke="#555" stroke-width="0.45"/>
<line x1="499.28" y1="724.30" x2="499.28" y2="725.90" stroke="#555" stroke-width="0.45"/>
<line x1="503.80" y1="724.30" x2="503.80" y2="725.90" stroke="#555" stroke-width="0.45"/>
<line x1="508.31" y1="724.30" x2="508.31" y2="725.90" stroke="#555" stroke-width="0.45"/>
<line x1="512.83" y1="724.30" x2="512.83" y2="726.90" stroke="#555" stroke-width="0.45"/>
<text x="512.83" y="731.36" font-size="4.6" text-anchor="middle" fill="#333" font-family="&quot;Liberation Sans&quot;, sans-serif" font-weight="normal" stroke="#333" stroke-width="0.18" >7</text>
<line x1="517.34" y1="724.30" x2="517.34" y2="725.90" stroke="#555" stroke-width="0.45"/>
<line x1="521.86" y1="724.30" x2="521.86" y2="725.90" stroke="#555" stroke-width="0.45"/>
<line x1="526.37" y1="724.30" x2="526.37" y2="725.90" stroke="#555" stroke-width="0.45"/>
<line x1="530.88" y1="724.30" x2="530.88" y2="725.90" stroke="#555" stroke-width="0.45"/>
<line x1="535.40" y1="724.30" x2="535.40" y2="726.90" stroke="#555" stroke-width="0.45"/>
<text x="535.40" y="731.36" font-size="4.6" text-anchor="middle" fill="#333" font-family="&quot;Liberation Sans&quot;, sans-serif" font-weight="normal" stroke="#333" stroke-width="0.18" >8</text>
<line x1="539.92" y1="724.30" x2="539.92" y2="725.90" stroke="#555" stroke-width="0.45"/>
<line x1="544.43" y1="724.30" x2="544.43" y2="725.90" stroke="#555" stroke-width="0.45"/>
<line x1="548.95" y1="724.30" x2="548.95" y2="725.90" stroke="#555" stroke-width="0.45"/>
<line x1="553.46" y1="724.30" x2="553.46" y2="725.90" stroke="#555" stroke-width="0.45"/>
<line x1="557.98" y1="724.30" x2="557.98" y2="726.90" stroke="#555" stroke-width="0.45"/>
<text x="557.98" y="731.36" font-size="4.6" text-anchor="middle" fill="#333" font-family="&quot;Liberation Sans&quot;, sans-serif" font-weight="normal" stroke="#333" stroke-width="0.18" >9</text>
<line x1="562.49" y1="724.30" x2="562.49" y2="725.90" stroke="#555" stroke-width="0.45"/>
<line x1="567.00" y1="724.30" x2="567.00" y2="725.90" stroke="#555" stroke-width="0.45"/>
<line x1="571.52" y1="724.30" x2="571.52" y2="725.90" stroke="#555" stroke-width="0.45"/>
<line x1="576.04" y1="724.30" x2="576.04" y2="725.90" stroke="#555" stroke-width="0.45"/>
<line x1="580.55" y1="724.30" x2="580.55" y2="726.90" stroke="#555" stroke-width="0.45"/>
<text x="580.55" y="731.36" font-size="4.6" text-anchor="middle" fill="#333" font-family="&quot;Liberation Sans&quot;, sans-serif" font-weight="normal" stroke="#333" stroke-width="0.18" >10</text>
<line x1="585.07" y1="724.30" x2="585.07" y2="725.90" stroke="#555" stroke-width="0.45"/>
<line x1="589.58" y1="724.30" x2="589.58" y2="725.90" stroke="#555" stroke-width="0.45"/>
<line x1="594.10" y1="724.30" x2="594.10" y2="725.90" stroke="#555" stroke-width="0.45"/>
<line x1="598.61" y1="724.30" x2="598.61" y2="725.90" stroke="#555" stroke-width="0.45"/>
<line x1="603.12" y1="724.30" x2="603.12" y2="726.90" stroke="#555" stroke-width="0.45"/>
<text x="603.12" y="731.36" font-size="4.6" text-anchor="middle" fill="#333" font-family="&quot;Liberation Sans&quot;, sans-serif" font-weight="normal" stroke="#333" stroke-width="0.18" >11</text>
<line x1="607.64" y1="724.30" x2="607.64" y2="725.90" stroke="#555" stroke-width="0.45"/>
<line x1="612.15" y1="724.30" x2="612.15" y2="725.90" stroke="#555" stroke-width="0.45"/>
<line x1="616.67" y1="724.30" x2="616.67" y2="725.90" stroke="#555" stroke-width="0.45"/>
<line x1="621.19" y1="724.30" x2="621.19" y2="725.90" stroke="#555" stroke-width="0.45"/>
<line x1="625.70" y1="724.30" x2="625.70" y2="726.90" stroke="#555" stroke-width="0.45"/>
<text x="625.70" y="731.36" font-size="4.6" text-anchor="middle" fill="#333" font-family="&quot;Liberation Sans&quot;, sans-serif" font-weight="normal" stroke="#333" stroke-width="0.18" >12</text>
<text x="479.40" y="737.56" font-size="4.6" text-anchor="start" fill="#333" font-family="&quot;Liberation Sans&quot;, sans-serif" font-weight="normal" stroke="#333" stroke-width="0.18" >Time (min)</text>
<text x="336.00" y="530.56" font-size="4.6" text-anchor="start" fill="#333" font-family="&quot;Liberation Sans&quot;, sans-serif" font-weight="normal" stroke="#333" stroke-width="0.18" >RT:</text>
<text x="345.20" y="530.63" font-size="4.8" text-anchor="start" fill="#5a5aa8" font-family="&quot;Liberation Sans&quot;, sans-serif" font-weight="normal" stroke="#5a5aa8" stroke-width="0.18" >0.00 - 12.01</text>
<text x="0.00" y="0.00" font-size="4.5" text-anchor="middle" fill="#333" font-family="&quot;Liberation Sans&quot;, sans-serif" font-weight="normal" stroke="#333" stroke-width="0.18" transform="translate(342.10,631.00) rotate(-90)">Relative Abundance</text>
<text transform="translate(626.20,536.26) scale(0.93,1)" font-size="4.9" text-anchor="start" fill="#383838" font-family="&quot;Liberation Sans&quot;, sans-serif" font-weight="normal" stroke="#383838" stroke-width="0.18">NL:</text>
<text transform="translate(626.20,541.46) scale(0.93,1)" font-size="4.9" text-anchor="start" fill="#383838" font-family="&quot;Liberation Sans&quot;, sans-serif" font-weight="normal" stroke="#383838" stroke-width="0.18">6.91E9</text>
<text transform="translate(626.20,546.66) scale(0.93,1)" font-size="4.9" text-anchor="start" fill="#383838" font-family="&quot;Liberation Sans&quot;, sans-serif" font-weight="normal" stroke="#383838" stroke-width="0.18">TIC F: FTMS + p</text>
<text transform="translate(626.20,551.86) scale(0.93,1)" font-size="4.9" text-anchor="start" fill="#383838" font-family="&quot;Liberation Sans&quot;, sans-serif" font-weight="normal" stroke="#383838" stroke-width="0.18">ESI sid=5.00  Full</text>
<text transform="translate(626.20,557.06) scale(0.93,1)" font-size="4.9" text-anchor="start" fill="#383838" font-family="&quot;Liberation Sans&quot;, sans-serif" font-weight="normal" stroke="#383838" stroke-width="0.18">ms</text>
<text transform="translate(626.20,562.26) scale(0.93,1)" font-size="4.9" text-anchor="start" fill="#383838" font-family="&quot;Liberation Sans&quot;, sans-serif" font-weight="normal" stroke="#383838" stroke-width="0.18">[70.0000-</text>
<text transform="translate(626.20,567.46) scale(0.93,1)" font-size="4.9" text-anchor="start" fill="#383838" font-family="&quot;Liberation Sans&quot;, sans-serif" font-weight="normal" stroke="#383838" stroke-width="0.18">1050.0000]  MS</text>
<text transform="translate(626.20,572.66) scale(0.93,1)" font-size="4.9" text-anchor="start" fill="#383838" font-family="&quot;Liberation Sans&quot;, sans-serif" font-weight="normal" stroke="#383838" stroke-width="0.18">F_N201</text>
<line x1="395.40" y1="686.90" x2="403.50" y2="686.90" stroke="#8fcf8f" stroke-width="0.5"/>
<line x1="416.20" y1="680.90" x2="433.00" y2="680.90" stroke="#8fcf8f" stroke-width="0.5"/>
<line x1="466.00" y1="711.50" x2="478.00" y2="711.50" stroke="#8fcf8f" stroke-width="0.5"/>
<path d="M355.00,723.00 L363.70,723.00 L364.30,690.00 L364.90,654.10 L365.50,700.00 L366.00,690.00 L366.80,600.00 L367.60,537.50 L368.40,580.00 L369.00,650.00 L370.90,690.30 L371.80,640.00 L372.60,588.00 L373.30,630.00 L374.00,600.00 L374.60,640.00 L375.30,605.00 L376.60,569.50 L377.30,605.00 L377.90,590.00 L378.60,615.00 L379.30,600.00 L380.20,639.70 L381.50,647.00 L382.20,663.80 L383.40,650.50 L384.70,660.00 L385.90,656.50 L387.10,673.40 L388.30,670.00 L389.50,680.70 L390.60,696.26 L391.78,692.09 L393.06,697.66 L394.16,692.00 L395.18,694.66 L396.46,690.30 L397.28,697.91 L398.61,692.05 L399.61,694.54 L400.98,690.94 L402.27,695.86 L403.34,689.93 L404.43,692.37 L405.75,687.66 L406.68,697.29 L407.93,689.85 L409.17,693.50 L410.46,687.13 L411.79,694.02 L412.87,687.47 L413.90,692.06 L415.13,690.79 L416.22,696.60 L417.60,701.70 L418.90,708.40 L420.30,696.30 L421.60,690.30 L423.00,684.90 L424.30,681.50 L425.70,685.60 L427.00,687.00 L428.30,692.30 L429.35,694.57 L430.40,697.00 L431.40,698.80 L432.40,700.40 L433.20,703.50 L434.05,707.13 L434.90,709.40 L436.40,713.50 L437.50,715.40 L439.00,716.20 L440.00,715.88 L441.00,715.68 L442.00,715.40 L443.00,715.75 L444.00,715.62 L445.00,716.20 L446.00,715.86 L447.00,715.50 L448.20,715.98 L449.40,716.20 L450.40,716.56 L451.40,715.93 L452.40,716.40 L453.27,717.37 L454.13,718.32 L455.00,719.90 L455.85,719.66 L456.70,718.99 L457.55,717.79 L458.40,717.70 L459.40,716.92 L460.40,715.63 L461.40,713.90 L462.45,714.40 L463.50,714.60 L464.53,713.85 L465.57,712.52 L466.60,712.00 L468.10,716.20 L469.05,716.27 L470.00,717.33 L470.95,717.41 L471.90,718.40 L472.78,718.39 L473.66,718.74 L474.54,718.83 L475.42,719.56 L476.30,719.90 L477.23,719.99 L478.15,720.54 L479.07,720.37 L480.00,720.50 L480.80,720.70 L481.60,720.62 L482.40,720.84 L483.20,720.70 L484.00,720.80 L484.80,720.78 L485.60,721.70 L486.40,721.90 L487.20,721.94 L488.00,721.80 L489.00,721.36 L490.00,720.50 L490.85,718.87 L491.70,717.60 L493.00,718.50 L494.00,718.73 L495.00,719.50 L495.83,719.69 L496.67,719.87 L497.50,720.70 L499.00,700.00 L499.90,692.20 L501.20,705.00 L502.30,718.40 L505.00,720.40 L507.70,719.10 L510.40,720.90 L520.00,721.00 L540.00,721.10 L560.00,721.00 L578.00,720.70 L580.70,722.30 L598.80,722.30 L625.70,722.50" fill="none" stroke="#4a4a4a" stroke-width="0.6" stroke-linejoin="round" />
<text transform="translate(367.70,536.70) scale(0.92,1)" font-size="5.0" text-anchor="middle" fill="#222" font-family="&quot;Liberation Sans&quot;, sans-serif" font-weight="normal" stroke="#222" stroke-width="0.18">0.59</text>
<text transform="translate(377.00,568.00) scale(0.92,1)" font-size="5.0" text-anchor="middle" fill="#222" font-family="&quot;Liberation Sans&quot;, sans-serif" font-weight="normal" stroke="#222" stroke-width="0.18">1.00</text>
<text transform="translate(384.50,591.00) scale(0.92,1)" font-size="5.0" text-anchor="middle" fill="#222" font-family="&quot;Liberation Sans&quot;, sans-serif" font-weight="normal" stroke="#222" stroke-width="0.18">1.04</text>
<text transform="translate(385.00,610.90) scale(0.92,1)" font-size="5.0" text-anchor="middle" fill="#222" font-family="&quot;Liberation Sans&quot;, sans-serif" font-weight="normal" stroke="#222" stroke-width="0.18">1.07</text>
<text transform="translate(387.45,646.80) scale(0.92,1)" font-size="5.0" text-anchor="middle" fill="#222" font-family="&quot;Liberation Sans&quot;, sans-serif" font-weight="normal" stroke="#222" stroke-width="0.18">1.17</text>
<text transform="translate(389.85,657.60) scale(0.92,1)" font-size="5.0" text-anchor="middle" fill="#222" font-family="&quot;Liberation Sans&quot;, sans-serif" font-weight="normal" stroke="#222" stroke-width="0.18">1.29</text>
<text transform="translate(390.90,670.90) scale(0.92,1)" font-size="5.0" text-anchor="middle" fill="#222" font-family="&quot;Liberation Sans&quot;, sans-serif" font-weight="normal" stroke="#222" stroke-width="0.18">1.39</text>
<text transform="translate(392.85,676.20) scale(0.92,1)" font-size="5.0" text-anchor="middle" fill="#222" font-family="&quot;Liberation Sans&quot;, sans-serif" font-weight="normal" stroke="#222" stroke-width="0.18">1.44</text>
<text transform="translate(395.25,682.20) scale(0.92,1)" font-size="5.0" text-anchor="middle" fill="#222" font-family="&quot;Liberation Sans&quot;, sans-serif" font-weight="normal" stroke="#222" stroke-width="0.18">1.52</text>
<text transform="translate(407.50,686.70) scale(0.92,1)" font-size="5.0" text-anchor="middle" fill="#222" font-family="&quot;Liberation Sans&quot;, sans-serif" font-weight="normal" stroke="#222" stroke-width="0.18">1.85</text>
<text transform="translate(411.85,679.70) scale(0.92,1)" font-size="5.0" text-anchor="middle" fill="#222" font-family="&quot;Liberation Sans&quot;, sans-serif" font-weight="normal" stroke="#222" stroke-width="0.18">3.08</text>
<text transform="translate(425.00,679.00) scale(0.92,1)" font-size="5.0" text-anchor="middle" fill="#222" font-family="&quot;Liberation Sans&quot;, sans-serif" font-weight="normal" stroke="#222" stroke-width="0.18">3.11</text>
<text transform="translate(437.30,681.30) scale(0.92,1)" font-size="5.0" text-anchor="middle" fill="#222" font-family="&quot;Liberation Sans&quot;, sans-serif" font-weight="normal" stroke="#222" stroke-width="0.18">3.16</text>
<text transform="translate(433.60,689.40) scale(0.92,1)" font-size="5.0" text-anchor="middle" fill="#222" font-family="&quot;Liberation Sans&quot;, sans-serif" font-weight="normal" stroke="#222" stroke-width="0.18">3.24</text>
<text transform="translate(436.30,694.10) scale(0.92,1)" font-size="5.0" text-anchor="middle" fill="#222" font-family="&quot;Liberation Sans&quot;, sans-serif" font-weight="normal" stroke="#222" stroke-width="0.18">3.35</text>
<text transform="translate(440.00,701.50) scale(0.92,1)" font-size="5.0" text-anchor="middle" fill="#222" font-family="&quot;Liberation Sans&quot;, sans-serif" font-weight="normal" stroke="#222" stroke-width="0.18">3.52</text>
<text transform="translate(441.45,708.50) scale(0.92,1)" font-size="5.0" text-anchor="middle" fill="#222" font-family="&quot;Liberation Sans&quot;, sans-serif" font-weight="normal" stroke="#222" stroke-width="0.18">3.57</text>
<text transform="translate(444.15,713.60) scale(0.92,1)" font-size="5.0" text-anchor="middle" fill="#222" font-family="&quot;Liberation Sans&quot;, sans-serif" font-weight="normal" stroke="#222" stroke-width="0.18">3.71</text>
<text transform="translate(466.35,710.00) scale(0.92,1)" font-size="5.0" text-anchor="middle" fill="#222" font-family="&quot;Liberation Sans&quot;, sans-serif" font-weight="normal" stroke="#222" stroke-width="0.18">4.94</text>
<text transform="translate(480.10,711.10) scale(0.92,1)" font-size="5.0" text-anchor="middle" fill="#222" font-family="&quot;Liberation Sans&quot;, sans-serif" font-weight="normal" stroke="#222" stroke-width="0.18">4.97</text>
<text transform="translate(476.70,716.20) scale(0.92,1)" font-size="5.0" text-anchor="middle" fill="#222" font-family="&quot;Liberation Sans&quot;, sans-serif" font-weight="normal" stroke="#222" stroke-width="0.18">5.13</text>
<text transform="translate(491.50,716.20) scale(0.92,1)" font-size="5.0" text-anchor="middle" fill="#222" font-family="&quot;Liberation Sans&quot;, sans-serif" font-weight="normal" stroke="#222" stroke-width="0.18">6.12</text>
<text transform="translate(499.80,690.60) scale(0.92,1)" font-size="5.0" text-anchor="middle" fill="#222" font-family="&quot;Liberation Sans&quot;, sans-serif" font-weight="normal" stroke="#222" stroke-width="0.18">6.43</text>
<text transform="translate(509.40,718.20) scale(0.92,1)" font-size="5.0" text-anchor="middle" fill="#222" font-family="&quot;Liberation Sans&quot;, sans-serif" font-weight="normal" stroke="#222" stroke-width="0.18">6.75</text>
<text transform="translate(522.50,719.20) scale(0.92,1)" font-size="5.0" text-anchor="middle" fill="#222" font-family="&quot;Liberation Sans&quot;, sans-serif" font-weight="normal" stroke="#222" stroke-width="0.18">6.84</text>
<text transform="translate(544.70,719.20) scale(0.92,1)" font-size="5.0" text-anchor="middle" fill="#222" font-family="&quot;Liberation Sans&quot;, sans-serif" font-weight="normal" stroke="#222" stroke-width="0.18">8.67</text>
<text transform="translate(557.30,719.30) scale(0.92,1)" font-size="5.0" text-anchor="middle" fill="#222" font-family="&quot;Liberation Sans&quot;, sans-serif" font-weight="normal" stroke="#222" stroke-width="0.18">8.97</text>
<text transform="translate(578.30,719.10) scale(0.92,1)" font-size="5.0" text-anchor="middle" fill="#222" font-family="&quot;Liberation Sans&quot;, sans-serif" font-weight="normal" stroke="#222" stroke-width="0.18">9.90</text>
<text transform="translate(590.50,720.50) scale(0.92,1)" font-size="5.0" text-anchor="middle" fill="#222" font-family="&quot;Liberation Sans&quot;, sans-serif" font-weight="normal" stroke="#222" stroke-width="0.18">9.97</text>
<text transform="translate(604.55,721.40) scale(0.92,1)" font-size="5.0" text-anchor="middle" fill="#222" font-family="&quot;Liberation Sans&quot;, sans-serif" font-weight="normal" stroke="#222" stroke-width="0.18">11.06</text>
</g>
</svg></body></html>
